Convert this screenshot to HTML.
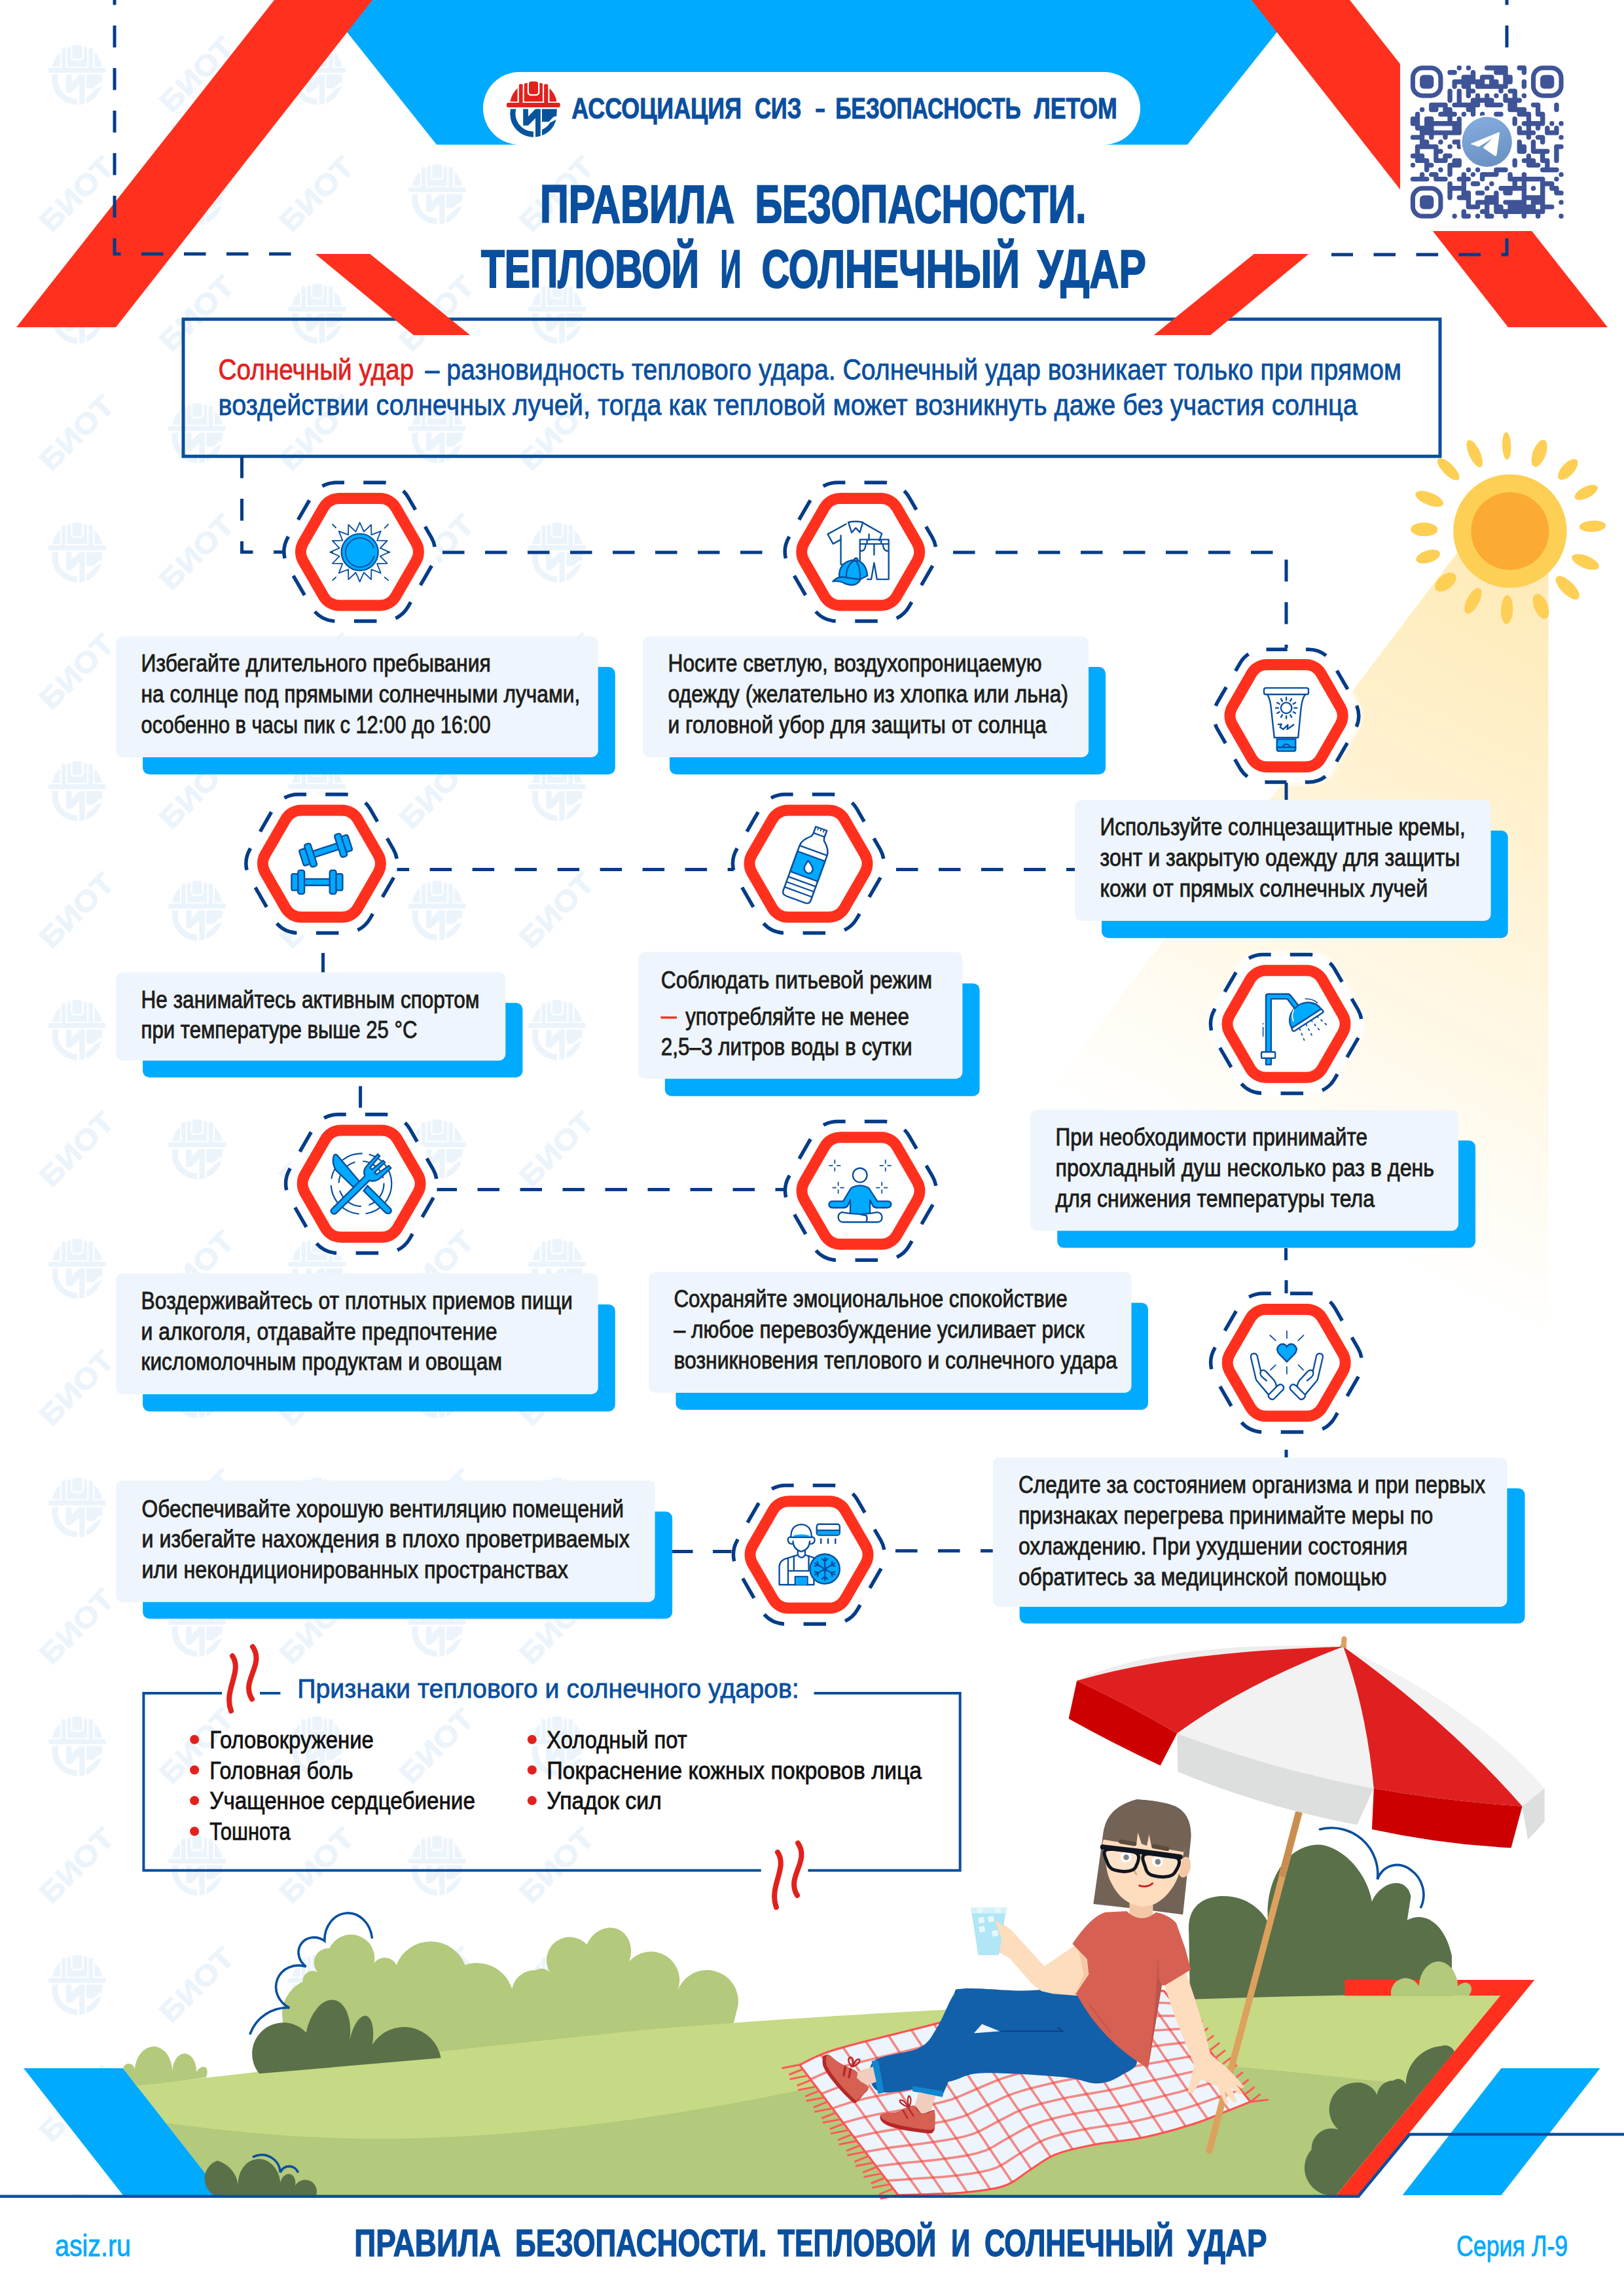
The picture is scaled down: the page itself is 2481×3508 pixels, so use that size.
<!DOCTYPE html>
<html lang="ru"><head><meta charset="utf-8"><title>Правила безопасности. Тепловой и солнечный удар</title>
<style>
html,body{margin:0;padding:0;background:#fff;}
body{width:2481px;height:3508px;overflow:hidden;}
svg{display:block;font-family:"Liberation Sans",sans-serif;}
</style></head><body>
<svg width="2481" height="3508" viewBox="0 0 2481 3508">
<defs>
<pattern id="wm" x="26.3" y="23.8" width="366.6" height="364.8" patternUnits="userSpaceOnUse">
<g transform="translate(91.7,90.2) scale(1.077) translate(-815,-166.5)"><path d="M779.5,155.2 A36,36 0 0 1 850.5,155.2 Z" fill="#EBF3FB"/><g fill="#fff"><rect x="790.6" y="120" width="2.3" height="36"/><rect x="798.4" y="120" width="2.3" height="36"/><rect x="829" y="120" width="2.3" height="36"/><rect x="837.2" y="120" width="2.3" height="36"/><rect x="805.8" y="122" width="18.5" height="24.3" rx="5"/></g><rect x="792.9" y="128.5" width="5.5" height="30" rx="1.5" fill="#EBF3FB"/><rect x="831.3" y="128.5" width="5.9" height="30" rx="1.5" fill="#EBF3FB"/><rect x="808" y="124.4" width="14" height="19.6" rx="3.5" fill="#EBF3FB"/><rect x="774" y="157" width="81.7" height="7" rx="2.5" fill="#EBF3FB"/><g fill="#EBF3FB"><path d="M779.9,166.5 A35.8,35.8 0 0 0 815,209.4 L815,201 A27.5,27.5 0 0 1 788.3,166.5 Z"/><path d="M850.9,166.5 L850.2,177.6 L845.6,178.6 L838.5,186 L828,186 L828,166.5 Z"/><path d="M849.6,182.8 A35.8,35.8 0 0 1 828,207 L828,198 A27.5,27.5 0 0 0 840.5,187.3 Z"/><path d="M799.2,166.5 H806.9 V178 L818,166.5 H825.8 V207.8 A35.8,35.8 0 0 1 818,209.2 V180.5 L806.9,191.7 H799.2 Z"/></g></g>
<text transform="translate(275,91.2) rotate(-45)" text-anchor="middle" font-size="44" font-weight="bold" fill="#EBF3FB" stroke="#EBF3FB" stroke-width="1.2" textLength="140" lengthAdjust="spacingAndGlyphs" y="14">БИОТ</text>
<text transform="translate(91.7,273.6) rotate(-45)" text-anchor="middle" font-size="44" font-weight="bold" fill="#EBF3FB" stroke="#EBF3FB" stroke-width="1.2" textLength="140" lengthAdjust="spacingAndGlyphs" y="14">БИОТ</text>
<g transform="translate(275,272.6) scale(1.077) translate(-815,-166.5)"><path d="M779.5,155.2 A36,36 0 0 1 850.5,155.2 Z" fill="#EBF3FB"/><g fill="#fff"><rect x="790.6" y="120" width="2.3" height="36"/><rect x="798.4" y="120" width="2.3" height="36"/><rect x="829" y="120" width="2.3" height="36"/><rect x="837.2" y="120" width="2.3" height="36"/><rect x="805.8" y="122" width="18.5" height="24.3" rx="5"/></g><rect x="792.9" y="128.5" width="5.5" height="30" rx="1.5" fill="#EBF3FB"/><rect x="831.3" y="128.5" width="5.9" height="30" rx="1.5" fill="#EBF3FB"/><rect x="808" y="124.4" width="14" height="19.6" rx="3.5" fill="#EBF3FB"/><rect x="774" y="157" width="81.7" height="7" rx="2.5" fill="#EBF3FB"/><g fill="#EBF3FB"><path d="M779.9,166.5 A35.8,35.8 0 0 0 815,209.4 L815,201 A27.5,27.5 0 0 1 788.3,166.5 Z"/><path d="M850.9,166.5 L850.2,177.6 L845.6,178.6 L838.5,186 L828,186 L828,166.5 Z"/><path d="M849.6,182.8 A35.8,35.8 0 0 1 828,207 L828,198 A27.5,27.5 0 0 0 840.5,187.3 Z"/><path d="M799.2,166.5 H806.9 V178 L818,166.5 H825.8 V207.8 A35.8,35.8 0 0 1 818,209.2 V180.5 L806.9,191.7 H799.2 Z"/></g></g>
</pattern>
<linearGradient id="beam" gradientUnits="userSpaceOnUse" x1="2306" y1="811" x2="1820" y2="1772">
<stop offset="0" stop-color="#FFE4A0" stop-opacity="0.78"/><stop offset="1" stop-color="#FFE4A0" stop-opacity="0"/>
</linearGradient>
<linearGradient id="tg" x1="0" y1="0" x2="0.3" y2="1"><stop offset="0" stop-color="#86AEE0"/><stop offset="1" stop-color="#6C93C4"/></linearGradient>
<filter id="blur4" x="-20%" y="-20%" width="140%" height="140%"><feGaussianBlur stdDeviation="3"/></filter>
</defs>
<rect width="2481" height="3508" fill="#fff"/>
<rect width="945" height="3357" fill="url(#wm)"/>
<polygon points="2225.7,845 1124.3,2300 2365.5,2300 2365.5,845" fill="url(#beam)"/>
<polygon points="491,0 1990,0 1814,221 667,221" fill="#00AAFF"/>
<polygon points="419,0 569,0 177,500 25,500" fill="#FF311E"/>
<polygon points="2062,0 1912,0 2304,500 2456,500" fill="#FF311E"/>
<polygon points="482,388 565,388 718,512 632,512" fill="#FF311E"/>
<polygon points="1999,388 1916,388 1763,512 1849,512" fill="#FF311E"/>
<path d="M175,-26 V388 H445" fill="none" stroke="#043C88" stroke-width="5" stroke-dasharray="33.5 31.5"/>
<path d="M2302,-26 V389 H2034" fill="none" stroke="#043C88" stroke-width="5" stroke-dasharray="33.5 31.5"/>
<rect x="2139" y="85" width="270" height="268" fill="#fff"/>
<path d="M2229.1,100 L2229.4,100 A3.5,3.5 0 0 1 2232.9,103.6 L2232.9,103.9 A3.5,3.5 0 0 1 2229.4,107.4 L2229.1,107.4 A3.5,3.5 0 0 1 2225.6,103.9 L2225.6,103.6 A3.5,3.5 0 0 1 2229.1,100Z M2243.2,100 L2243.6,100 A3.5,3.5 0 0 1 2247.1,103.6 L2247.1,103.9 A3.5,3.5 0 0 1 2243.6,107.4 L2243.2,107.4 A3.5,3.5 0 0 1 2239.7,103.9 L2239.7,103.6 A3.5,3.5 0 0 1 2243.2,100Z M2271.6,100 L2275.4,100 L2275.4,107.4 L2271.6,107.4 A3.5,3.5 0 0 1 2268,103.9 L2268,103.6 A3.5,3.5 0 0 1 2271.6,100Z M2275.1,100 L2282.5,100 L2282.5,107.4 L2275.1,107.4 L2275.1,100Z M2282.2,100 L2289.6,100 L2289.6,107.4 L2282.2,107.4 L2282.2,100Z M2289.3,100 L2296.7,100 L2296.7,107.4 L2289.3,107.4 L2289.3,100Z M2296.3,100 L2300.2,100 A3.5,3.5 0 0 1 2303.7,103.6 L2303.7,107.4 L2296.3,107.4 L2296.3,100Z M2321.1,100 L2325,100 L2325,107.4 L2321.1,107.4 A3.5,3.5 0 0 1 2317.6,103.9 L2317.6,103.6 A3.5,3.5 0 0 1 2321.1,100Z M2324.7,100 L2328.5,100 A3.5,3.5 0 0 1 2332.1,103.6 L2332.1,107.4 L2324.7,107.4 L2324.7,100Z M2214.9,107.1 L2218.8,107.1 L2218.8,114.5 L2214.9,114.5 A3.5,3.5 0 0 1 2211.4,111 L2211.4,110.7 A3.5,3.5 0 0 1 2214.9,107.1Z M2218.5,107.1 L2222.3,107.1 A3.5,3.5 0 0 1 2225.8,110.7 L2225.8,111 A3.5,3.5 0 0 1 2222.3,114.5 L2218.5,114.5 L2218.5,107.1Z M2250.3,107.1 L2250.6,107.1 A3.5,3.5 0 0 1 2254.2,110.7 L2254.2,114.5 L2246.8,114.5 L2246.8,110.7 A3.5,3.5 0 0 1 2250.3,107.1Z M2282.2,107.1 L2289.6,107.1 L2289.6,114.5 L2285.7,114.5 A3.5,3.5 0 0 1 2282.2,111 L2282.2,107.1Z M2289.3,107.1 L2296.7,107.1 L2296.7,114.5 L2289.3,114.5 L2289.3,107.1Z M2296.3,107.1 L2303.7,107.1 L2303.7,114.5 L2296.3,114.5 L2296.3,107.1Z M2324.7,107.1 L2332.1,107.1 L2332.1,111 A3.5,3.5 0 0 1 2328.5,114.5 L2328.2,114.5 A3.5,3.5 0 0 1 2324.7,111 L2324.7,107.1Z M2236.2,114.2 L2240,114.2 L2240,121.6 L2232.6,121.6 L2232.6,117.8 A3.5,3.5 0 0 1 2236.2,114.2Z M2239.7,114.2 L2247.1,114.2 L2247.1,121.6 L2239.7,121.6 L2239.7,114.2Z M2246.8,114.2 L2254.2,114.2 L2254.2,121.6 L2246.8,121.6 L2246.8,114.2Z M2264.5,114.2 L2268.3,114.2 L2268.3,121.6 L2260.9,121.6 L2260.9,117.8 A3.5,3.5 0 0 1 2264.5,114.2Z M2268,114.2 L2275.4,114.2 L2275.4,121.6 L2268,121.6 L2268,114.2Z M2275.1,114.2 L2279,114.2 A3.5,3.5 0 0 1 2282.5,117.8 L2282.5,121.6 L2275.1,121.6 L2275.1,114.2Z M2296.3,114.2 L2303.7,114.2 L2303.7,121.6 L2296.3,121.6 L2296.3,114.2Z M2303.4,114.2 L2307.3,114.2 A3.5,3.5 0 0 1 2310.8,117.8 L2310.8,121.6 L2303.4,121.6 L2303.4,114.2Z M2222,121.3 L2225.8,121.3 L2225.8,128.7 L2218.5,128.7 L2218.5,124.8 A3.5,3.5 0 0 1 2222,121.3Z M2225.6,121.3 L2232.9,121.3 L2232.9,128.7 L2225.6,128.7 L2225.6,121.3Z M2232.6,121.3 L2240,121.3 L2240,128.7 L2232.6,128.7 L2232.6,121.3Z M2239.7,121.3 L2247.1,121.3 L2247.1,128.7 L2239.7,128.7 L2239.7,121.3Z M2246.8,121.3 L2254.2,121.3 L2254.2,128.7 L2246.8,128.7 L2246.8,121.3Z M2253.9,121.3 L2261.2,121.3 L2261.2,128.7 L2253.9,128.7 L2253.9,121.3Z M2260.9,121.3 L2268.3,121.3 L2268.3,128.7 L2260.9,128.7 L2260.9,121.3Z M2275.1,121.3 L2282.5,121.3 L2282.5,128.7 L2275.1,128.7 L2275.1,121.3Z M2282.2,121.3 L2286,121.3 A3.5,3.5 0 0 1 2289.6,124.8 L2289.6,128.7 L2282.2,128.7 L2282.2,121.3Z M2296.3,121.3 L2303.7,121.3 L2303.7,128.7 L2296.3,128.7 L2296.3,121.3Z M2303.4,121.3 L2310.8,121.3 L2310.8,125.1 A3.5,3.5 0 0 1 2307.3,128.7 L2303.4,128.7 L2303.4,121.3Z M2328.2,121.3 L2328.5,121.3 A3.5,3.5 0 0 1 2332.1,124.8 L2332.1,128.7 L2324.7,128.7 L2324.7,124.8 A3.5,3.5 0 0 1 2328.2,121.3Z M2218.5,128.4 L2225.8,128.4 L2225.8,132.2 A3.5,3.5 0 0 1 2222.3,135.8 L2222,135.8 A3.5,3.5 0 0 1 2218.5,132.2 L2218.5,128.4Z M2232.6,128.4 L2240,128.4 L2240,135.8 L2236.2,135.8 A3.5,3.5 0 0 1 2232.6,132.2 L2232.6,128.4Z M2239.7,128.4 L2247.1,128.4 L2247.1,135.8 L2239.7,135.8 L2239.7,128.4Z M2253.9,128.4 L2261.2,128.4 L2261.2,135.8 L2257.4,135.8 A3.5,3.5 0 0 1 2253.9,132.2 L2253.9,128.4Z M2260.9,128.4 L2268.3,128.4 L2268.3,135.8 L2260.9,135.8 L2260.9,128.4Z M2268,128.4 L2275.4,128.4 L2275.4,135.8 L2268,135.8 L2268,128.4Z M2275.1,128.4 L2282.5,128.4 L2282.5,135.8 L2275.1,135.8 L2275.1,128.4Z M2282.2,128.4 L2289.6,128.4 L2289.6,135.8 L2282.2,135.8 L2282.2,128.4Z M2289.3,128.4 L2296.7,128.4 L2296.7,135.8 L2289.3,135.8 L2289.3,128.4Z M2296.3,128.4 L2303.7,128.4 L2303.7,132.2 A3.5,3.5 0 0 1 2300.2,135.8 L2296.3,135.8 L2296.3,128.4Z M2324.7,128.4 L2332.1,128.4 L2332.1,132.2 A3.5,3.5 0 0 1 2328.5,135.8 L2328.2,135.8 A3.5,3.5 0 0 1 2324.7,132.2 L2324.7,128.4Z M2214.9,135.4 L2215.2,135.4 A3.5,3.5 0 0 1 2218.8,139 L2218.8,142.8 L2211.4,142.8 L2211.4,139 A3.5,3.5 0 0 1 2214.9,135.4Z M2229.1,135.4 L2229.4,135.4 A3.5,3.5 0 0 1 2232.9,139 L2232.9,142.8 L2225.6,142.8 L2225.6,139 A3.5,3.5 0 0 1 2229.1,135.4Z M2239.7,135.4 L2247.1,135.4 L2247.1,142.8 L2239.7,142.8 L2239.7,135.4Z M2246.8,135.4 L2250.6,135.4 A3.5,3.5 0 0 1 2254.2,139 L2254.2,139.3 A3.5,3.5 0 0 1 2250.6,142.8 L2246.8,142.8 L2246.8,135.4Z M2289.3,135.4 L2296.7,135.4 L2296.7,139.3 A3.5,3.5 0 0 1 2293.1,142.8 L2292.8,142.8 A3.5,3.5 0 0 1 2289.3,139.3 L2289.3,135.4Z M2307,135.4 L2310.8,135.4 L2310.8,142.8 L2307,142.8 A3.5,3.5 0 0 1 2303.4,139.3 L2303.4,139 A3.5,3.5 0 0 1 2307,135.4Z M2310.5,135.4 L2314.3,135.4 A3.5,3.5 0 0 1 2317.9,139 L2317.9,142.8 L2310.5,142.8 L2310.5,135.4Z M2211.4,142.5 L2218.8,142.5 L2218.8,149.9 L2211.4,149.9 L2211.4,142.5Z M2225.6,142.5 L2232.9,142.5 L2232.9,149.9 L2225.6,149.9 L2225.6,142.5Z M2239.7,142.5 L2247.1,142.5 L2247.1,146.4 A3.5,3.5 0 0 1 2243.6,149.9 L2243.2,149.9 A3.5,3.5 0 0 1 2239.7,146.4 L2239.7,142.5Z M2257.4,142.5 L2257.7,142.5 A3.5,3.5 0 0 1 2261.2,146.1 L2261.2,149.9 L2253.9,149.9 L2253.9,146.1 A3.5,3.5 0 0 1 2257.4,142.5Z M2271.6,142.5 L2271.9,142.5 A3.5,3.5 0 0 1 2275.4,146.1 L2275.4,149.9 L2268,149.9 L2268,146.1 A3.5,3.5 0 0 1 2271.6,142.5Z M2285.7,142.5 L2286,142.5 A3.5,3.5 0 0 1 2289.6,146.1 L2289.6,146.4 A3.5,3.5 0 0 1 2286,149.9 L2285.7,149.9 A3.5,3.5 0 0 1 2282.2,146.4 L2282.2,146.1 A3.5,3.5 0 0 1 2285.7,142.5Z M2299.9,142.5 L2300.2,142.5 A3.5,3.5 0 0 1 2303.7,146.1 L2303.7,149.9 L2296.3,149.9 L2296.3,146.1 A3.5,3.5 0 0 1 2299.9,142.5Z M2310.5,142.5 L2317.9,142.5 L2317.9,149.9 L2310.5,149.9 L2310.5,142.5Z M2328.2,142.5 L2328.5,142.5 A3.5,3.5 0 0 1 2332.1,146.1 L2332.1,146.4 A3.5,3.5 0 0 1 2328.5,149.9 L2328.2,149.9 A3.5,3.5 0 0 1 2324.7,146.4 L2324.7,146.1 A3.5,3.5 0 0 1 2328.2,142.5Z M2211.4,149.6 L2218.8,149.6 L2218.8,153.5 A3.5,3.5 0 0 1 2215.2,157 L2214.9,157 A3.5,3.5 0 0 1 2211.4,153.5 L2211.4,149.6Z M2225.6,149.6 L2232.9,149.6 L2232.9,157 L2225.6,157 L2225.6,149.6Z M2250.3,149.6 L2254.2,149.6 L2254.2,157 L2246.8,157 L2246.8,153.1 A3.5,3.5 0 0 1 2250.3,149.6Z M2253.9,149.6 L2261.2,149.6 L2261.2,157 L2253.9,157 L2253.9,149.6Z M2260.9,149.6 L2268.3,149.6 L2268.3,157 L2260.9,157 L2260.9,149.6Z M2268,149.6 L2275.4,149.6 L2275.4,157 L2268,157 L2268,149.6Z M2275.1,149.6 L2279,149.6 A3.5,3.5 0 0 1 2282.5,153.1 L2282.5,157 L2275.1,157 L2275.1,149.6Z M2296.3,149.6 L2303.7,149.6 L2303.7,157 L2299.9,157 A3.5,3.5 0 0 1 2296.3,153.5 L2296.3,149.6Z M2303.4,149.6 L2310.8,149.6 L2310.8,157 L2303.4,157 L2303.4,149.6Z M2310.5,149.6 L2317.9,149.6 L2317.9,157 L2310.5,157 L2310.5,149.6Z M2317.6,149.6 L2321.4,149.6 A3.5,3.5 0 0 1 2325,153.1 L2325,153.5 A3.5,3.5 0 0 1 2321.4,157 L2317.6,157 L2317.6,149.6Z M2186.6,156.7 L2190.5,156.7 L2190.5,164.1 L2183.1,164.1 L2183.1,160.2 A3.5,3.5 0 0 1 2186.6,156.7Z M2190.2,156.7 L2197.5,156.7 L2197.5,164.1 L2190.2,164.1 L2190.2,156.7Z M2197.2,156.7 L2204.6,156.7 L2204.6,164.1 L2197.2,164.1 L2197.2,156.7Z M2204.3,156.7 L2208.2,156.7 A3.5,3.5 0 0 1 2211.7,160.2 L2211.7,164.1 L2204.3,164.1 L2204.3,156.7Z M2222,156.7 L2225.8,156.7 L2225.8,164.1 L2222,164.1 A3.5,3.5 0 0 1 2218.5,160.5 L2218.5,160.2 A3.5,3.5 0 0 1 2222,156.7Z M2225.6,156.7 L2232.9,156.7 L2232.9,164.1 L2225.6,164.1 L2225.6,156.7Z M2232.6,156.7 L2240,156.7 L2240,164.1 L2232.6,164.1 L2232.6,156.7Z M2239.7,156.7 L2247.1,156.7 L2247.1,164.1 L2239.7,164.1 L2239.7,156.7Z M2246.8,156.7 L2254.2,156.7 L2254.2,164.1 L2246.8,164.1 L2246.8,156.7Z M2253.9,156.7 L2261.2,156.7 L2261.2,160.5 A3.5,3.5 0 0 1 2257.7,164.1 L2253.9,164.1 L2253.9,156.7Z M2268,156.7 L2275.4,156.7 L2275.4,164.1 L2271.6,164.1 A3.5,3.5 0 0 1 2268,160.5 L2268,156.7Z M2275.1,156.7 L2282.5,156.7 L2282.5,164.1 L2275.1,164.1 L2275.1,156.7Z M2282.2,156.7 L2289.6,156.7 L2289.6,164.1 L2282.2,164.1 L2282.2,156.7Z M2289.3,156.7 L2293.1,156.7 A3.5,3.5 0 0 1 2296.7,160.2 L2296.7,160.5 A3.5,3.5 0 0 1 2293.1,164.1 L2289.3,164.1 L2289.3,156.7Z M2303.4,156.7 L2310.8,156.7 L2310.8,164.1 L2303.4,164.1 L2303.4,156.7Z M2310.5,156.7 L2317.9,156.7 L2317.9,164.1 L2310.5,164.1 L2310.5,156.7Z M2342.4,156.7 L2346.2,156.7 L2346.2,164.1 L2342.4,164.1 A3.5,3.5 0 0 1 2338.8,160.5 L2338.8,160.2 A3.5,3.5 0 0 1 2342.4,156.7Z M2345.9,156.7 L2349.8,156.7 A3.5,3.5 0 0 1 2353.3,160.2 L2353.3,164.1 L2345.9,164.1 L2345.9,156.7Z M2377.8,156.7 L2378.1,156.7 A3.5,3.5 0 0 1 2381.6,160.2 L2381.6,164.1 L2374.2,164.1 L2374.2,160.2 A3.5,3.5 0 0 1 2377.8,156.7Z M2172.4,163.8 L2172.8,163.8 A3.5,3.5 0 0 1 2176.3,167.3 L2176.3,167.6 A3.5,3.5 0 0 1 2172.8,171.2 L2172.4,171.2 A3.5,3.5 0 0 1 2168.9,167.6 L2168.9,167.3 A3.5,3.5 0 0 1 2172.4,163.8Z M2183.1,163.8 L2190.5,163.8 L2190.5,171.2 L2186.6,171.2 A3.5,3.5 0 0 1 2183.1,167.6 L2183.1,163.8Z M2190.2,163.8 L2197.5,163.8 L2197.5,167.6 A3.5,3.5 0 0 1 2194,171.2 L2190.2,171.2 L2190.2,163.8Z M2204.3,163.8 L2211.7,163.8 L2211.7,171.2 L2204.3,171.2 L2204.3,163.8Z M2211.4,163.8 L2215.2,163.8 A3.5,3.5 0 0 1 2218.8,167.3 L2218.8,171.2 L2211.4,171.2 L2211.4,163.8Z M2239.7,163.8 L2247.1,163.8 L2247.1,171.2 L2243.2,171.2 A3.5,3.5 0 0 1 2239.7,167.6 L2239.7,163.8Z M2246.8,163.8 L2254.2,163.8 L2254.2,171.2 L2246.8,171.2 L2246.8,163.8Z M2303.4,163.8 L2310.8,163.8 L2310.8,171.2 L2307,171.2 A3.5,3.5 0 0 1 2303.4,167.6 L2303.4,163.8Z M2310.5,163.8 L2317.9,163.8 L2317.9,171.2 L2310.5,171.2 L2310.5,163.8Z M2317.6,163.8 L2325,163.8 L2325,171.2 L2317.6,171.2 L2317.6,163.8Z M2324.7,163.8 L2328.5,163.8 A3.5,3.5 0 0 1 2332.1,167.3 L2332.1,171.2 L2324.7,171.2 L2324.7,163.8Z M2345.9,163.8 L2353.3,163.8 L2353.3,171.2 L2345.9,171.2 L2345.9,163.8Z M2374.2,163.8 L2381.6,163.8 L2381.6,167.6 A3.5,3.5 0 0 1 2378.1,171.2 L2377.8,171.2 A3.5,3.5 0 0 1 2374.2,167.6 L2374.2,163.8Z M2165.4,170.8 L2165.7,170.8 A3.5,3.5 0 0 1 2169.2,174.4 L2169.2,178.2 L2161.8,178.2 L2161.8,174.4 A3.5,3.5 0 0 1 2165.4,170.8Z M2200.8,170.8 L2204.6,170.8 L2204.6,178.2 L2200.8,178.2 A3.5,3.5 0 0 1 2197.2,174.7 L2197.2,174.4 A3.5,3.5 0 0 1 2200.8,170.8Z M2204.3,170.8 L2211.7,170.8 L2211.7,178.2 L2204.3,178.2 L2204.3,170.8Z M2211.4,170.8 L2218.8,170.8 L2218.8,178.2 L2211.4,178.2 L2211.4,170.8Z M2218.5,170.8 L2222.3,170.8 A3.5,3.5 0 0 1 2225.8,174.4 L2225.8,174.7 A3.5,3.5 0 0 1 2222.3,178.2 L2218.5,178.2 L2218.5,170.8Z M2236.2,170.8 L2236.5,170.8 A3.5,3.5 0 0 1 2240,174.4 L2240,174.7 A3.5,3.5 0 0 1 2236.5,178.2 L2236.2,178.2 A3.5,3.5 0 0 1 2232.6,174.7 L2232.6,174.4 A3.5,3.5 0 0 1 2236.2,170.8Z M2246.8,170.8 L2254.2,170.8 L2254.2,174.7 A3.5,3.5 0 0 1 2250.6,178.2 L2250.3,178.2 A3.5,3.5 0 0 1 2246.8,174.7 L2246.8,170.8Z M2264.5,170.8 L2264.8,170.8 A3.5,3.5 0 0 1 2268.3,174.4 L2268.3,174.7 A3.5,3.5 0 0 1 2264.8,178.2 L2264.5,178.2 A3.5,3.5 0 0 1 2260.9,174.7 L2260.9,174.4 A3.5,3.5 0 0 1 2264.5,170.8Z M2285.7,170.8 L2289.6,170.8 L2289.6,178.2 L2285.7,178.2 A3.5,3.5 0 0 1 2282.2,174.7 L2282.2,174.4 A3.5,3.5 0 0 1 2285.7,170.8Z M2289.3,170.8 L2293.1,170.8 A3.5,3.5 0 0 1 2296.7,174.4 L2296.7,174.7 A3.5,3.5 0 0 1 2293.1,178.2 L2289.3,178.2 L2289.3,170.8Z M2317.6,170.8 L2325,170.8 L2325,178.2 L2321.1,178.2 A3.5,3.5 0 0 1 2317.6,174.7 L2317.6,170.8Z M2324.7,170.8 L2332.1,170.8 L2332.1,178.2 L2324.7,178.2 L2324.7,170.8Z M2331.8,170.8 L2335.6,170.8 A3.5,3.5 0 0 1 2339.1,174.4 L2339.1,178.2 L2331.8,178.2 L2331.8,170.8Z M2345.9,170.8 L2353.3,170.8 L2353.3,178.2 L2349.4,178.2 A3.5,3.5 0 0 1 2345.9,174.7 L2345.9,170.8Z M2353,170.8 L2356.8,170.8 A3.5,3.5 0 0 1 2360.4,174.4 L2360.4,178.2 L2353,178.2 L2353,170.8Z M2158.3,177.9 L2162.1,177.9 L2162.1,185.3 L2154.8,185.3 L2154.8,181.5 A3.5,3.5 0 0 1 2158.3,177.9Z M2161.8,177.9 L2169.2,177.9 L2169.2,185.3 L2161.8,185.3 L2161.8,177.9Z M2179.5,177.9 L2183.4,177.9 L2183.4,185.3 L2176,185.3 L2176,181.5 A3.5,3.5 0 0 1 2179.5,177.9Z M2183.1,177.9 L2186.9,177.9 A3.5,3.5 0 0 1 2190.5,181.5 L2190.5,185.3 L2183.1,185.3 L2183.1,177.9Z M2211.4,177.9 L2218.8,177.9 L2218.8,185.3 L2211.4,185.3 L2211.4,177.9Z M2229.1,177.9 L2229.4,177.9 A3.5,3.5 0 0 1 2232.9,181.5 L2232.9,185.3 L2225.6,185.3 L2225.6,181.5 A3.5,3.5 0 0 1 2229.1,177.9Z M2314,177.9 L2314.3,177.9 A3.5,3.5 0 0 1 2317.9,181.5 L2317.9,185.3 L2310.5,185.3 L2310.5,181.5 A3.5,3.5 0 0 1 2314,177.9Z M2331.8,177.9 L2339.1,177.9 L2339.1,185.3 L2331.8,185.3 L2331.8,177.9Z M2353,177.9 L2360.4,177.9 L2360.4,185.3 L2353,185.3 L2353,177.9Z M2154.8,185 L2162.1,185 L2162.1,192.4 L2158.3,192.4 A3.5,3.5 0 0 1 2154.8,188.9 L2154.8,185Z M2161.8,185 L2169.2,185 L2169.2,192.4 L2161.8,192.4 L2161.8,185Z M2176,185 L2183.4,185 L2183.4,192.4 L2176,192.4 L2176,185Z M2183.1,185 L2190.5,185 L2190.5,192.4 L2183.1,192.4 L2183.1,185Z M2190.2,185 L2197.5,185 L2197.5,192.4 L2190.2,192.4 L2190.2,185Z M2197.2,185 L2204.6,185 L2204.6,192.4 L2197.2,192.4 L2197.2,185Z M2204.3,185 L2211.7,185 L2211.7,192.4 L2204.3,192.4 L2204.3,185Z M2211.4,185 L2218.8,185 L2218.8,192.4 L2211.4,192.4 L2211.4,185Z M2218.5,185 L2225.8,185 L2225.8,192.4 L2218.5,192.4 L2218.5,185Z M2225.6,185 L2232.9,185 L2232.9,192.4 L2225.6,192.4 L2225.6,185Z M2310.5,185 L2317.9,185 L2317.9,188.9 A3.5,3.5 0 0 1 2314.3,192.4 L2314,192.4 A3.5,3.5 0 0 1 2310.5,188.9 L2310.5,185Z M2328.2,185 L2332.1,185 L2332.1,192.4 L2328.2,192.4 A3.5,3.5 0 0 1 2324.7,188.9 L2324.7,188.6 A3.5,3.5 0 0 1 2328.2,185Z M2331.8,185 L2339.1,185 L2339.1,192.4 L2331.8,192.4 L2331.8,185Z M2338.8,185 L2346.2,185 L2346.2,192.4 L2338.8,192.4 L2338.8,185Z M2345.9,185 L2353.3,185 L2353.3,192.4 L2345.9,192.4 L2345.9,185Z M2353,185 L2360.4,185 L2360.4,188.9 A3.5,3.5 0 0 1 2356.8,192.4 L2353,192.4 L2353,185Z M2370.7,185 L2371,185 A3.5,3.5 0 0 1 2374.5,188.6 L2374.5,188.9 A3.5,3.5 0 0 1 2371,192.4 L2370.7,192.4 A3.5,3.5 0 0 1 2367.2,188.9 L2367.2,188.6 A3.5,3.5 0 0 1 2370.7,185Z M2384.8,185 L2385.2,185 A3.5,3.5 0 0 1 2388.7,188.6 L2388.7,188.9 A3.5,3.5 0 0 1 2385.2,192.4 L2384.8,192.4 A3.5,3.5 0 0 1 2381.3,188.9 L2381.3,188.6 A3.5,3.5 0 0 1 2384.8,185Z M2161.8,192.1 L2169.2,192.1 L2169.2,199.5 L2165.4,199.5 A3.5,3.5 0 0 1 2161.8,195.9 L2161.8,192.1Z M2168.9,192.1 L2176.3,192.1 L2176.3,199.5 L2168.9,199.5 L2168.9,192.1Z M2176,192.1 L2183.4,192.1 L2183.4,199.5 L2176,199.5 L2176,192.1Z M2183.1,192.1 L2190.5,192.1 L2190.5,199.5 L2183.1,199.5 L2183.1,192.1Z M2218.5,192.1 L2225.8,192.1 L2225.8,199.5 L2218.5,199.5 L2218.5,192.1Z M2225.6,192.1 L2232.9,192.1 L2232.9,199.5 L2225.6,199.5 L2225.6,192.1Z M2321.1,192.1 L2321.4,192.1 A3.5,3.5 0 0 1 2325,195.6 L2325,199.5 L2317.6,199.5 L2317.6,195.6 A3.5,3.5 0 0 1 2321.1,192.1Z M2331.8,192.1 L2339.1,192.1 L2339.1,199.5 L2331.8,199.5 L2331.8,192.1Z M2345.9,192.1 L2353.3,192.1 L2353.3,195.9 A3.5,3.5 0 0 1 2349.8,199.5 L2349.4,199.5 A3.5,3.5 0 0 1 2345.9,195.9 L2345.9,192.1Z M2363.6,192.1 L2363.9,192.1 A3.5,3.5 0 0 1 2367.5,195.6 L2367.5,199.5 L2360.1,199.5 L2360.1,195.6 A3.5,3.5 0 0 1 2363.6,192.1Z M2377.8,192.1 L2378.1,192.1 A3.5,3.5 0 0 1 2381.6,195.6 L2381.6,199.5 L2374.2,199.5 L2374.2,195.6 A3.5,3.5 0 0 1 2377.8,192.1Z M2168.9,199.2 L2176.3,199.2 L2176.3,206.6 L2168.9,206.6 L2168.9,199.2Z M2176,199.2 L2183.4,199.2 L2183.4,206.6 L2176,206.6 L2176,199.2Z M2183.1,199.2 L2190.5,199.2 L2190.5,206.6 L2183.1,206.6 L2183.1,199.2Z M2190.2,199.2 L2197.5,199.2 L2197.5,206.6 L2190.2,206.6 L2190.2,199.2Z M2197.2,199.2 L2204.6,199.2 L2204.6,206.6 L2197.2,206.6 L2197.2,199.2Z M2204.3,199.2 L2211.7,199.2 L2211.7,206.6 L2204.3,206.6 L2204.3,199.2Z M2211.4,199.2 L2218.8,199.2 L2218.8,206.6 L2211.4,206.6 L2211.4,199.2Z M2218.5,199.2 L2225.8,199.2 L2225.8,206.6 L2218.5,206.6 L2218.5,199.2Z M2225.6,199.2 L2232.9,199.2 L2232.9,203 A3.5,3.5 0 0 1 2229.4,206.6 L2225.6,206.6 L2225.6,199.2Z M2317.6,199.2 L2325,199.2 L2325,206.6 L2321.1,206.6 A3.5,3.5 0 0 1 2317.6,203 L2317.6,199.2Z M2324.7,199.2 L2332.1,199.2 L2332.1,206.6 L2324.7,206.6 L2324.7,199.2Z M2331.8,199.2 L2339.1,199.2 L2339.1,206.6 L2331.8,206.6 L2331.8,199.2Z M2338.8,199.2 L2342.7,199.2 A3.5,3.5 0 0 1 2346.2,202.7 L2346.2,203 A3.5,3.5 0 0 1 2342.7,206.6 L2338.8,206.6 L2338.8,199.2Z M2360.1,199.2 L2367.5,199.2 L2367.5,206.6 L2363.6,206.6 A3.5,3.5 0 0 1 2360.1,203 L2360.1,199.2Z M2367.2,199.2 L2374.5,199.2 L2374.5,206.6 L2367.2,206.6 L2367.2,199.2Z M2374.2,199.2 L2381.6,199.2 L2381.6,203 A3.5,3.5 0 0 1 2378.1,206.6 L2374.2,206.6 L2374.2,199.2Z M2158.3,206.2 L2162.1,206.2 L2162.1,213.6 L2158.3,213.6 A3.5,3.5 0 0 1 2154.8,210.1 L2154.8,209.8 A3.5,3.5 0 0 1 2158.3,206.2Z M2161.8,206.2 L2169.2,206.2 L2169.2,213.6 L2161.8,213.6 L2161.8,206.2Z M2168.9,206.2 L2176.3,206.2 L2176.3,213.6 L2168.9,213.6 L2168.9,206.2Z M2183.1,206.2 L2190.5,206.2 L2190.5,210.1 A3.5,3.5 0 0 1 2186.9,213.6 L2186.6,213.6 A3.5,3.5 0 0 1 2183.1,210.1 L2183.1,206.2Z M2204.3,206.2 L2211.7,206.2 L2211.7,210.1 A3.5,3.5 0 0 1 2208.2,213.6 L2207.8,213.6 A3.5,3.5 0 0 1 2204.3,210.1 L2204.3,206.2Z M2331.8,206.2 L2339.1,206.2 L2339.1,210.1 A3.5,3.5 0 0 1 2335.6,213.6 L2335.3,213.6 A3.5,3.5 0 0 1 2331.8,210.1 L2331.8,206.2Z M2349.4,206.2 L2353.3,206.2 L2353.3,213.6 L2349.4,213.6 A3.5,3.5 0 0 1 2345.9,210.1 L2345.9,209.8 A3.5,3.5 0 0 1 2349.4,206.2Z M2353,206.2 L2356.8,206.2 A3.5,3.5 0 0 1 2360.4,209.8 L2360.4,213.6 L2353,213.6 L2353,206.2Z M2384.8,206.2 L2385.2,206.2 A3.5,3.5 0 0 1 2388.7,209.8 L2388.7,210.1 A3.5,3.5 0 0 1 2385.2,213.6 L2384.8,213.6 A3.5,3.5 0 0 1 2381.3,210.1 L2381.3,209.8 A3.5,3.5 0 0 1 2384.8,206.2Z M2168.9,213.3 L2176.3,213.3 L2176.3,220.7 L2168.9,220.7 L2168.9,213.3Z M2176,213.3 L2179.8,213.3 A3.5,3.5 0 0 1 2183.4,216.9 L2183.4,220.7 L2176,220.7 L2176,213.3Z M2200.8,213.3 L2201.1,213.3 A3.5,3.5 0 0 1 2204.6,216.9 L2204.6,217.2 A3.5,3.5 0 0 1 2201.1,220.7 L2200.8,220.7 A3.5,3.5 0 0 1 2197.2,217.2 L2197.2,216.9 A3.5,3.5 0 0 1 2200.8,213.3Z M2222,213.3 L2225.8,213.3 L2225.8,220.7 L2222,220.7 A3.5,3.5 0 0 1 2218.5,217.2 L2218.5,216.9 A3.5,3.5 0 0 1 2222,213.3Z M2225.6,213.3 L2229.4,213.3 A3.5,3.5 0 0 1 2232.9,216.9 L2232.9,220.7 L2225.6,220.7 L2225.6,213.3Z M2321.1,213.3 L2321.4,213.3 A3.5,3.5 0 0 1 2325,216.9 L2325,220.7 L2317.6,220.7 L2317.6,216.9 A3.5,3.5 0 0 1 2321.1,213.3Z M2342.4,213.3 L2342.7,213.3 A3.5,3.5 0 0 1 2346.2,216.9 L2346.2,220.7 L2338.8,220.7 L2338.8,216.9 A3.5,3.5 0 0 1 2342.4,213.3Z M2353,213.3 L2360.4,213.3 L2360.4,217.2 A3.5,3.5 0 0 1 2356.8,220.7 L2356.5,220.7 A3.5,3.5 0 0 1 2353,217.2 L2353,213.3Z M2165.4,220.4 L2169.2,220.4 L2169.2,227.8 L2161.8,227.8 L2161.8,223.9 A3.5,3.5 0 0 1 2165.4,220.4Z M2168.9,220.4 L2176.3,220.4 L2176.3,227.8 L2168.9,227.8 L2168.9,220.4Z M2176,220.4 L2183.4,220.4 L2183.4,227.8 L2176,227.8 L2176,220.4Z M2183.1,220.4 L2190.5,220.4 L2190.5,227.8 L2183.1,227.8 L2183.1,220.4Z M2190.2,220.4 L2194,220.4 A3.5,3.5 0 0 1 2197.5,223.9 L2197.5,227.8 L2190.2,227.8 L2190.2,220.4Z M2214.9,220.4 L2215.2,220.4 A3.5,3.5 0 0 1 2218.8,223.9 L2218.8,224.3 A3.5,3.5 0 0 1 2215.2,227.8 L2214.9,227.8 A3.5,3.5 0 0 1 2211.4,224.3 L2211.4,223.9 A3.5,3.5 0 0 1 2214.9,220.4Z M2225.6,220.4 L2232.9,220.4 L2232.9,224.3 A3.5,3.5 0 0 1 2229.4,227.8 L2229.1,227.8 A3.5,3.5 0 0 1 2225.6,224.3 L2225.6,220.4Z M2317.6,220.4 L2325,220.4 L2325,227.8 L2317.6,227.8 L2317.6,220.4Z M2324.7,220.4 L2328.5,220.4 A3.5,3.5 0 0 1 2332.1,223.9 L2332.1,227.8 L2324.7,227.8 L2324.7,220.4Z M2338.8,220.4 L2346.2,220.4 L2346.2,227.8 L2338.8,227.8 L2338.8,220.4Z M2377.8,220.4 L2381.6,220.4 L2381.6,227.8 L2374.2,227.8 L2374.2,223.9 A3.5,3.5 0 0 1 2377.8,220.4Z M2381.3,220.4 L2385.2,220.4 A3.5,3.5 0 0 1 2388.7,223.9 L2388.7,224.3 A3.5,3.5 0 0 1 2385.2,227.8 L2381.3,227.8 L2381.3,220.4Z M2161.8,227.5 L2169.2,227.5 L2169.2,234.9 L2161.8,234.9 L2161.8,227.5Z M2190.2,227.5 L2197.5,227.5 L2197.5,234.9 L2190.2,234.9 L2190.2,227.5Z M2197.2,227.5 L2201.1,227.5 A3.5,3.5 0 0 1 2204.6,231 L2204.6,231.3 A3.5,3.5 0 0 1 2201.1,234.9 L2197.2,234.9 L2197.2,227.5Z M2317.6,227.5 L2325,227.5 L2325,234.9 L2321.1,234.9 A3.5,3.5 0 0 1 2317.6,231.3 L2317.6,227.5Z M2324.7,227.5 L2332.1,227.5 L2332.1,231.3 A3.5,3.5 0 0 1 2328.5,234.9 L2324.7,234.9 L2324.7,227.5Z M2338.8,227.5 L2346.2,227.5 L2346.2,234.9 L2342.4,234.9 A3.5,3.5 0 0 1 2338.8,231.3 L2338.8,227.5Z M2345.9,227.5 L2353.3,227.5 L2353.3,234.9 L2345.9,234.9 L2345.9,227.5Z M2353,227.5 L2360.4,227.5 L2360.4,234.9 L2353,234.9 L2353,227.5Z M2360.1,227.5 L2363.9,227.5 A3.5,3.5 0 0 1 2367.5,231 L2367.5,231.3 A3.5,3.5 0 0 1 2363.9,234.9 L2360.1,234.9 L2360.1,227.5Z M2374.2,227.5 L2381.6,227.5 L2381.6,234.9 L2374.2,234.9 L2374.2,227.5Z M2158.3,234.6 L2162.1,234.6 L2162.1,242 L2158.3,242 A3.5,3.5 0 0 1 2154.8,238.4 L2154.8,238.1 A3.5,3.5 0 0 1 2158.3,234.6Z M2161.8,234.6 L2169.2,234.6 L2169.2,242 L2161.8,242 L2161.8,234.6Z M2168.9,234.6 L2172.8,234.6 A3.5,3.5 0 0 1 2176.3,238.1 L2176.3,242 L2168.9,242 L2168.9,234.6Z M2190.2,234.6 L2197.5,234.6 L2197.5,242 L2190.2,242 L2190.2,234.6Z M2207.8,234.6 L2211.7,234.6 L2211.7,242 L2204.3,242 L2204.3,238.1 A3.5,3.5 0 0 1 2207.8,234.6Z M2211.4,234.6 L2215.2,234.6 A3.5,3.5 0 0 1 2218.8,238.1 L2218.8,238.4 A3.5,3.5 0 0 1 2215.2,242 L2211.4,242 L2211.4,234.6Z M2335.3,234.6 L2335.6,234.6 A3.5,3.5 0 0 1 2339.1,238.1 L2339.1,242 L2331.8,242 L2331.8,238.1 A3.5,3.5 0 0 1 2335.3,234.6Z M2353,234.6 L2360.4,234.6 L2360.4,242 L2353,242 L2353,234.6Z M2374.2,234.6 L2381.6,234.6 L2381.6,242 L2374.2,242 L2374.2,234.6Z M2161.8,241.7 L2169.2,241.7 L2169.2,249 L2165.4,249 A3.5,3.5 0 0 1 2161.8,245.5 L2161.8,241.7Z M2168.9,241.7 L2176.3,241.7 L2176.3,249 L2168.9,249 L2168.9,241.7Z M2176,241.7 L2179.8,241.7 A3.5,3.5 0 0 1 2183.4,245.2 L2183.4,249 L2176,249 L2176,241.7Z M2190.2,241.7 L2197.5,241.7 L2197.5,249 L2193.7,249 A3.5,3.5 0 0 1 2190.2,245.5 L2190.2,241.7Z M2197.2,241.7 L2204.6,241.7 L2204.6,249 L2197.2,249 L2197.2,241.7Z M2204.3,241.7 L2211.7,241.7 L2211.7,245.5 A3.5,3.5 0 0 1 2208.2,249 L2204.3,249 L2204.3,241.7Z M2222,241.7 L2225.8,241.7 L2225.8,249 L2218.5,249 L2218.5,245.2 A3.5,3.5 0 0 1 2222,241.7Z M2225.6,241.7 L2229.4,241.7 A3.5,3.5 0 0 1 2232.9,245.2 L2232.9,249 L2225.6,249 L2225.6,241.7Z M2314,241.7 L2314.3,241.7 A3.5,3.5 0 0 1 2317.9,245.2 L2317.9,249 L2310.5,249 L2310.5,245.2 A3.5,3.5 0 0 1 2314,241.7Z M2328.2,241.7 L2332.1,241.7 L2332.1,249 L2328.2,249 A3.5,3.5 0 0 1 2324.7,245.5 L2324.7,245.2 A3.5,3.5 0 0 1 2328.2,241.7Z M2331.8,241.7 L2339.1,241.7 L2339.1,249 L2331.8,249 L2331.8,241.7Z M2338.8,241.7 L2342.7,241.7 A3.5,3.5 0 0 1 2346.2,245.2 L2346.2,249 L2338.8,249 L2338.8,241.7Z M2353,241.7 L2360.4,241.7 L2360.4,249 L2356.5,249 A3.5,3.5 0 0 1 2353,245.5 L2353,241.7Z M2360.1,241.7 L2363.9,241.7 A3.5,3.5 0 0 1 2367.5,245.2 L2367.5,249 L2360.1,249 L2360.1,241.7Z M2374.2,241.7 L2381.6,241.7 L2381.6,245.5 A3.5,3.5 0 0 1 2378.1,249 L2377.8,249 A3.5,3.5 0 0 1 2374.2,245.5 L2374.2,241.7Z M2158.3,248.7 L2158.6,248.7 A3.5,3.5 0 0 1 2162.1,252.3 L2162.1,252.6 A3.5,3.5 0 0 1 2158.6,256.1 L2158.3,256.1 A3.5,3.5 0 0 1 2154.8,252.6 L2154.8,252.3 A3.5,3.5 0 0 1 2158.3,248.7Z M2176,248.7 L2183.4,248.7 L2183.4,256.1 L2176,256.1 L2176,248.7Z M2183.1,248.7 L2186.9,248.7 A3.5,3.5 0 0 1 2190.5,252.3 L2190.5,252.6 A3.5,3.5 0 0 1 2186.9,256.1 L2183.1,256.1 L2183.1,248.7Z M2214.9,248.7 L2218.8,248.7 L2218.8,256.1 L2211.4,256.1 L2211.4,252.3 A3.5,3.5 0 0 1 2214.9,248.7Z M2218.5,248.7 L2225.8,248.7 L2225.8,256.1 L2218.5,256.1 L2218.5,248.7Z M2225.6,248.7 L2232.9,248.7 L2232.9,252.6 A3.5,3.5 0 0 1 2229.4,256.1 L2225.6,256.1 L2225.6,248.7Z M2310.5,248.7 L2317.9,248.7 L2317.9,252.6 A3.5,3.5 0 0 1 2314.3,256.1 L2314,256.1 A3.5,3.5 0 0 1 2310.5,252.6 L2310.5,248.7Z M2331.8,248.7 L2339.1,248.7 L2339.1,256.1 L2335.3,256.1 A3.5,3.5 0 0 1 2331.8,252.6 L2331.8,248.7Z M2338.8,248.7 L2346.2,248.7 L2346.2,256.1 L2338.8,256.1 L2338.8,248.7Z M2345.9,248.7 L2349.8,248.7 A3.5,3.5 0 0 1 2353.3,252.3 L2353.3,252.6 A3.5,3.5 0 0 1 2349.8,256.1 L2345.9,256.1 L2345.9,248.7Z M2360.1,248.7 L2367.5,248.7 L2367.5,256.1 L2360.1,256.1 L2360.1,248.7Z M2176,255.8 L2183.4,255.8 L2183.4,259.6 A3.5,3.5 0 0 1 2179.8,263.2 L2179.5,263.2 A3.5,3.5 0 0 1 2176,259.6 L2176,255.8Z M2200.8,255.8 L2201.1,255.8 A3.5,3.5 0 0 1 2204.6,259.3 L2204.6,259.6 A3.5,3.5 0 0 1 2201.1,263.2 L2200.8,263.2 A3.5,3.5 0 0 1 2197.2,259.6 L2197.2,259.3 A3.5,3.5 0 0 1 2200.8,255.8Z M2211.4,255.8 L2218.8,255.8 L2218.8,263.2 L2211.4,263.2 L2211.4,255.8Z M2243.2,255.8 L2243.6,255.8 A3.5,3.5 0 0 1 2247.1,259.3 L2247.1,259.6 A3.5,3.5 0 0 1 2243.6,263.2 L2243.2,263.2 A3.5,3.5 0 0 1 2239.7,259.6 L2239.7,259.3 A3.5,3.5 0 0 1 2243.2,255.8Z M2257.4,255.8 L2257.7,255.8 A3.5,3.5 0 0 1 2261.2,259.3 L2261.2,259.6 A3.5,3.5 0 0 1 2257.7,263.2 L2257.4,263.2 A3.5,3.5 0 0 1 2253.9,259.6 L2253.9,259.3 A3.5,3.5 0 0 1 2257.4,255.8Z M2285.7,255.8 L2289.6,255.8 L2289.6,263.2 L2282.2,263.2 L2282.2,259.3 A3.5,3.5 0 0 1 2285.7,255.8Z M2289.3,255.8 L2296.7,255.8 L2296.7,263.2 L2289.3,263.2 L2289.3,255.8Z M2296.3,255.8 L2300.2,255.8 A3.5,3.5 0 0 1 2303.7,259.3 L2303.7,259.6 A3.5,3.5 0 0 1 2300.2,263.2 L2296.3,263.2 L2296.3,255.8Z M2356.5,255.8 L2360.4,255.8 L2360.4,263.2 L2356.5,263.2 A3.5,3.5 0 0 1 2353,259.6 L2353,259.3 A3.5,3.5 0 0 1 2356.5,255.8Z M2360.1,255.8 L2367.5,255.8 L2367.5,263.2 L2360.1,263.2 L2360.1,255.8Z M2367.2,255.8 L2374.5,255.8 L2374.5,263.2 L2367.2,263.2 L2367.2,255.8Z M2374.2,255.8 L2378.1,255.8 A3.5,3.5 0 0 1 2381.6,259.3 L2381.6,259.6 A3.5,3.5 0 0 1 2378.1,263.2 L2374.2,263.2 L2374.2,255.8Z M2172.4,262.9 L2172.8,262.9 A3.5,3.5 0 0 1 2176.3,266.4 L2176.3,270.3 L2168.9,270.3 L2168.9,266.4 A3.5,3.5 0 0 1 2172.4,262.9Z M2186.6,262.9 L2190.5,262.9 L2190.5,270.3 L2186.6,270.3 A3.5,3.5 0 0 1 2183.1,266.7 L2183.1,266.4 A3.5,3.5 0 0 1 2186.6,262.9Z M2190.2,262.9 L2194,262.9 A3.5,3.5 0 0 1 2197.5,266.4 L2197.5,270.3 L2190.2,270.3 L2190.2,262.9Z M2211.4,262.9 L2218.8,262.9 L2218.8,266.7 A3.5,3.5 0 0 1 2215.2,270.3 L2214.9,270.3 A3.5,3.5 0 0 1 2211.4,266.7 L2211.4,262.9Z M2236.2,262.9 L2236.5,262.9 A3.5,3.5 0 0 1 2240,266.4 L2240,270.3 L2232.6,270.3 L2232.6,266.4 A3.5,3.5 0 0 1 2236.2,262.9Z M2250.3,262.9 L2250.6,262.9 A3.5,3.5 0 0 1 2254.2,266.4 L2254.2,266.7 A3.5,3.5 0 0 1 2250.6,270.3 L2250.3,270.3 A3.5,3.5 0 0 1 2246.8,266.7 L2246.8,266.4 A3.5,3.5 0 0 1 2250.3,262.9Z M2264.5,262.9 L2268.3,262.9 L2268.3,270.3 L2260.9,270.3 L2260.9,266.4 A3.5,3.5 0 0 1 2264.5,262.9Z M2268,262.9 L2275.4,262.9 L2275.4,270.3 L2268,270.3 L2268,262.9Z M2275.1,262.9 L2282.5,262.9 L2282.5,270.3 L2275.1,270.3 L2275.1,262.9Z M2282.2,262.9 L2289.6,262.9 L2289.6,266.7 A3.5,3.5 0 0 1 2286,270.3 L2282.2,270.3 L2282.2,262.9Z M2307,262.9 L2307.3,262.9 A3.5,3.5 0 0 1 2310.8,266.4 L2310.8,270.3 L2303.4,270.3 L2303.4,266.4 A3.5,3.5 0 0 1 2307,262.9Z M2328.2,262.9 L2328.5,262.9 A3.5,3.5 0 0 1 2332.1,266.4 L2332.1,270.3 L2324.7,270.3 L2324.7,266.4 A3.5,3.5 0 0 1 2328.2,262.9Z M2384.8,262.9 L2385.2,262.9 A3.5,3.5 0 0 1 2388.7,266.4 L2388.7,266.7 A3.5,3.5 0 0 1 2385.2,270.3 L2384.8,270.3 A3.5,3.5 0 0 1 2381.3,266.7 L2381.3,266.4 A3.5,3.5 0 0 1 2384.8,262.9Z M2158.3,270 L2162.1,270 L2162.1,277.3 L2158.3,277.3 A3.5,3.5 0 0 1 2154.8,273.8 L2154.8,273.5 A3.5,3.5 0 0 1 2158.3,270Z M2161.8,270 L2169.2,270 L2169.2,277.3 L2161.8,277.3 L2161.8,270Z M2168.9,270 L2176.3,270 L2176.3,277.3 L2168.9,277.3 L2168.9,270Z M2176,270 L2179.8,270 A3.5,3.5 0 0 1 2183.4,273.5 L2183.4,273.8 A3.5,3.5 0 0 1 2179.8,277.3 L2176,277.3 L2176,270Z M2190.2,270 L2197.5,270 L2197.5,277.3 L2193.7,277.3 A3.5,3.5 0 0 1 2190.2,273.8 L2190.2,270Z M2197.2,270 L2204.6,270 L2204.6,277.3 L2197.2,277.3 L2197.2,270Z M2204.3,270 L2208.2,270 A3.5,3.5 0 0 1 2211.7,273.5 L2211.7,273.8 A3.5,3.5 0 0 1 2208.2,277.3 L2204.3,277.3 L2204.3,270Z M2229.1,270 L2232.9,270 L2232.9,277.3 L2229.1,277.3 A3.5,3.5 0 0 1 2225.6,273.8 L2225.6,273.5 A3.5,3.5 0 0 1 2229.1,270Z M2232.6,270 L2240,270 L2240,277.3 L2232.6,277.3 L2232.6,270Z M2239.7,270 L2243.6,270 A3.5,3.5 0 0 1 2247.1,273.5 L2247.1,273.8 A3.5,3.5 0 0 1 2243.6,277.3 L2239.7,277.3 L2239.7,270Z M2260.9,270 L2268.3,270 L2268.3,273.8 A3.5,3.5 0 0 1 2264.8,277.3 L2264.5,277.3 A3.5,3.5 0 0 1 2260.9,273.8 L2260.9,270Z M2303.4,270 L2310.8,270 L2310.8,277.3 L2307,277.3 A3.5,3.5 0 0 1 2303.4,273.8 L2303.4,270Z M2310.5,270 L2317.9,270 L2317.9,277.3 L2310.5,277.3 L2310.5,270Z M2317.6,270 L2325,270 L2325,277.3 L2317.6,277.3 L2317.6,270Z M2324.7,270 L2332.1,270 L2332.1,277.3 L2324.7,277.3 L2324.7,270Z M2331.8,270 L2339.1,270 L2339.1,277.3 L2331.8,277.3 L2331.8,270Z M2338.8,270 L2346.2,270 L2346.2,277.3 L2338.8,277.3 L2338.8,270Z M2345.9,270 L2353.3,270 L2353.3,277.3 L2345.9,277.3 L2345.9,270Z M2353,270 L2356.8,270 A3.5,3.5 0 0 1 2360.4,273.5 L2360.4,277.3 L2353,277.3 L2353,270Z M2377.8,270 L2378.1,270 A3.5,3.5 0 0 1 2381.6,273.5 L2381.6,273.8 A3.5,3.5 0 0 1 2378.1,277.3 L2377.8,277.3 A3.5,3.5 0 0 1 2374.2,273.8 L2374.2,273.5 A3.5,3.5 0 0 1 2377.8,270Z M2214.9,277.1 L2215.2,277.1 A3.5,3.5 0 0 1 2218.8,280.6 L2218.8,284.4 L2211.4,284.4 L2211.4,280.6 A3.5,3.5 0 0 1 2214.9,277.1Z M2232.6,277.1 L2240,277.1 L2240,284.4 L2232.6,284.4 L2232.6,277.1Z M2250.3,277.1 L2254.2,277.1 L2254.2,284.4 L2250.3,284.4 A3.5,3.5 0 0 1 2246.8,280.9 L2246.8,280.6 A3.5,3.5 0 0 1 2250.3,277.1Z M2253.9,277.1 L2257.7,277.1 A3.5,3.5 0 0 1 2261.2,280.6 L2261.2,280.9 A3.5,3.5 0 0 1 2257.7,284.4 L2253.9,284.4 L2253.9,277.1Z M2278.7,277.1 L2279,277.1 A3.5,3.5 0 0 1 2282.5,280.6 L2282.5,280.9 A3.5,3.5 0 0 1 2279,284.4 L2278.7,284.4 A3.5,3.5 0 0 1 2275.1,280.9 L2275.1,280.6 A3.5,3.5 0 0 1 2278.7,277.1Z M2310.5,277.1 L2317.9,277.1 L2317.9,284.4 L2310.5,284.4 L2310.5,277.1Z M2324.7,277.1 L2332.1,277.1 L2332.1,284.4 L2324.7,284.4 L2324.7,277.1Z M2353,277.1 L2360.4,277.1 L2360.4,284.4 L2353,284.4 L2353,277.1Z M2360.1,277.1 L2367.5,277.1 L2367.5,284.4 L2360.1,284.4 L2360.1,277.1Z M2367.2,277.1 L2371,277.1 A3.5,3.5 0 0 1 2374.5,280.6 L2374.5,284.4 L2367.2,284.4 L2367.2,277.1Z M2211.4,284.1 L2218.8,284.1 L2218.8,291.5 L2211.4,291.5 L2211.4,284.1Z M2218.5,284.1 L2225.8,284.1 L2225.8,291.5 L2218.5,291.5 L2218.5,284.1Z M2225.6,284.1 L2232.9,284.1 L2232.9,291.5 L2225.6,291.5 L2225.6,284.1Z M2232.6,284.1 L2240,284.1 L2240,291.5 L2232.6,291.5 L2232.6,284.1Z M2271.6,284.1 L2271.9,284.1 A3.5,3.5 0 0 1 2275.4,287.7 L2275.4,288 A3.5,3.5 0 0 1 2271.9,291.5 L2271.6,291.5 A3.5,3.5 0 0 1 2268,288 L2268,287.7 A3.5,3.5 0 0 1 2271.6,284.1Z M2292.8,284.1 L2296.7,284.1 L2296.7,291.5 L2292.8,291.5 A3.5,3.5 0 0 1 2289.3,288 L2289.3,287.7 A3.5,3.5 0 0 1 2292.8,284.1Z M2296.3,284.1 L2303.7,284.1 L2303.7,291.5 L2296.3,291.5 L2296.3,284.1Z M2303.4,284.1 L2310.8,284.1 L2310.8,291.5 L2303.4,291.5 L2303.4,284.1Z M2310.5,284.1 L2317.9,284.1 L2317.9,291.5 L2310.5,291.5 L2310.5,284.1Z M2317.6,284.1 L2325,284.1 L2325,291.5 L2317.6,291.5 L2317.6,284.1Z M2324.7,284.1 L2332.1,284.1 L2332.1,291.5 L2324.7,291.5 L2324.7,284.1Z M2342.4,284.1 L2342.7,284.1 A3.5,3.5 0 0 1 2346.2,287.7 L2346.2,288 A3.5,3.5 0 0 1 2342.7,291.5 L2342.4,291.5 A3.5,3.5 0 0 1 2338.8,288 L2338.8,287.7 A3.5,3.5 0 0 1 2342.4,284.1Z M2353,284.1 L2360.4,284.1 L2360.4,291.5 L2353,291.5 L2353,284.1Z M2367.2,284.1 L2374.5,284.1 L2374.5,291.5 L2370.7,291.5 A3.5,3.5 0 0 1 2367.2,288 L2367.2,284.1Z M2374.2,284.1 L2378.1,284.1 A3.5,3.5 0 0 1 2381.6,287.7 L2381.6,291.5 L2374.2,291.5 L2374.2,284.1Z M2211.4,291.2 L2218.8,291.2 L2218.8,298.6 L2211.4,298.6 L2211.4,291.2Z M2232.6,291.2 L2240,291.2 L2240,298.6 L2232.6,298.6 L2232.6,291.2Z M2239.7,291.2 L2243.6,291.2 A3.5,3.5 0 0 1 2247.1,294.8 L2247.1,298.6 L2239.7,298.6 L2239.7,291.2Z M2257.4,291.2 L2261.2,291.2 L2261.2,298.6 L2257.4,298.6 A3.5,3.5 0 0 1 2253.9,295 L2253.9,294.8 A3.5,3.5 0 0 1 2257.4,291.2Z M2260.9,291.2 L2264.8,291.2 A3.5,3.5 0 0 1 2268.3,294.8 L2268.3,295 A3.5,3.5 0 0 1 2264.8,298.6 L2260.9,298.6 L2260.9,291.2Z M2285.7,291.2 L2286,291.2 A3.5,3.5 0 0 1 2289.6,294.8 L2289.6,298.6 L2282.2,298.6 L2282.2,294.8 A3.5,3.5 0 0 1 2285.7,291.2Z M2296.3,291.2 L2303.7,291.2 L2303.7,298.6 L2299.9,298.6 A3.5,3.5 0 0 1 2296.3,295 L2296.3,291.2Z M2303.4,291.2 L2310.8,291.2 L2310.8,295 A3.5,3.5 0 0 1 2307.3,298.6 L2303.4,298.6 L2303.4,291.2Z M2324.7,291.2 L2332.1,291.2 L2332.1,298.6 L2324.7,298.6 L2324.7,291.2Z M2353,291.2 L2360.4,291.2 L2360.4,298.6 L2353,298.6 L2353,291.2Z M2374.2,291.2 L2381.6,291.2 L2381.6,298.6 L2377.8,298.6 A3.5,3.5 0 0 1 2374.2,295 L2374.2,291.2Z M2381.3,291.2 L2385.2,291.2 A3.5,3.5 0 0 1 2388.7,294.8 L2388.7,295 A3.5,3.5 0 0 1 2385.2,298.6 L2381.3,298.6 L2381.3,291.2Z M2211.4,298.3 L2218.8,298.3 L2218.8,302.1 A3.5,3.5 0 0 1 2215.2,305.7 L2214.9,305.7 A3.5,3.5 0 0 1 2211.4,302.1 L2211.4,298.3Z M2229.1,298.3 L2232.9,298.3 L2232.9,305.7 L2229.1,305.7 A3.5,3.5 0 0 1 2225.6,302.1 L2225.6,301.8 A3.5,3.5 0 0 1 2229.1,298.3Z M2232.6,298.3 L2240,298.3 L2240,305.7 L2232.6,305.7 L2232.6,298.3Z M2239.7,298.3 L2247.1,298.3 L2247.1,305.7 L2239.7,305.7 L2239.7,298.3Z M2271.6,298.3 L2275.4,298.3 L2275.4,305.7 L2268,305.7 L2268,301.8 A3.5,3.5 0 0 1 2271.6,298.3Z M2275.1,298.3 L2282.5,298.3 L2282.5,305.7 L2275.1,305.7 L2275.1,298.3Z M2282.2,298.3 L2289.6,298.3 L2289.6,305.7 L2282.2,305.7 L2282.2,298.3Z M2324.7,298.3 L2332.1,298.3 L2332.1,305.7 L2324.7,305.7 L2324.7,298.3Z M2331.8,298.3 L2339.1,298.3 L2339.1,305.7 L2331.8,305.7 L2331.8,298.3Z M2338.8,298.3 L2346.2,298.3 L2346.2,305.7 L2338.8,305.7 L2338.8,298.3Z M2345.9,298.3 L2353.3,298.3 L2353.3,305.7 L2345.9,305.7 L2345.9,298.3Z M2353,298.3 L2360.4,298.3 L2360.4,305.7 L2353,305.7 L2353,298.3Z M2239.7,305.4 L2247.1,305.4 L2247.1,312.7 L2239.7,312.7 L2239.7,305.4Z M2257.4,305.4 L2261.2,305.4 L2261.2,312.7 L2253.9,312.7 L2253.9,308.9 A3.5,3.5 0 0 1 2257.4,305.4Z M2260.9,305.4 L2268.3,305.4 L2268.3,312.7 L2260.9,312.7 L2260.9,305.4Z M2268,305.4 L2275.4,305.4 L2275.4,312.7 L2268,312.7 L2268,305.4Z M2275.1,305.4 L2282.5,305.4 L2282.5,312.7 L2275.1,312.7 L2275.1,305.4Z M2282.2,305.4 L2289.6,305.4 L2289.6,312.7 L2282.2,312.7 L2282.2,305.4Z M2299.9,305.4 L2303.7,305.4 L2303.7,312.7 L2299.9,312.7 A3.5,3.5 0 0 1 2296.3,309.2 L2296.3,308.9 A3.5,3.5 0 0 1 2299.9,305.4Z M2303.4,305.4 L2310.8,305.4 L2310.8,312.7 L2303.4,312.7 L2303.4,305.4Z M2310.5,305.4 L2317.9,305.4 L2317.9,312.7 L2310.5,312.7 L2310.5,305.4Z M2317.6,305.4 L2325,305.4 L2325,312.7 L2317.6,312.7 L2317.6,305.4Z M2324.7,305.4 L2332.1,305.4 L2332.1,312.7 L2324.7,312.7 L2324.7,305.4Z M2338.8,305.4 L2346.2,305.4 L2346.2,312.7 L2338.8,312.7 L2338.8,305.4Z M2345.9,305.4 L2353.3,305.4 L2353.3,312.7 L2345.9,312.7 L2345.9,305.4Z M2353,305.4 L2360.4,305.4 L2360.4,312.7 L2353,312.7 L2353,305.4Z M2384.8,305.4 L2385.2,305.4 A3.5,3.5 0 0 1 2388.7,308.9 L2388.7,309.2 A3.5,3.5 0 0 1 2385.2,312.7 L2384.8,312.7 A3.5,3.5 0 0 1 2381.3,309.2 L2381.3,308.9 A3.5,3.5 0 0 1 2384.8,305.4Z M2239.7,312.5 L2247.1,312.5 L2247.1,319.8 L2243.2,319.8 A3.5,3.5 0 0 1 2239.7,316.3 L2239.7,312.5Z M2246.8,312.5 L2254.2,312.5 L2254.2,319.8 L2246.8,319.8 L2246.8,312.5Z M2253.9,312.5 L2261.2,312.5 L2261.2,316.3 A3.5,3.5 0 0 1 2257.7,319.8 L2253.9,319.8 L2253.9,312.5Z M2268,312.5 L2275.4,312.5 L2275.4,319.8 L2268,319.8 L2268,312.5Z M2282.2,312.5 L2289.6,312.5 L2289.6,319.8 L2282.2,319.8 L2282.2,312.5Z M2289.3,312.5 L2293.1,312.5 A3.5,3.5 0 0 1 2296.7,316 L2296.7,319.8 L2289.3,319.8 L2289.3,312.5Z M2303.4,312.5 L2310.8,312.5 L2310.8,319.8 L2303.4,319.8 L2303.4,312.5Z M2310.5,312.5 L2317.9,312.5 L2317.9,319.8 L2310.5,319.8 L2310.5,312.5Z M2317.6,312.5 L2325,312.5 L2325,319.8 L2317.6,319.8 L2317.6,312.5Z M2324.7,312.5 L2332.1,312.5 L2332.1,319.8 L2324.7,319.8 L2324.7,312.5Z M2331.8,312.5 L2339.1,312.5 L2339.1,319.8 L2331.8,319.8 L2331.8,312.5Z M2338.8,312.5 L2346.2,312.5 L2346.2,319.8 L2338.8,319.8 L2338.8,312.5Z M2353,312.5 L2360.4,312.5 L2360.4,319.8 L2353,319.8 L2353,312.5Z M2360.1,312.5 L2367.5,312.5 L2367.5,319.8 L2360.1,319.8 L2360.1,312.5Z M2367.2,312.5 L2371,312.5 A3.5,3.5 0 0 1 2374.5,316 L2374.5,316.3 A3.5,3.5 0 0 1 2371,319.8 L2367.2,319.8 L2367.2,312.5Z M2236.2,319.5 L2236.5,319.5 A3.5,3.5 0 0 1 2240,323.1 L2240,326.9 L2232.6,326.9 L2232.6,323.1 A3.5,3.5 0 0 1 2236.2,319.5Z M2264.5,319.5 L2268.3,319.5 L2268.3,326.9 L2264.5,326.9 A3.5,3.5 0 0 1 2260.9,323.4 L2260.9,323.1 A3.5,3.5 0 0 1 2264.5,319.5Z M2268,319.5 L2275.4,319.5 L2275.4,326.9 L2268,326.9 L2268,319.5Z M2282.2,319.5 L2289.6,319.5 L2289.6,326.9 L2285.7,326.9 A3.5,3.5 0 0 1 2282.2,323.4 L2282.2,319.5Z M2289.3,319.5 L2296.7,319.5 L2296.7,326.9 L2289.3,326.9 L2289.3,319.5Z M2296.3,319.5 L2303.7,319.5 L2303.7,326.9 L2296.3,326.9 L2296.3,319.5Z M2303.4,319.5 L2310.8,319.5 L2310.8,326.9 L2303.4,326.9 L2303.4,319.5Z M2310.5,319.5 L2317.9,319.5 L2317.9,326.9 L2310.5,326.9 L2310.5,319.5Z M2317.6,319.5 L2325,319.5 L2325,326.9 L2317.6,326.9 L2317.6,319.5Z M2324.7,319.5 L2332.1,319.5 L2332.1,326.9 L2324.7,326.9 L2324.7,319.5Z M2331.8,319.5 L2339.1,319.5 L2339.1,326.9 L2331.8,326.9 L2331.8,319.5Z M2338.8,319.5 L2346.2,319.5 L2346.2,326.9 L2338.8,326.9 L2338.8,319.5Z M2345.9,319.5 L2353.3,319.5 L2353.3,326.9 L2345.9,326.9 L2345.9,319.5Z M2353,319.5 L2360.4,319.5 L2360.4,323.4 A3.5,3.5 0 0 1 2356.8,326.9 L2353,326.9 L2353,319.5Z M2222,326.6 L2222.3,326.6 A3.5,3.5 0 0 1 2225.8,330.2 L2225.8,330.4 A3.5,3.5 0 0 1 2222.3,334 L2222,334 A3.5,3.5 0 0 1 2218.5,330.4 L2218.5,330.2 A3.5,3.5 0 0 1 2222,326.6Z M2232.6,326.6 L2240,326.6 L2240,334 L2236.2,334 A3.5,3.5 0 0 1 2232.6,330.4 L2232.6,326.6Z M2239.7,326.6 L2243.6,326.6 A3.5,3.5 0 0 1 2247.1,330.2 L2247.1,330.4 A3.5,3.5 0 0 1 2243.6,334 L2239.7,334 L2239.7,326.6Z M2257.4,326.6 L2257.7,326.6 A3.5,3.5 0 0 1 2261.2,330.2 L2261.2,330.4 A3.5,3.5 0 0 1 2257.7,334 L2257.4,334 A3.5,3.5 0 0 1 2253.9,330.4 L2253.9,330.2 A3.5,3.5 0 0 1 2257.4,326.6Z M2268,326.6 L2275.4,326.6 L2275.4,334 L2271.6,334 A3.5,3.5 0 0 1 2268,330.4 L2268,326.6Z M2275.1,326.6 L2279,326.6 A3.5,3.5 0 0 1 2282.5,330.2 L2282.5,330.4 A3.5,3.5 0 0 1 2279,334 L2275.1,334 L2275.1,326.6Z M2296.3,326.6 L2303.7,326.6 L2303.7,330.4 A3.5,3.5 0 0 1 2300.2,334 L2299.9,334 A3.5,3.5 0 0 1 2296.3,330.4 L2296.3,326.6Z M2324.7,326.6 L2332.1,326.6 L2332.1,330.4 A3.5,3.5 0 0 1 2328.5,334 L2328.2,334 A3.5,3.5 0 0 1 2324.7,330.4 L2324.7,326.6Z M2345.9,326.6 L2353.3,326.6 L2353.3,330.4 A3.5,3.5 0 0 1 2349.8,334 L2349.4,334 A3.5,3.5 0 0 1 2345.9,330.4 L2345.9,326.6Z M2384.8,326.6 L2385.2,326.6 A3.5,3.5 0 0 1 2388.7,330.2 L2388.7,330.4 A3.5,3.5 0 0 1 2385.2,334 L2384.8,334 A3.5,3.5 0 0 1 2381.3,330.4 L2381.3,330.2 A3.5,3.5 0 0 1 2384.8,326.6Z" fill="#3F5497"/>
<rect x="2158.4" y="103.7" width="42.5" height="42.5" rx="15" fill="none" stroke="#3F5497" stroke-width="7.1"/>
<rect x="2169.1" y="114.4" width="21.2" height="21.2" rx="6" fill="#3F5497"/>
<rect x="2342.5" y="103.7" width="42.5" height="42.5" rx="15" fill="none" stroke="#3F5497" stroke-width="7.1"/>
<rect x="2353.1" y="114.4" width="21.2" height="21.2" rx="6" fill="#3F5497"/>
<rect x="2158.4" y="287.8" width="42.5" height="42.5" rx="15" fill="none" stroke="#3F5497" stroke-width="7.1"/>
<rect x="2169.1" y="298.4" width="21.2" height="21.2" rx="6" fill="#3F5497"/>
<circle cx="2271.7" cy="216.8" r="41" fill="#fff"/>
<circle cx="2271.7" cy="216.8" r="38.2" fill="url(#tg)"/>
<path transform="translate(2233,100) scale(0.10322)" d="M135,1158 L548,988 Q565,985 562,1000 L518,1325 Q510,1345 488,1338 L322,1222 Q316,1212 326,1205 L455,1078 L262,1198 Q250,1203 235,1198 L140,1168 Q130,1162 135,1158 Z" fill="#fff"/>
<rect x="738" y="110" width="1004" height="111" rx="55.5" fill="#fff"/>
<g id="logo"><path d="M779.5,155.2 A36,36 0 0 1 850.5,155.2 Z" fill="#E2211C"/><g fill="#fff"><rect x="790.6" y="120" width="2.3" height="36"/><rect x="798.4" y="120" width="2.3" height="36"/><rect x="829" y="120" width="2.3" height="36"/><rect x="837.2" y="120" width="2.3" height="36"/><rect x="805.8" y="122" width="18.5" height="24.3" rx="5"/></g><rect x="792.9" y="128.5" width="5.5" height="30" rx="1.5" fill="#E2211C"/><rect x="831.3" y="128.5" width="5.9" height="30" rx="1.5" fill="#E2211C"/><rect x="808" y="124.4" width="14" height="19.6" rx="3.5" fill="#E2211C"/><rect x="774" y="157" width="81.7" height="7" rx="2.5" fill="#E2211C"/><g fill="#07549C"><path d="M779.9,166.5 A35.8,35.8 0 0 0 815,209.4 L815,201 A27.5,27.5 0 0 1 788.3,166.5 Z"/><path d="M850.9,166.5 L850.2,177.6 L845.6,178.6 L838.5,186 L828,186 L828,166.5 Z"/><path d="M849.6,182.8 A35.8,35.8 0 0 1 828,207 L828,198 A27.5,27.5 0 0 0 840.5,187.3 Z"/><path d="M799.2,166.5 H806.9 V178 L818,166.5 H825.8 V207.8 A35.8,35.8 0 0 1 818,209.2 V180.5 L806.9,191.7 H799.2 Z"/></g></g>
<text x="873.2" y="180.5" font-size="44.5" fill="#0A4F9E" font-weight="bold" text-anchor="start" textLength="259.8" lengthAdjust="spacingAndGlyphs" stroke="#0A4F9E" stroke-width="1">АССОЦИАЦИЯ</text>
<text x="1152.9" y="180.5" font-size="44.5" fill="#0A4F9E" font-weight="bold" text-anchor="start" textLength="71.5" lengthAdjust="spacingAndGlyphs" stroke="#0A4F9E" stroke-width="1">СИЗ</text>
<text x="1245.7" y="180.5" font-size="44.5" fill="#0A4F9E" font-weight="bold" text-anchor="start" textLength="14.6" lengthAdjust="spacingAndGlyphs" stroke="#0A4F9E" stroke-width="1">–</text>
<text x="1276.2" y="180.5" font-size="44.5" fill="#0A4F9E" font-weight="bold" text-anchor="start" textLength="283.5" lengthAdjust="spacingAndGlyphs" stroke="#0A4F9E" stroke-width="1">БЕЗОПАСНОСТЬ</text>
<text x="1579.7" y="180.5" font-size="44.5" fill="#0A4F9E" font-weight="bold" text-anchor="start" textLength="127" lengthAdjust="spacingAndGlyphs" stroke="#0A4F9E" stroke-width="1">ЛЕТОМ</text>
<text x="825" y="339.5" font-size="81" fill="#0A4F9E" font-weight="bold" text-anchor="start" textLength="297.3" lengthAdjust="spacingAndGlyphs" stroke="#0A4F9E" stroke-width="2.2">ПРАВИЛА</text>
<text x="1153.4" y="339.5" font-size="81" fill="#0A4F9E" font-weight="bold" text-anchor="start" textLength="506" lengthAdjust="spacingAndGlyphs" stroke="#0A4F9E" stroke-width="2.2">БЕЗОПАСНОСТИ.</text>
<text x="734.9" y="438.5" font-size="81" fill="#0A4F9E" font-weight="bold" text-anchor="start" textLength="333.2" lengthAdjust="spacingAndGlyphs" stroke="#0A4F9E" stroke-width="2.2">ТЕПЛОВОЙ</text>
<text x="1100.6" y="438.5" font-size="81" fill="#0A4F9E" font-weight="bold" text-anchor="start" textLength="31.9" lengthAdjust="spacingAndGlyphs" stroke="#0A4F9E" stroke-width="2.2">И</text>
<text x="1163.6" y="438.5" font-size="81" fill="#0A4F9E" font-weight="bold" text-anchor="start" textLength="394.2" lengthAdjust="spacingAndGlyphs" stroke="#0A4F9E" stroke-width="2.2">СОЛНЕЧНЫЙ</text>
<text x="1584.9" y="438.5" font-size="81" fill="#0A4F9E" font-weight="bold" text-anchor="start" textLength="166" lengthAdjust="spacingAndGlyphs" stroke="#0A4F9E" stroke-width="2.2">УДАР</text>
<rect x="280" y="487.7" width="1920" height="209.5" fill="none" stroke="#0A4F9E" stroke-width="5"/>
<polygon points="482,388 565,388 718,512 632,512" fill="#FF311E"/>
<polygon points="1999,388 1916,388 1763,512 1849,512" fill="#FF311E"/>
<text x="333.6" y="580" font-size="44.5" fill="#E2211C" font-weight="normal" text-anchor="start" textLength="298.6" lengthAdjust="spacingAndGlyphs" stroke="#E2211C" stroke-width="0.8">Солнечный удар</text>
<text x="649.5" y="580" font-size="44.5" fill="#0A4F9E" font-weight="normal" text-anchor="start" textLength="1491.5" lengthAdjust="spacingAndGlyphs" stroke="#0A4F9E" stroke-width="0.8">– разновидность теплового удара. Солнечный удар возникает только при прямом</text>
<text x="333.6" y="633.6" font-size="44.5" fill="#0A4F9E" font-weight="normal" text-anchor="start" textLength="1740.2" lengthAdjust="spacingAndGlyphs" stroke="#0A4F9E" stroke-width="0.8">воздействии солнечных лучей, тогда как тепловой может возникнуть даже без участия солнца</text>
<path d="M549.4,733.8 L587.1,733.8 A44,44 0 0 1 625.3,755.8 L663,821.2 A44,44 0 0 1 663,865.2 L625.3,930.6 A44,44 0 0 1 587.1,952.6 L511.7,952.6 A44,44 0 0 1 473.5,930.6 L435.8,865.2 A44,44 0 0 1 435.8,821.2 L473.5,755.8 A44,44 0 0 1 511.7,733.8 Z" fill="#fff" filter="url(#blur4)"/>
<path d="M1314.7,733.8 L1352.4,733.8 A44,44 0 0 1 1390.6,755.8 L1428.3,821.2 A44,44 0 0 1 1428.3,865.2 L1390.6,930.6 A44,44 0 0 1 1352.4,952.6 L1277,952.6 A44,44 0 0 1 1238.8,930.6 L1201.1,865.2 A44,44 0 0 1 1201.1,821.2 L1238.8,755.8 A44,44 0 0 1 1277,733.8 Z" fill="#fff" filter="url(#blur4)"/>
<path d="M1965.1,988.8 L2001.3,988.8 A42.1,42.1 0 0 1 2037.8,1009.8 L2074,1072.5 A42.1,42.1 0 0 1 2074,1114.7 L2037.8,1177.4 A42.1,42.1 0 0 1 2001.3,1198.4 L1928.9,1198.4 A42.1,42.1 0 0 1 1892.4,1177.4 L1856.2,1114.7 A42.1,42.1 0 0 1 1856.2,1072.5 L1892.4,1009.8 A42.1,42.1 0 0 1 1928.9,988.8 Z" fill="#fff" filter="url(#blur4)"/>
<path d="M491.4,1210.2 L529.1,1210.2 A44,44 0 0 1 567.3,1232.2 L605,1297.6 A44,44 0 0 1 605,1341.6 L567.3,1407 A44,44 0 0 1 529.1,1429 L453.7,1429 A44,44 0 0 1 415.5,1407 L377.8,1341.6 A44,44 0 0 1 377.8,1297.6 L415.5,1232.2 A44,44 0 0 1 453.7,1210.2 Z" fill="#fff" filter="url(#blur4)"/>
<path d="M1235,1210.2 L1272.7,1210.2 A44,44 0 0 1 1310.9,1232.2 L1348.6,1297.6 A44,44 0 0 1 1348.6,1341.6 L1310.9,1407 A44,44 0 0 1 1272.7,1429 L1197.3,1429 A44,44 0 0 1 1159.1,1407 L1121.4,1341.6 A44,44 0 0 1 1121.4,1297.6 L1159.1,1232.2 A44,44 0 0 1 1197.3,1210.2 Z" fill="#fff" filter="url(#blur4)"/>
<path d="M1965,1455.1 L2002.7,1455.1 A44,44 0 0 1 2040.9,1477.1 L2078.6,1542.5 A44,44 0 0 1 2078.6,1586.5 L2040.9,1651.9 A44,44 0 0 1 2002.7,1673.9 L1927.3,1673.9 A44,44 0 0 1 1889.1,1651.9 L1851.4,1586.5 A44,44 0 0 1 1851.4,1542.5 L1889.1,1477.1 A44,44 0 0 1 1927.3,1455.1 Z" fill="#fff" filter="url(#blur4)"/>
<path d="M552.1,1699.2 L589.8,1699.2 A44,44 0 0 1 628,1721.2 L665.7,1786.6 A44,44 0 0 1 665.7,1830.6 L628,1896 A44,44 0 0 1 589.8,1918 L514.4,1918 A44,44 0 0 1 476.2,1896 L438.5,1830.6 A44,44 0 0 1 438.5,1786.6 L476.2,1721.2 A44,44 0 0 1 514.4,1699.2 Z" fill="#fff" filter="url(#blur4)"/>
<path d="M1315,1710 L1352.7,1710 A44,44 0 0 1 1390.9,1732 L1428.6,1797.4 A44,44 0 0 1 1428.6,1841.4 L1390.9,1906.8 A44,44 0 0 1 1352.7,1928.8 L1277.3,1928.8 A44,44 0 0 1 1239.1,1906.8 L1201.4,1841.4 A44,44 0 0 1 1201.4,1797.4 L1239.1,1732 A44,44 0 0 1 1277.3,1710 Z" fill="#fff" filter="url(#blur4)"/>
<path d="M1965.2,1972.7 L2002.9,1972.7 A44,44 0 0 1 2041.1,1994.7 L2078.8,2060.1 A44,44 0 0 1 2078.8,2104.1 L2041.1,2169.5 A44,44 0 0 1 2002.9,2191.5 L1927.5,2191.5 A44,44 0 0 1 1889.3,2169.5 L1851.6,2104.1 A44,44 0 0 1 1851.6,2060.1 L1889.3,1994.7 A44,44 0 0 1 1927.5,1972.7 Z" fill="#fff" filter="url(#blur4)"/>
<path d="M1236,2266 L1273.7,2266 A44,44 0 0 1 1311.9,2288 L1349.6,2353.4 A44,44 0 0 1 1349.6,2397.4 L1311.9,2462.8 A44,44 0 0 1 1273.7,2484.8 L1198.3,2484.8 A44,44 0 0 1 1160.1,2462.8 L1122.4,2397.4 A44,44 0 0 1 1122.4,2353.4 L1160.1,2288 A44,44 0 0 1 1198.3,2266 Z" fill="#fff" filter="url(#blur4)"/>
<path d="M369.5,697 V843.5 H435" fill="none" stroke="#043C88" stroke-width="5" stroke-dasharray="33.5 31.5" stroke-dashoffset="0"/>
<path d="M676,844 H1195" fill="none" stroke="#043C88" stroke-width="5" stroke-dasharray="33.5 31.5" stroke-dashoffset="0"/>
<path d="M1456,844 H1965 V990" fill="none" stroke="#043C88" stroke-width="5" stroke-dasharray="33.5 31.5" stroke-dashoffset="0"/>
<path d="M1965,1196 V1222" fill="none" stroke="#043C88" stroke-width="5" stroke-dasharray="40 20" stroke-dashoffset="0"/>
<path d="M606.5,1328.5 H1121" fill="none" stroke="#043C88" stroke-width="5" stroke-dasharray="33.5 31.5" stroke-dashoffset="14.9"/>
<path d="M1369,1328.5 H1642" fill="none" stroke="#043C88" stroke-width="5" stroke-dasharray="33.5 31.5" stroke-dashoffset="0"/>
<path d="M493.5,1456 V1486" fill="none" stroke="#043C88" stroke-width="5" stroke-dasharray="40 20" stroke-dashoffset="0"/>
<path d="M550.6,1659.5 V1692.5" fill="none" stroke="#043C88" stroke-width="5" stroke-dasharray="33 40" stroke-dashoffset="0"/>
<path d="M667.5,1817.5 H1197" fill="none" stroke="#043C88" stroke-width="5" stroke-dasharray="33.5 31.5" stroke-dashoffset="3"/>
<path d="M1964.5,1907 V1925.5" fill="none" stroke="#043C88" stroke-width="5" stroke-dasharray="40 20" stroke-dashoffset="0"/>
<path d="M1965,1956 V1976" fill="none" stroke="#043C88" stroke-width="5" stroke-dasharray="40 20" stroke-dashoffset="0"/>
<path d="M1965,2215 V2227" fill="none" stroke="#043C88" stroke-width="5" stroke-dasharray="40 20" stroke-dashoffset="0"/>
<path d="M1027,2370.5 H1117.5" fill="none" stroke="#043C88" stroke-width="5" stroke-dasharray="31.5 30.5" stroke-dashoffset="0"/>
<path d="M1368,2369.5 H1517" fill="none" stroke="#043C88" stroke-width="5" stroke-dasharray="33.5 31.5" stroke-dashoffset="0"/>
<path d="M549.4,737.3 L585.1,737.3 A44,44 0 0 1 623.3,759.3 L659,821.2 A44,44 0 0 1 659,865.2 L623.3,927.1 A44,44 0 0 1 585.1,949.1 L513.7,949.1 A44,44 0 0 1 475.5,927.1 L439.8,865.2 A44,44 0 0 1 439.8,821.2 L475.5,759.3 A44,44 0 0 1 513.7,737.3 Z" fill="none" stroke="#043C88" stroke-width="5.5" stroke-dasharray="34.5 29.6" stroke-dashoffset="-5.8"/>
<path d="M549.4,761.5 L580.4,761.5 A28,28 0 0 1 604.6,775.5 L635.6,829.2 A28,28 0 0 1 635.6,857.2 L604.6,910.9 A28,28 0 0 1 580.4,924.9 L518.4,924.9 A28,28 0 0 1 494.2,910.9 L463.2,857.2 A28,28 0 0 1 463.2,829.2 L494.2,775.5 A28,28 0 0 1 518.4,761.5 Z" fill="#fff" stroke="#FF311E" stroke-width="17"/>
<path d="M1314.7,737.3 L1350.4,737.3 A44,44 0 0 1 1388.6,759.3 L1424.3,821.2 A44,44 0 0 1 1424.3,865.2 L1388.6,927.1 A44,44 0 0 1 1350.4,949.1 L1279,949.1 A44,44 0 0 1 1240.8,927.1 L1205.1,865.2 A44,44 0 0 1 1205.1,821.2 L1240.8,759.3 A44,44 0 0 1 1279,737.3 Z" fill="none" stroke="#043C88" stroke-width="5.5" stroke-dasharray="34.5 29.6" stroke-dashoffset="-5.8"/>
<path d="M1314.7,761.5 L1345.7,761.5 A28,28 0 0 1 1369.9,775.5 L1400.9,829.2 A28,28 0 0 1 1400.9,857.2 L1369.9,910.9 A28,28 0 0 1 1345.7,924.9 L1283.7,924.9 A28,28 0 0 1 1259.5,910.9 L1228.5,857.2 A28,28 0 0 1 1228.5,829.2 L1259.5,775.5 A28,28 0 0 1 1283.7,761.5 Z" fill="#fff" stroke="#FF311E" stroke-width="17"/>
<path d="M1965.1,992.2 L1930.9,992.2 A42.1,42.1 0 0 0 1894.4,1013.3 L1860.2,1072.5 A42.1,42.1 0 0 0 1860.2,1114.7 L1894.4,1173.9 A42.1,42.1 0 0 0 1930.9,1195 L1999.3,1195 A42.1,42.1 0 0 0 2035.8,1173.9 L2070,1114.7 A42.1,42.1 0 0 0 2070,1072.5 L2035.8,1013.3 A42.1,42.1 0 0 0 1999.3,992.2 Z" fill="none" stroke="#043C88" stroke-width="5.5" stroke-dasharray="33 28.4" stroke-dashoffset="2.4"/>
<path d="M1965.1,1015.4 L1994.8,1015.4 A26.8,26.8 0 0 1 2018,1028.8 L2047.6,1080.2 A26.8,26.8 0 0 1 2047.6,1107 L2018,1158.4 A26.8,26.8 0 0 1 1994.8,1171.8 L1935.4,1171.8 A26.8,26.8 0 0 1 1912.2,1158.4 L1882.6,1107 A26.8,26.8 0 0 1 1882.6,1080.2 L1912.2,1028.8 A26.8,26.8 0 0 1 1935.4,1015.4 Z" fill="#fff" stroke="#FF311E" stroke-width="17"/>
<path d="M491.4,1213.7 L527.1,1213.7 A44,44 0 0 1 565.3,1235.7 L601,1297.6 A44,44 0 0 1 601,1341.6 L565.3,1403.5 A44,44 0 0 1 527.1,1425.5 L455.7,1425.5 A44,44 0 0 1 417.5,1403.5 L381.8,1341.6 A44,44 0 0 1 381.8,1297.6 L417.5,1235.7 A44,44 0 0 1 455.7,1213.7 Z" fill="none" stroke="#043C88" stroke-width="5.5" stroke-dasharray="34.5 29.6" stroke-dashoffset="-5.8"/>
<path d="M491.4,1237.9 L522.4,1237.9 A28,28 0 0 1 546.6,1251.9 L577.6,1305.6 A28,28 0 0 1 577.6,1333.6 L546.6,1387.3 A28,28 0 0 1 522.4,1401.3 L460.4,1401.3 A28,28 0 0 1 436.2,1387.3 L405.2,1333.6 A28,28 0 0 1 405.2,1305.6 L436.2,1251.9 A28,28 0 0 1 460.4,1237.9 Z" fill="#fff" stroke="#FF311E" stroke-width="17"/>
<path d="M1235,1213.7 L1270.7,1213.7 A44,44 0 0 1 1308.9,1235.7 L1344.6,1297.6 A44,44 0 0 1 1344.6,1341.6 L1308.9,1403.5 A44,44 0 0 1 1270.7,1425.5 L1199.3,1425.5 A44,44 0 0 1 1161.1,1403.5 L1125.4,1341.6 A44,44 0 0 1 1125.4,1297.6 L1161.1,1235.7 A44,44 0 0 1 1199.3,1213.7 Z" fill="none" stroke="#043C88" stroke-width="5.5" stroke-dasharray="34.5 29.6" stroke-dashoffset="-5.8"/>
<path d="M1235,1237.9 L1266,1237.9 A28,28 0 0 1 1290.2,1251.9 L1321.2,1305.6 A28,28 0 0 1 1321.2,1333.6 L1290.2,1387.3 A28,28 0 0 1 1266,1401.3 L1204,1401.3 A28,28 0 0 1 1179.8,1387.3 L1148.8,1333.6 A28,28 0 0 1 1148.8,1305.6 L1179.8,1251.9 A28,28 0 0 1 1204,1237.9 Z" fill="#fff" stroke="#FF311E" stroke-width="17"/>
<path d="M1965,1458.6 L2000.7,1458.6 A44,44 0 0 1 2038.9,1480.6 L2074.6,1542.5 A44,44 0 0 1 2074.6,1586.5 L2038.9,1648.4 A44,44 0 0 1 2000.7,1670.4 L1929.3,1670.4 A44,44 0 0 1 1891.1,1648.4 L1855.4,1586.5 A44,44 0 0 1 1855.4,1542.5 L1891.1,1480.6 A44,44 0 0 1 1929.3,1458.6 Z" fill="none" stroke="#043C88" stroke-width="5.5" stroke-dasharray="34.5 29.6" stroke-dashoffset="-5.8"/>
<path d="M1965,1482.8 L1996,1482.8 A28,28 0 0 1 2020.2,1496.8 L2051.2,1550.5 A28,28 0 0 1 2051.2,1578.5 L2020.2,1632.2 A28,28 0 0 1 1996,1646.2 L1934,1646.2 A28,28 0 0 1 1909.8,1632.2 L1878.8,1578.5 A28,28 0 0 1 1878.8,1550.5 L1909.8,1496.8 A28,28 0 0 1 1934,1482.8 Z" fill="#fff" stroke="#FF311E" stroke-width="17"/>
<path d="M552.1,1702.7 L587.8,1702.7 A44,44 0 0 1 626,1724.7 L661.7,1786.6 A44,44 0 0 1 661.7,1830.6 L626,1892.5 A44,44 0 0 1 587.8,1914.5 L516.4,1914.5 A44,44 0 0 1 478.2,1892.5 L442.5,1830.6 A44,44 0 0 1 442.5,1786.6 L478.2,1724.7 A44,44 0 0 1 516.4,1702.7 Z" fill="none" stroke="#043C88" stroke-width="5.5" stroke-dasharray="34.5 29.6" stroke-dashoffset="-5.8"/>
<path d="M552.1,1726.9 L583.1,1726.9 A28,28 0 0 1 607.3,1740.9 L638.3,1794.6 A28,28 0 0 1 638.3,1822.6 L607.3,1876.3 A28,28 0 0 1 583.1,1890.3 L521.1,1890.3 A28,28 0 0 1 496.9,1876.3 L465.9,1822.6 A28,28 0 0 1 465.9,1794.6 L496.9,1740.9 A28,28 0 0 1 521.1,1726.9 Z" fill="#fff" stroke="#FF311E" stroke-width="17"/>
<path d="M1315,1713.5 L1350.7,1713.5 A44,44 0 0 1 1388.9,1735.5 L1424.6,1797.4 A44,44 0 0 1 1424.6,1841.4 L1388.9,1903.3 A44,44 0 0 1 1350.7,1925.3 L1279.3,1925.3 A44,44 0 0 1 1241.1,1903.3 L1205.4,1841.4 A44,44 0 0 1 1205.4,1797.4 L1241.1,1735.5 A44,44 0 0 1 1279.3,1713.5 Z" fill="none" stroke="#043C88" stroke-width="5.5" stroke-dasharray="34.5 29.6" stroke-dashoffset="-5.8"/>
<path d="M1315,1737.7 L1346,1737.7 A28,28 0 0 1 1370.2,1751.7 L1401.2,1805.4 A28,28 0 0 1 1401.2,1833.4 L1370.2,1887.1 A28,28 0 0 1 1346,1901.1 L1284,1901.1 A28,28 0 0 1 1259.8,1887.1 L1228.8,1833.4 A28,28 0 0 1 1228.8,1805.4 L1259.8,1751.7 A28,28 0 0 1 1284,1737.7 Z" fill="#fff" stroke="#FF311E" stroke-width="17"/>
<path d="M1965.2,1976.2 L2000.9,1976.2 A44,44 0 0 1 2039.1,1998.2 L2074.8,2060.1 A44,44 0 0 1 2074.8,2104.1 L2039.1,2166 A44,44 0 0 1 2000.9,2188 L1929.5,2188 A44,44 0 0 1 1891.3,2166 L1855.6,2104.1 A44,44 0 0 1 1855.6,2060.1 L1891.3,1998.2 A44,44 0 0 1 1929.5,1976.2 Z" fill="none" stroke="#043C88" stroke-width="5.5" stroke-dasharray="34.5 29.6" stroke-dashoffset="-5.8"/>
<path d="M1965.2,2000.4 L1996.2,2000.4 A28,28 0 0 1 2020.4,2014.4 L2051.4,2068.1 A28,28 0 0 1 2051.4,2096.1 L2020.4,2149.8 A28,28 0 0 1 1996.2,2163.8 L1934.2,2163.8 A28,28 0 0 1 1910,2149.8 L1879,2096.1 A28,28 0 0 1 1879,2068.1 L1910,2014.4 A28,28 0 0 1 1934.2,2000.4 Z" fill="#fff" stroke="#FF311E" stroke-width="17"/>
<path d="M1236,2269.5 L1271.7,2269.5 A44,44 0 0 1 1309.9,2291.5 L1345.6,2353.4 A44,44 0 0 1 1345.6,2397.4 L1309.9,2459.3 A44,44 0 0 1 1271.7,2481.3 L1200.3,2481.3 A44,44 0 0 1 1162.1,2459.3 L1126.4,2397.4 A44,44 0 0 1 1126.4,2353.4 L1162.1,2291.5 A44,44 0 0 1 1200.3,2269.5 Z" fill="none" stroke="#043C88" stroke-width="5.5" stroke-dasharray="34.5 29.6" stroke-dashoffset="-5.8"/>
<path d="M1236,2293.7 L1267,2293.7 A28,28 0 0 1 1291.2,2307.7 L1322.2,2361.4 A28,28 0 0 1 1322.2,2389.4 L1291.2,2443.1 A28,28 0 0 1 1267,2457.1 L1205,2457.1 A28,28 0 0 1 1180.8,2443.1 L1149.8,2389.4 A28,28 0 0 1 1149.8,2361.4 L1180.8,2307.7 A28,28 0 0 1 1205,2293.7 Z" fill="#fff" stroke="#FF311E" stroke-width="17"/>
<g transform="translate(549.4,843.2) scale(0.18474) translate(-808.5,-775)" stroke="#0A4F9E" stroke-width="12" stroke-linejoin="round" stroke-linecap="round" fill="none">
<polygon points="810,532 843.6,608.3 903.8,550.6 905.6,634 983.2,603.8 953,681.4 1036.4,683.2 978.7,743.4 1055,777 978.7,810.6 1036.4,870.8 953,872.6 983.2,950.2 905.6,920 903.8,1003.4 843.6,945.7 810,1022 776.4,945.7 716.2,1003.4 714.4,920 636.8,950.2 667,872.6 583.6,870.8 641.3,810.6 565,777 641.3,743.4 583.6,683.2 667,681.4 636.8,603.8 714.4,634 716.2,550.6 776.4,608.3" stroke-width="10"/>
<circle cx="810" cy="777" r="152" fill="#00AAFF" stroke-width="12"/>
<path d="M925,740 A120,120 0 1 0 928,810" stroke-width="10"/>
<path d="M585,548 L612,575 M1045,548 L1015,578 M585,1010 L612,985 M1045,1010 L1015,985 M567,778 L585,778 M1040,778 L1058,778" stroke-width="10"/>
</g>
<g transform="translate(1314.7,843.2) scale(0.19704) translate(-785,-777.5)" stroke="#0A4F9E" stroke-width="12" stroke-linejoin="round" stroke-linecap="round" fill="none">
<path d="M672,562 L530,640 L572,715 L632,682 L632,875 L700,875 M632,650 L632,682 M800,550 L950,636 L930,690 M850,640 L850,685" />
<path d="M690,548 L716,628 L748,592 L780,626 L802,548 Q745,535 690,548 Z" fill="#fff"/>
<path d="M780,682 H1003 V990 H912 L890,862 L868,990 H838 M780,682 V870 M780,716 H1003 M835,682 V716 M945,682 V716 M890,716 V800 M782,770 Q822,775 825,718 M1001,770 Q962,775 958,718"/>
<path d="M620,978 Q610,850 745,838 Q830,860 838,962 L780,992 Z" fill="#00AAFF"/>
<path d="M570,1006 Q600,975 640,972 L785,992 Q760,1035 715,1035 Q670,1030 650,1015 Q610,1000 570,1006 Z" fill="#00AAFF"/>
<path d="M745,838 Q670,880 675,972 M745,838 Q790,900 780,990"/>
<circle cx="750" cy="838" r="12" fill="#00AAFF"/>
</g>
<g transform="translate(1965.1,1093.6) scale(0.19704) translate(-838,-830.5)" stroke="#0A4F9E" stroke-width="12" stroke-linejoin="round" stroke-linecap="round" fill="none">
<rect x="665" y="615" width="345" height="50" rx="14"/>
<path d="M690,665 Q715,700 722,790 L745,1000 H930 L950,790 Q958,700 985,665"/>
<circle cx="838" cy="770" r="42"/>
<path d="M900,770 L920,770 M891.7,801 L909,811 M869,823.7 L879,841 M838,832 L838,852 M807,823.7 L797,841 M784.3,801 L767,811 M776,770 L756,770 M784.3,739 L767,729 M807,716.3 L797,699 M838,708 L838,688 M869,716.3 L879,699 M891.7,739 L909,729 "/>
<path d="M775,898 L800,895 L790,920 L815,935 L850,900 L845,935 L895,900"/>
<path d="M765,1012 H910 V1090 Q910,1105 895,1105 H780 Q765,1105 765,1090 Z" fill="#00AAFF"/>
<path d="M768,1075 H908 M810,1070 Q838,1030 866,1070"/>
</g>
<g transform="translate(491.4,1319.6) scale(0.19704) translate(-768.5,-759)" stroke="#0A4F9E" stroke-width="12" stroke-linejoin="round" stroke-linecap="round" fill="none">
<g transform="translate(733,902)">
<rect x="-100" y="-25" width="200" height="50" fill="#00AAFF"/>
<rect x="-148" y="-92" width="50" height="184" rx="16" fill="#00AAFF"/>
<rect x="98" y="-92" width="50" height="184" rx="16" fill="#00AAFF"/>
<rect x="-198" y="-64" width="50" height="128" rx="14" fill="#00AAFF"/>
<rect x="148" y="-64" width="50" height="128" rx="14" fill="#00AAFF"/>
</g>
<g transform="translate(800,655) rotate(-18)">
<rect x="-100" y="-25" width="200" height="50" fill="#00AAFF"/>
<rect x="-148" y="-92" width="50" height="184" rx="16" fill="#00AAFF"/>
<rect x="98" y="-92" width="50" height="184" rx="16" fill="#00AAFF"/>
<rect x="-198" y="-64" width="50" height="128" rx="14" fill="#00AAFF"/>
<rect x="148" y="-64" width="50" height="128" rx="14" fill="#00AAFF"/>
</g>
</g>
<g transform="translate(1235,1319.6) scale(0.19704) translate(-786.5,-759)" stroke="#0A4F9E" stroke-width="12" stroke-linejoin="round" stroke-linecap="round" fill="none">
<g transform="translate(786,764) rotate(20) scale(1.08,0.95)">
<path d="M-42,-310 H42 V-255 H-42 Z" fill="#fff"/>
<path d="M-40,-255 L-48,-225 Q-105,-170 -105,-120 V270 Q-105,305 -70,305 H70 Q105,305 105,270 V-120 Q105,-170 48,-225 L40,-255"/>
<rect x="-105" y="-70" width="210" height="175" fill="#00AAFF"/>
<path d="M-105,-120 H105 M-105,150 H105 M-105,195 H105 M-105,240 H105"/>
<path d="M0,-30 Q-38,25 -30,45 Q-20,72 0,72 Q20,72 30,45 Q38,25 0,-30 Z" fill="#fff" transform="rotate(-20)"/>
<path d="M-22,-308 V-290 M0,-308 V-290 M22,-308 V-290" stroke-width="8"/>
</g>
</g>
<g transform="translate(1965,1564.5) scale(0.19704) translate(-837.5,-835)" stroke="#0A4F9E" stroke-width="12" stroke-linejoin="round" stroke-linecap="round" fill="none">
<path d="M680,1150 V620 Q680,603 697,603 H850 Q862,603 870,613 L935,695 L905,718 L845,640 H720 V1150 Z" fill="#00AAFF"/>
<rect x="645" y="1052" width="107" height="48" rx="8" fill="#fff"/>
<g transform="translate(978,768) rotate(-33)">
<path d="M-135,30 A135,120 0 0 1 135,30 Z" fill="#00AAFF"/>
<rect x="-140" y="30" width="280" height="30" rx="12" fill="#fff"/>
<path d="M-95,-10 Q-85,-60 -45,-80" stroke="#fff" stroke-width="9"/>
</g>
<path d="M940,870 L985,980 M990,835 L1045,940 M1030,805 L1105,895 M1075,775 L1165,855" stroke-dasharray="14 28" stroke-width="9"/>
<path d="M985,640 Q1050,640 1078,672 M658,860 V930 M658,832 V836" stroke-width="8"/>
</g>
<g transform="translate(552.1,1808.6) scale(0.19704) translate(-822.5,-805)" stroke="#0A4F9E" stroke-width="12" stroke-linejoin="round" stroke-linecap="round" fill="none">
<circle cx="822" cy="805" r="235" stroke-dasharray="330 60" stroke-width="11"/>
<circle cx="822" cy="805" r="175" stroke-dasharray="210 70" stroke-width="11"/>
<path d="M610,585 Q590,640 625,700 L790,860 L830,815 L640,590 Q622,570 610,585 Z M870,820 L1050,1000 Q1060,1025 1040,1035 Q1020,1040 1005,1025 L840,860 Z" fill="#00AAFF"/>
<path d="M590,1005 L850,745 Q830,700 870,660 L950,575 L965,590 L890,680 L905,695 L990,625 L1005,640 L925,718 L940,733 L1035,665 L1052,683 L970,760 Q930,795 885,780 L625,1035 Q605,1045 592,1030 Q582,1018 590,1005 Z" fill="#00AAFF"/>
</g>
<g transform="translate(1315,1819.4) scale(0.19704) translate(-786.5,-809)" stroke="#0A4F9E" stroke-width="12" stroke-linejoin="round" stroke-linecap="round" fill="none">
<path d="M705,880 L705,985 Q780,1000 858,985 L858,880 L880,925 Q890,940 910,940 H995 Q1022,935 1022,912 Q1018,890 995,890 H915 L850,790 Q820,768 780,768 Q740,768 710,790 L650,890 H565 Q542,892 540,915 Q542,938 565,940 H655 Q675,940 685,925 Z" fill="#00AAFF"/>
<circle cx="780" cy="688" r="55" fill="#fff"/>
<path d="M640,975 Q610,985 612,1015 Q615,1050 650,1052 H915 Q950,1050 952,1015 Q950,980 915,975 Q850,990 780,990 Q710,990 640,975 Z" fill="#fff"/>
<path d="M830,1000 Q840,1025 830,1050 M780,990 Q820,1000 830,1000"/>
<path d="M585,571 V595 M585,631 V655 M543,613 H567 M603,613 H627 M978,571 V595 M978,631 V655 M936,613 H960 M996,613 H1020 M612,743 V767 M612,803 V827 M570,785 H594 M630,785 H654 M950,743 V767 M950,803 V827 M908,785 H932 M968,785 H992 " stroke-width="9"/>
</g>
<g transform="translate(1965.2,2082.1) scale(0.19704) translate(-838.5,-822.5)" stroke="#0A4F9E" stroke-width="12" stroke-linejoin="round" stroke-linecap="round" fill="none">
<path d="M842,815 L775,745 Q755,705 790,682 Q825,668 842,700 Q860,668 895,682 Q930,705 910,745 Z" fill="#00AAFF"/>
<path d="M842,578 V632 M842,855 V908 M712,610 L755,650 M972,610 L930,650 M715,878 L755,840 M970,878 L932,840" stroke-width="9"/>
<path d="M563,780 Q560,752 588,750 Q612,752 615,780 L640,890 Q655,870 680,890 L745,960 Q760,985 762,1005 L790,990 Q805,990 815,1005 Q822,1020 812,1032 L745,1100 Q730,1115 712,1100 Q695,1085 700,1070 L612,965 Q600,950 598,930 Z M640,890 Q630,910 648,930 L685,962 M703,1068 L770,1000" fill="#fff"/>
<g transform="translate(1684,0) scale(-1,1)">
<path d="M563,780 Q560,752 588,750 Q612,752 615,780 L640,890 Q655,870 680,890 L745,960 Q760,985 762,1005 L790,990 Q805,990 815,1005 Q822,1020 812,1032 L745,1100 Q730,1115 712,1100 Q695,1085 700,1070 L612,965 Q600,950 598,930 Z M640,890 Q630,910 648,930 L685,962 M703,1068 L770,1000" fill="#fff"/>
</g>
</g>
<g transform="translate(1236,2375.4) scale(0.19704) translate(-842.5,-839.5)" stroke="#0A4F9E" stroke-width="12" stroke-linejoin="round" stroke-linecap="round" fill="none">
<path d="M612,1072 V930 Q615,880 680,865 L755,842 Q782,880 812,842 L880,862 V1072 Z" fill="#fff"/>
<path d="M680,865 V1072 M725,850 V965 H840 V850 M680,965 H725 M735,1072 V1010 H830 V1072" />
<rect x="742" y="1016" width="82" height="56" fill="#00AAFF" stroke="none"/>
<path d="M718,735 Q720,800 782,815 Q845,800 848,735 M755,812 V842 M812,812 V842 M702,700 Q672,705 680,735 Q690,760 718,755 M862,700 Q892,705 885,735 Q875,760 848,755"/>
<path d="M702,705 Q700,610 782,605 Q862,610 862,705 Z" fill="#fff"/>
<path d="M722,690 Q782,672 845,690 V708 H722 Z" fill="#00AAFF" stroke="none"/>
<path d="M702,705 H862"/>
<rect x="902" y="603" width="178" height="85" rx="18" fill="#fff"/>
<rect x="908" y="655" width="166" height="28" fill="#00AAFF" stroke="none"/>
<path d="M905,650 H1078 M935,718 V750 M990,718 V750 M1047,718 V750"/>
<circle cx="965" cy="950" r="115" fill="#00AAFF"/>
<path d="M965,950 L1041.2,994 M1015.2,979 L1042.3,971.8 M1015.2,979 L1022.5,1006 M965,950 L965,1038 M965,1008 L984.8,1027.8 M965,1008 L945.2,1027.8 M965,950 L888.8,994 M914.8,979 L907.5,1006 M914.8,979 L887.7,971.8 M965,950 L888.8,906 M914.8,921 L887.7,928.2 M914.8,921 L907.5,894 M965,950 L965,862 M965,892 L945.2,872.2 M965,892 L984.8,872.2 M965,950 L1041.2,906 M1015.2,921 L1022.5,894 M1015.2,921 L1042.3,928.2 " stroke="#0A4F9E" stroke-width="12"/>
</g>
<rect x="218.1" y="1019" width="721.7" height="164.2" rx="10" fill="#00AAFF"/>
<rect x="177.2" y="972.2" width="736.5" height="184.7" rx="10" fill="#EEF5FC"/>
<text x="215.6" y="1026.4" font-size="36.5" fill="#1d1d1b" font-weight="normal" text-anchor="start" textLength="534.1" lengthAdjust="spacingAndGlyphs" stroke="#1d1d1b" stroke-width="0.9">Избегайте длительного пребывания</text>
<text x="215.6" y="1073.2" font-size="36.5" fill="#1d1d1b" font-weight="normal" text-anchor="start" textLength="670.6" lengthAdjust="spacingAndGlyphs" stroke="#1d1d1b" stroke-width="0.9">на солнце под прямыми солнечными лучами,</text>
<text x="215.6" y="1120" font-size="36.5" fill="#1d1d1b" font-weight="normal" text-anchor="start" textLength="534.1" lengthAdjust="spacingAndGlyphs" stroke="#1d1d1b" stroke-width="0.9">особенно в часы пик с 12:00 до 16:00</text>
<rect x="1023" y="1019" width="666" height="164.2" rx="10" fill="#00AAFF"/>
<rect x="982.2" y="972.2" width="680.8" height="184.7" rx="10" fill="#EEF5FC"/>
<text x="1020.5" y="1026.4" font-size="36.5" fill="#1d1d1b" font-weight="normal" text-anchor="start" textLength="571.1" lengthAdjust="spacingAndGlyphs" stroke="#1d1d1b" stroke-width="0.9">Носите светлую, воздухопроницаемую</text>
<text x="1020.5" y="1073.2" font-size="36.5" fill="#1d1d1b" font-weight="normal" text-anchor="start" textLength="611.5" lengthAdjust="spacingAndGlyphs" stroke="#1d1d1b" stroke-width="0.9">одежду (желательно из хлопка или льна)</text>
<text x="1020.5" y="1120" font-size="36.5" fill="#1d1d1b" font-weight="normal" text-anchor="start" textLength="578.5" lengthAdjust="spacingAndGlyphs" stroke="#1d1d1b" stroke-width="0.9">и головной убор для защиты от солнца</text>
<rect x="1683" y="1269" width="620.7" height="164.2" rx="10" fill="#00AAFF"/>
<rect x="1642.2" y="1222.2" width="635.4" height="184.7" rx="10" fill="#EEF5FC"/>
<text x="1680.5" y="1276.4" font-size="36.5" fill="#1d1d1b" font-weight="normal" text-anchor="start" textLength="558.3" lengthAdjust="spacingAndGlyphs" stroke="#1d1d1b" stroke-width="0.9">Используйте солнцезащитные кремы,</text>
<text x="1680.5" y="1323.2" font-size="36.5" fill="#1d1d1b" font-weight="normal" text-anchor="start" textLength="549.9" lengthAdjust="spacingAndGlyphs" stroke="#1d1d1b" stroke-width="0.9">зонт и закрытую одежду для защиты</text>
<text x="1680.5" y="1370" font-size="36.5" fill="#1d1d1b" font-weight="normal" text-anchor="start" textLength="500.7" lengthAdjust="spacingAndGlyphs" stroke="#1d1d1b" stroke-width="0.9">кожи от прямых солнечных лучей</text>
<rect x="218.1" y="1532.3" width="580.3" height="113.9" rx="10" fill="#00AAFF"/>
<rect x="177.2" y="1485.5" width="595.1" height="134.9" rx="10" fill="#EEF5FC"/>
<text x="215.6" y="1539.7" font-size="36.5" fill="#1d1d1b" font-weight="normal" text-anchor="start" textLength="516.9" lengthAdjust="spacingAndGlyphs" stroke="#1d1d1b" stroke-width="0.9">Не занимайтесь активным спортом</text>
<text x="215.6" y="1585.8" font-size="36.5" fill="#1d1d1b" font-weight="normal" text-anchor="start" textLength="421.8" lengthAdjust="spacingAndGlyphs" stroke="#1d1d1b" stroke-width="0.9">при температуре выше 25 °C</text>
<rect x="1015.8" y="1502.4" width="480.8" height="172.4" rx="10" fill="#00AAFF"/>
<rect x="974.9" y="1454.6" width="495.5" height="193.6" rx="10" fill="#EEF5FC"/>
<text x="1009.8" y="1509.8" font-size="36.5" fill="#1d1d1b" font-weight="normal" text-anchor="start" textLength="414.4" lengthAdjust="spacingAndGlyphs" stroke="#1d1d1b" stroke-width="0.9">Соблюдать питьевой режим</text>
<text x="1009.8" y="1612.3" font-size="36.5" fill="#1d1d1b" font-weight="normal" text-anchor="start" textLength="383.8" lengthAdjust="spacingAndGlyphs" stroke="#1d1d1b" stroke-width="0.9">2,5–3 литров воды в сутки</text>
<text x="1047.2" y="1565.5" font-size="36.5" fill="#1d1d1b" font-weight="normal" text-anchor="start" textLength="341.6" lengthAdjust="spacingAndGlyphs" stroke="#1d1d1b" stroke-width="0.9">употребляйте не менее</text>
<rect x="1009.4" y="1553" width="24.6" height="3.4" fill="#FF311E"/>
<rect x="1615.2" y="1742.6" width="638.8" height="164" rx="10" fill="#00AAFF"/>
<rect x="1573.8" y="1695.8" width="654.2" height="184.7" rx="10" fill="#EEF5FC"/>
<text x="1612.6" y="1750" font-size="36.5" fill="#1d1d1b" font-weight="normal" text-anchor="start" textLength="476.6" lengthAdjust="spacingAndGlyphs" stroke="#1d1d1b" stroke-width="0.9">При необходимости принимайте</text>
<text x="1612.6" y="1797.2" font-size="36.5" fill="#1d1d1b" font-weight="normal" text-anchor="start" textLength="578.5" lengthAdjust="spacingAndGlyphs" stroke="#1d1d1b" stroke-width="0.9">прохладный душ несколько раз в день</text>
<text x="1612.6" y="1844" font-size="36.5" fill="#1d1d1b" font-weight="normal" text-anchor="start" textLength="487.4" lengthAdjust="spacingAndGlyphs" stroke="#1d1d1b" stroke-width="0.9">для снижения температуры тела</text>
<rect x="218.1" y="1992.9" width="721.7" height="163.6" rx="10" fill="#00AAFF"/>
<rect x="177.2" y="1945.6" width="736.5" height="184.7" rx="10" fill="#EEF5FC"/>
<text x="215.6" y="1999.8" font-size="36.5" fill="#1d1d1b" font-weight="normal" text-anchor="start" textLength="659.3" lengthAdjust="spacingAndGlyphs" stroke="#1d1d1b" stroke-width="0.9">Воздерживайтесь от плотных приемов пищи</text>
<text x="215.6" y="2046.6" font-size="36.5" fill="#1d1d1b" font-weight="normal" text-anchor="start" textLength="544" lengthAdjust="spacingAndGlyphs" stroke="#1d1d1b" stroke-width="0.9">и алкоголя, отдавайте предпочтение</text>
<text x="215.6" y="2093.4" font-size="36.5" fill="#1d1d1b" font-weight="normal" text-anchor="start" textLength="551.4" lengthAdjust="spacingAndGlyphs" stroke="#1d1d1b" stroke-width="0.9">кисломолочным продуктам и овощам</text>
<rect x="1032.4" y="1990.4" width="721.6" height="163.6" rx="10" fill="#00AAFF"/>
<rect x="991" y="1943.2" width="737.5" height="184.7" rx="10" fill="#EEF5FC"/>
<text x="1029.4" y="1997.3" font-size="36.5" fill="#1d1d1b" font-weight="normal" text-anchor="start" textLength="601.2" lengthAdjust="spacingAndGlyphs" stroke="#1d1d1b" stroke-width="0.9">Сохраняйте эмоциональное спокойствие</text>
<text x="1029.4" y="2044.1" font-size="36.5" fill="#1d1d1b" font-weight="normal" text-anchor="start" textLength="627.2" lengthAdjust="spacingAndGlyphs" stroke="#1d1d1b" stroke-width="0.9">– любое перевозбуждение усиливает риск</text>
<text x="1029.4" y="2091" font-size="36.5" fill="#1d1d1b" font-weight="normal" text-anchor="start" textLength="677.5" lengthAdjust="spacingAndGlyphs" stroke="#1d1d1b" stroke-width="0.9">возникновения теплового и солнечного удара</text>
<rect x="1557.6" y="2273.9" width="772" height="206.7" rx="10" fill="#00AAFF"/>
<rect x="1516.7" y="2226.7" width="785.7" height="228.3" rx="10" fill="#EEF5FC"/>
<text x="1555.9" y="2280.7" font-size="36.5" fill="#1d1d1b" font-weight="normal" text-anchor="start" textLength="713.1" lengthAdjust="spacingAndGlyphs" stroke="#1d1d1b" stroke-width="0.9">Следите за состоянием организма и при первых</text>
<text x="1555.9" y="2327.8" font-size="36.5" fill="#1d1d1b" font-weight="normal" text-anchor="start" textLength="633.5" lengthAdjust="spacingAndGlyphs" stroke="#1d1d1b" stroke-width="0.9">признаках перегрева принимайте меры по</text>
<text x="1555.9" y="2374.9" font-size="36.5" fill="#1d1d1b" font-weight="normal" text-anchor="start" textLength="594.3" lengthAdjust="spacingAndGlyphs" stroke="#1d1d1b" stroke-width="0.9">охлаждению. При ухудшении состояния</text>
<text x="1555.9" y="2422" font-size="36.5" fill="#1d1d1b" font-weight="normal" text-anchor="start" textLength="562.4" lengthAdjust="spacingAndGlyphs" stroke="#1d1d1b" stroke-width="0.9">обратитесь за медицинской помощью</text>
<rect x="218.2" y="2309.6" width="808.9" height="163.7" rx="10" fill="#00AAFF"/>
<rect x="177" y="2261.9" width="823.6" height="185.8" rx="10" fill="#EEF5FC"/>
<text x="216.6" y="2317.5" font-size="36.5" fill="#1d1d1b" font-weight="normal" text-anchor="start" textLength="736.3" lengthAdjust="spacingAndGlyphs" stroke="#1d1d1b" stroke-width="0.9">Обеспечивайте хорошую вентиляцию помещений</text>
<text x="216.6" y="2364.2" font-size="36.5" fill="#1d1d1b" font-weight="normal" text-anchor="start" textLength="745.1" lengthAdjust="spacingAndGlyphs" stroke="#1d1d1b" stroke-width="0.9">и избегайте нахождения в плохо проветриваемых</text>
<text x="216.6" y="2411" font-size="36.5" fill="#1d1d1b" font-weight="normal" text-anchor="start" textLength="651.2" lengthAdjust="spacingAndGlyphs" stroke="#1d1d1b" stroke-width="0.9">или некондиционированных пространствах</text>
<path d="M339,2587 H219.4 V2857.7 H1162.7 M1234.4,2857.7 H1466.7 V2587 H1243.5 M397,2587 H428.4" fill="none" stroke="#0A4F9E" stroke-width="4"/>
<text x="454.2" y="2594.2" font-size="40.5" fill="#0A4F9E" font-weight="normal" text-anchor="start" textLength="766.6" lengthAdjust="spacingAndGlyphs" stroke="#0A4F9E" stroke-width="0.8">Признаки теплового и солнечного ударов:</text>
<circle cx="297.1" cy="2657.7" r="7" fill="#E2211C"/>
<text x="320.3" y="2670.9" font-size="37.8" fill="#111" font-weight="normal" text-anchor="start" textLength="250.6" lengthAdjust="spacingAndGlyphs" stroke="#111" stroke-width="0.8">Головокружение</text>
<circle cx="297.1" cy="2704.3" r="7" fill="#E2211C"/>
<text x="320.3" y="2717.5" font-size="37.8" fill="#111" font-weight="normal" text-anchor="start" textLength="219.3" lengthAdjust="spacingAndGlyphs" stroke="#111" stroke-width="0.8">Головная боль</text>
<circle cx="297.1" cy="2751.1" r="7" fill="#E2211C"/>
<text x="320.3" y="2764.3" font-size="37.8" fill="#111" font-weight="normal" text-anchor="start" textLength="405.6" lengthAdjust="spacingAndGlyphs" stroke="#111" stroke-width="0.8">Учащенное сердцебиение</text>
<circle cx="297.1" cy="2798" r="7" fill="#E2211C"/>
<text x="320.3" y="2811.2" font-size="37.8" fill="#111" font-weight="normal" text-anchor="start" textLength="123.4" lengthAdjust="spacingAndGlyphs" stroke="#111" stroke-width="0.8">Тошнота</text>
<circle cx="812.8" cy="2657.7" r="7" fill="#E2211C"/>
<text x="835.2" y="2670.9" font-size="37.8" fill="#111" font-weight="normal" text-anchor="start" textLength="214.5" lengthAdjust="spacingAndGlyphs" stroke="#111" stroke-width="0.8">Холодный пот</text>
<circle cx="812.8" cy="2704.3" r="7" fill="#E2211C"/>
<text x="835.2" y="2717.5" font-size="37.8" fill="#111" font-weight="normal" text-anchor="start" textLength="573" lengthAdjust="spacingAndGlyphs" stroke="#111" stroke-width="0.8">Покраснение кожных покровов лица</text>
<circle cx="812.8" cy="2751.1" r="7" fill="#E2211C"/>
<text x="835.2" y="2764.3" font-size="37.8" fill="#111" font-weight="normal" text-anchor="start" textLength="175.7" lengthAdjust="spacingAndGlyphs" stroke="#111" stroke-width="0.8">Упадок сил</text>
<g transform="translate(355,2572) scale(1)" fill="none" stroke="#E2211C" stroke-width="8" stroke-linecap="round">
<path d="M0,-42 C16,-18 -14,10 -2,42"/><path d="M31,-56 C50,-28 12,-4 30,24"/>
</g>
<g transform="translate(1188,2872) scale(1)" fill="none" stroke="#E2211C" stroke-width="8" stroke-linecap="round">
<path d="M0,-42 C16,-18 -14,10 -2,42"/><path d="M31,-56 C50,-28 12,-4 30,24"/>
</g>
<text x="84" y="3447.4" font-size="46" fill="#00AAFF" font-weight="normal" text-anchor="start" textLength="116" lengthAdjust="spacingAndGlyphs" stroke="#00AAFF" stroke-width="0.8">asiz.ru</text>
<text x="541.3" y="3447.2" font-size="56.5" fill="#0A4F9E" font-weight="bold" text-anchor="start" textLength="223.8" lengthAdjust="spacingAndGlyphs" stroke="#0A4F9E" stroke-width="1.4">ПРАВИЛА</text>
<text x="787.1" y="3447.2" font-size="56.5" fill="#0A4F9E" font-weight="bold" text-anchor="start" textLength="384.2" lengthAdjust="spacingAndGlyphs" stroke="#0A4F9E" stroke-width="1.4">БЕЗОПАСНОСТИ.</text>
<text x="1188" y="3447.2" font-size="56.5" fill="#0A4F9E" font-weight="bold" text-anchor="start" textLength="242.2" lengthAdjust="spacingAndGlyphs" stroke="#0A4F9E" stroke-width="1.4">ТЕПЛОВОЙ</text>
<text x="1453" y="3447.2" font-size="56.5" fill="#0A4F9E" font-weight="bold" text-anchor="start" textLength="29.1" lengthAdjust="spacingAndGlyphs" stroke="#0A4F9E" stroke-width="1.4">И</text>
<text x="1504.1" y="3447.2" font-size="56.5" fill="#0A4F9E" font-weight="bold" text-anchor="start" textLength="288.8" lengthAdjust="spacingAndGlyphs" stroke="#0A4F9E" stroke-width="1.4">СОЛНЕЧНЫЙ</text>
<text x="1813.4" y="3447.2" font-size="56.5" fill="#0A4F9E" font-weight="bold" text-anchor="start" textLength="122.2" lengthAdjust="spacingAndGlyphs" stroke="#0A4F9E" stroke-width="1.4">УДАР</text>
<text x="2225" y="3447.2" font-size="44" fill="#00AAFF" font-weight="normal" text-anchor="start" textLength="170.2" lengthAdjust="spacingAndGlyphs" stroke="#00AAFF" stroke-width="0.8">Серия Л-9</text>
<ellipse cx="2301.7" cy="681.2" rx="6.7" ry="21" transform="rotate(-2.3 2301.7 681.2)" fill="#FDCF55"/>
<ellipse cx="2351.6" cy="692.6" rx="9.9" ry="21.7" transform="rotate(20.6 2351.6 692.6)" fill="#FDCF55"/>
<ellipse cx="2395.3" cy="717.3" rx="9.4" ry="19.8" transform="rotate(43.2 2395.3 717.3)" fill="#FDCF55"/>
<ellipse cx="2423.2" cy="752.3" rx="8.6" ry="19.3" transform="rotate(63.1 2423.2 752.3)" fill="#FDCF55"/>
<ellipse cx="2433.1" cy="804" rx="8.6" ry="20.2" transform="rotate(86.6 2433.1 804)" fill="#FDCF55"/>
<ellipse cx="2422" cy="858.5" rx="9.4" ry="22.2" transform="rotate(112.3 2422 858.5)" fill="#FDCF55"/>
<ellipse cx="2394.8" cy="898" rx="9.9" ry="23.5" transform="rotate(134.6 2394.8 898)" fill="#FDCF55"/>
<ellipse cx="2354.1" cy="926.4" rx="10.4" ry="20.2" transform="rotate(157.7 2354.1 926.4)" fill="#FDCF55"/>
<ellipse cx="2302.2" cy="931.4" rx="9.1" ry="22.2" transform="rotate(182.2 2302.2 931.4)" fill="#FDCF55"/>
<ellipse cx="2250.4" cy="917.8" rx="9.4" ry="21.7" transform="rotate(208 2250.4 917.8)" fill="#FDCF55"/>
<ellipse cx="2208.4" cy="889.4" rx="11.1" ry="18.5" transform="rotate(231.6 2208.4 889.4)" fill="#FDCF55"/>
<ellipse cx="2181.7" cy="850.4" rx="9.4" ry="19" transform="rotate(252.7 2181.7 850.4)" fill="#FDCF55"/>
<ellipse cx="2175.8" cy="808.9" rx="10.4" ry="20.7" transform="rotate(-88.9 2175.8 808.9)" fill="#FDCF55"/>
<ellipse cx="2183.7" cy="762.2" rx="9.4" ry="22.7" transform="rotate(-68.2 2183.7 762.2)" fill="#FDCF55"/>
<ellipse cx="2212.8" cy="717" rx="8.6" ry="22.2" transform="rotate(-44.9 2212.8 717)" fill="#FDCF55"/>
<ellipse cx="2252.8" cy="693.1" rx="8.6" ry="22.7" transform="rotate(-24.6 2252.8 693.1)" fill="#FDCF55"/>
<circle cx="2306.9" cy="811.4" r="86.7" fill="#FDCF55"/>
<circle cx="2306.9" cy="811.4" r="59.5" fill="#FBAB33"/>
<g id="illus">
<polygon points="36,3160 188,3160 340,3354 188,3354" fill="#00AAFF"/>
<polygon points="2293.5,3160 2444.5,3160 2293.5,3354 2142.6,3354" fill="#00AAFF"/>
<path d="M1818,3067.1 L1816.3,2953.7 C1812.4,2908.3 1843.6,2897 1869.1,2897 C1905.9,2897 1928.6,2919.7 1937.1,2936.7 C1931.5,2863 1974,2814.8 2019.4,2818.7 C2059.1,2826.1 2090.3,2868.6 2095.9,2905.5 C2107.3,2877.1 2147,2863 2155.5,2897 L2149.8,2933.8 C2175.3,2919.7 2206.5,2936.7 2217.9,2987.7 L2217.9,3067.1 Z" fill="#5A7049"/>
<polygon points="2054.5,3025 2344.3,3025 2075.3,3354 2041.3,3354 2291.7,3049.2 2054.5,3049.2" fill="#FF311E"/>
<path d="M434.4,3096.8 A55.2,55.2 0 0 1 462.5,3027.8 A15.3,15.3 0 0 1 485.5,3013.5 A22,22 0 0 1 503.4,2976.7 A36.1,36.1 0 0 1 571.4,2999.7 A19.9,19.9 0 0 1 605.6,3002.2 A56.2,56.2 0 0 1 710.4,3002.2 A56.1,56.1 0 0 1 784.5,3059.5 A35.1,35.1 0 0 1 818.3,3010.3 A17,17 0 0 1 840.3,3013.9 A35.5,35.5 0 0 1 896.5,2971 A34.9,41.1 21.5 0 1 961.4,2996.5 A44,44 0 0 1 1034.5,3043.5 A47.8,47.8 0 0 1 1127.5,3064 L1119.9,3094.7 L434.4,3165.8 Z" fill="#B3C97B"/>
<path d="M188.1,3159.6 A8.9,8.9 0 0 1 205.5,3163.2 A28.9,39.2 1.5 0 1 263.2,3164.7 A18.4,27.7 1.6 0 1 300,3165.8 A8.2,12.9 29.7 0 1 314.3,3173.9 L209.5,3188.8 Z" fill="#B3C97B"/>
<path d="M2125.4,3049.6 A22.6,22.6 0 0 1 2167.6,3034.6 A29.9,40.1 0 0 1 2227.3,3034.6 A11,14.3 43 0 1 2243.4,3049.6 Z" fill="#B3C97B"/>
<path d="M209,3187 C400,3165 700,3130 1000,3100 C1300,3075 1700,3055 2054.5,3048.5 L2054.5,3049.2 L2291.7,3049.2 L2041.3,3354 L340,3354 Z" fill="#C6D984"/>
<path d="M253.3,3243.4 C400,3264 520,3270 640,3267 C820,3262 1030,3234 1230,3192 C1420,3152 1720,3142 1900,3159 C2010,3168 2090,3180 2180,3186 L2041.3,3354 L340,3354 Z" fill="#B3C97B"/>
<path d="M396.1,3168.3 A47.6,47.6 0 0 1 467.6,3105.5 A33.8,59.2 10 0 1 534.1,3117.2 A17.7,44 10.8 0 1 568.8,3123.9 A57.2,57.2 0 0 1 673.6,3144.3 Z" fill="#5A7049"/>
<path d="M327.1,3353.8 A29,29 0 0 1 332.2,3301.2 A44.4,44.4 0 0 1 363.9,3339.5 A32.3,38.4 -4.5 0 1 428.3,3334.4 A11.5,15.5 12.8 0 1 450.8,3339.5 A17.7,17.7 0 0 1 483,3353.8 Z" fill="#5A7049"/>
<path d="M2041.3,3354 A42.1,42.1 0 0 1 2003.7,3284.3 A30.7,30.7 0 0 1 2044.9,3253.9 A40.8,40.8 0 0 1 2068.1,3182.3 A32.7,32.7 0 0 1 2106.8,3216.3 A25.1,25.1 0 0 1 2129,3178.7 A12,12 0 0 1 2147.6,3184.8 A59.3,59.3 0 0 1 2202.3,3126.1 A15.4,15.4 0 0 1 2222,3134.7 Z" fill="#5A7049"/>
<path d="M382.3,3107 A60.7,60.7 0 0 1 442.1,3067.6 A34,36.3 -67.9 0 1 467.6,3004.8 A24.2,26.4 -54.5 0 1 495.8,2965.4 A36.4,42.4 -4 0 1 568.3,2960.3" fill="none" stroke="#0A4F9E" stroke-width="3.6" stroke-linecap="round"/>
<path d="M387.4,3295.1 A28.6,28.6 0 0 1 428.3,3319.1 A14.5,14.5 0 0 1 454.9,3318.1" fill="none" stroke="#0A4F9E" stroke-width="3.6" stroke-linecap="round"/>
<path d="M2016.5,2794.9 A70.9,70.9 0 0 1 2104.4,2871.5 A31.7,31.7 0 0 1 2155.5,2857.3 A46.3,46.3 0 0 1 2170.8,2914" fill="none" stroke="#0A4F9E" stroke-width="3.6" stroke-linecap="round"/>
<polygon points="1221.4,3154.8 1229.9,3150.5 1238.4,3146 1247.1,3142 1255.9,3138.3 1264.9,3135 1274,3132 1283.2,3129.2 1292.4,3126.6 1301.6,3124.1 1310.9,3121.6 1320.2,3119.3 1329.4,3116.9 1338.7,3114.6 1348,3112.3 1357.3,3110 1366.6,3107.7 1375.9,3105.4 1385.2,3103.1 1394.5,3100.8 1403.8,3098.5 1413.1,3096.1 1422.4,3093.8 1431.6,3091.3 1440.9,3088.9 1450.1,3086.3 1459.3,3083.8 1468.6,3081.2 1477.8,3078.5 1487,3075.9 1496.2,3073.2 1505.3,3070.5 1514.5,3067.8 1523.7,3065.2 1533,3062.6 1542.2,3060 1551.4,3057.5 1560.7,3055 1570,3052.7 1579.3,3050.5 1588.6,3048.3 1597.9,3046.1 1607.3,3044 1616.6,3042 1626,3040.1 1635.5,3038.5 1644.9,3037 1654.4,3035.9 1664,3035 1673.5,3034.5 1683.1,3034.3 1692.7,3034.4 1702.2,3034.8 1711.8,3035.4 1721.4,3036.2 1730.9,3037 1740.4,3038 1749.9,3039 1759.5,3040 1769,3041 1778.5,3041.9 1780.7,3044.7 1782.9,3047.6 1785,3050.4 1787.2,3053.3 1789.3,3056.1 1791.5,3059 1793.7,3061.8 1795.8,3064.7 1798,3067.6 1800.2,3070.4 1802.3,3073.3 1804.5,3076.1 1806.6,3079 1808.8,3081.8 1811,3084.7 1813.1,3087.5 1815.3,3090.4 1817.5,3093.2 1819.6,3096.1 1821.8,3098.9 1824,3101.8 1826.2,3104.6 1828.3,3107.4 1830.5,3110.3 1832.7,3113.1 1834.9,3116 1837.1,3118.8 1839.3,3121.6 1841.5,3124.5 1843.6,3127.3 1845.8,3130.1 1848.1,3132.9 1850.3,3135.8 1852.5,3138.6 1854.7,3141.4 1856.9,3144.2 1859.1,3147 1861.3,3149.8 1863.6,3152.6 1865.8,3155.4 1868,3158.2 1870.3,3161 1872.5,3163.8 1874.7,3166.6 1877,3169.4 1879.2,3172.2 1881.4,3175 1883.7,3177.8 1885.9,3180.6 1888.1,3183.4 1890.4,3186.2 1892.6,3189 1894.9,3191.8 1897.1,3194.6 1899.3,3197.4 1901.6,3200.2 1903.8,3202.9 1906.1,3205.7 1908.3,3208.5 1910.5,3211.3 1901.8,3214.8 1893,3218.3 1884.3,3221.8 1875.5,3225.3 1866.8,3228.7 1858,3232.3 1849.3,3235.8 1840.5,3239.3 1831.7,3242.5 1822.8,3245.5 1813.8,3248.3 1804.7,3251 1795.7,3253.7 1786.6,3256.2 1777.5,3258.6 1768.4,3261 1759.2,3263.2 1750,3265.3 1740.8,3267.1 1731.5,3268.7 1722.2,3270 1712.8,3271.2 1703.5,3272.4 1694.1,3273.5 1684.8,3274.8 1675.5,3276.3 1666.2,3278.1 1657,3279.9 1647.8,3281.9 1638.6,3284 1629.5,3286.4 1620.5,3289.1 1611.6,3292.4 1603.1,3296.4 1595,3301.2 1587.2,3306.5 1579.4,3311.8 1571.5,3316.9 1563.8,3322.4 1556.2,3328 1548.4,3333.3 1540.1,3337.7 1531.3,3341 1522.2,3343.4 1512.9,3345.1 1503.6,3346.6 1494.3,3347.7 1484.9,3348.8 1475.5,3349.8 1466.2,3350.6 1456.8,3351.2 1447.3,3351.7 1437.9,3352 1428.5,3352.3 1419.1,3352.6 1409.7,3353 1400.3,3353.3 1390.8,3353.5 1381.4,3353.8 1372,3354 1369.5,3350.7 1367,3347.4 1364.4,3344.1 1361.9,3340.8 1359.4,3337.4 1356.9,3334.1 1354.4,3330.8 1351.8,3327.5 1349.3,3324.2 1346.8,3320.9 1344.3,3317.6 1341.8,3314.3 1339.2,3310.9 1336.7,3307.6 1334.2,3304.3 1331.7,3301 1329.2,3297.7 1326.6,3294.4 1324.1,3291.1 1321.6,3287.8 1319.1,3284.4 1316.6,3281.1 1314,3277.8 1311.5,3274.5 1309,3271.2 1306.5,3267.9 1304,3264.5 1301.5,3261.2 1299,3257.9 1296.4,3254.6 1293.9,3251.3 1291.4,3247.9 1288.9,3244.6 1286.4,3241.3 1283.9,3238 1281.4,3234.7 1278.9,3231.3 1276.4,3228 1273.9,3224.7 1271.4,3221.4 1268.9,3218 1266.4,3214.7 1263.9,3211.4 1261.4,3208 1258.9,3204.7 1256.4,3201.4 1253.9,3198.1 1251.4,3194.7 1248.9,3191.4 1246.4,3188.1 1243.9,3184.8 1241.4,3181.4 1238.9,3178.1 1236.4,3174.8 1233.9,3171.4 1231.4,3168.1 1228.9,3164.8 1226.4,3161.5 1223.9,3158.1 1221.4,3154.8" fill="#EEF4FB"/>
<polygon points="1221.4,3154.8 1229.9,3150.5 1238.4,3146 1247.1,3142 1255.9,3138.3 1264.9,3135 1274,3132 1283.2,3129.2 1292.4,3126.6 1301.6,3124.1 1310.9,3121.6 1320.2,3119.3 1329.4,3116.9 1338.7,3114.6 1348,3112.3 1357.3,3110 1366.6,3107.7 1375.9,3105.4 1385.2,3103.1 1394.5,3100.8 1403.8,3098.5 1413.1,3096.1 1422.4,3093.8 1431.6,3091.3 1440.9,3088.9 1450.1,3086.3 1459.3,3083.8 1468.6,3081.2 1477.8,3078.5 1487,3075.9 1496.2,3073.2 1505.3,3070.5 1514.5,3067.8 1523.7,3065.2 1533,3062.6 1542.2,3060 1551.4,3057.5 1560.7,3055 1570,3052.7 1579.3,3050.5 1588.6,3048.3 1597.9,3046.1 1607.3,3044 1616.6,3042 1626,3040.1 1635.5,3038.5 1644.9,3037 1654.4,3035.9 1664,3035 1673.5,3034.5 1683.1,3034.3 1692.7,3034.4 1702.2,3034.8 1711.8,3035.4 1721.4,3036.2 1730.9,3037 1740.4,3038 1749.9,3039 1759.5,3040 1769,3041 1778.5,3041.9 1780.7,3044.7 1782.9,3047.6 1785,3050.4 1787.2,3053.3 1789.3,3056.1 1791.5,3059 1793.7,3061.8 1795.8,3064.7 1798,3067.6 1800.2,3070.4 1802.3,3073.3 1804.5,3076.1 1806.6,3079 1808.8,3081.8 1811,3084.7 1813.1,3087.5 1815.3,3090.4 1817.5,3093.2 1819.6,3096.1 1821.8,3098.9 1824,3101.8 1826.2,3104.6 1828.3,3107.4 1830.5,3110.3 1832.7,3113.1 1834.9,3116 1837.1,3118.8 1839.3,3121.6 1841.5,3124.5 1843.6,3127.3 1845.8,3130.1 1848.1,3132.9 1850.3,3135.8 1852.5,3138.6 1854.7,3141.4 1856.9,3144.2 1859.1,3147 1861.3,3149.8 1863.6,3152.6 1865.8,3155.4 1868,3158.2 1870.3,3161 1872.5,3163.8 1874.7,3166.6 1877,3169.4 1879.2,3172.2 1881.4,3175 1883.7,3177.8 1885.9,3180.6 1888.1,3183.4 1890.4,3186.2 1892.6,3189 1894.9,3191.8 1897.1,3194.6 1899.3,3197.4 1901.6,3200.2 1903.8,3202.9 1906.1,3205.7 1908.3,3208.5 1910.5,3211.3 1901.8,3214.8 1893,3218.3 1884.3,3221.8 1875.5,3225.3 1866.8,3228.7 1858,3232.3 1849.3,3235.8 1840.5,3239.3 1831.7,3242.5 1822.8,3245.5 1813.8,3248.3 1804.7,3251 1795.7,3253.7 1786.6,3256.2 1777.5,3258.6 1768.4,3261 1759.2,3263.2 1750,3265.3 1740.8,3267.1 1731.5,3268.7 1722.2,3270 1712.8,3271.2 1703.5,3272.4 1694.1,3273.5 1684.8,3274.8 1675.5,3276.3 1666.2,3278.1 1657,3279.9 1647.8,3281.9 1638.6,3284 1629.5,3286.4 1620.5,3289.1 1611.6,3292.4 1603.1,3296.4 1595,3301.2 1587.2,3306.5 1579.4,3311.8 1571.5,3316.9 1563.8,3322.4 1556.2,3328 1548.4,3333.3 1540.1,3337.7 1531.3,3341 1522.2,3343.4 1512.9,3345.1 1503.6,3346.6 1494.3,3347.7 1484.9,3348.8 1475.5,3349.8 1466.2,3350.6 1456.8,3351.2 1447.3,3351.7 1437.9,3352 1428.5,3352.3 1419.1,3352.6 1409.7,3353 1400.3,3353.3 1390.8,3353.5 1381.4,3353.8 1372,3354 1369.5,3350.7 1367,3347.4 1364.4,3344.1 1361.9,3340.8 1359.4,3337.4 1356.9,3334.1 1354.4,3330.8 1351.8,3327.5 1349.3,3324.2 1346.8,3320.9 1344.3,3317.6 1341.8,3314.3 1339.2,3310.9 1336.7,3307.6 1334.2,3304.3 1331.7,3301 1329.2,3297.7 1326.6,3294.4 1324.1,3291.1 1321.6,3287.8 1319.1,3284.4 1316.6,3281.1 1314,3277.8 1311.5,3274.5 1309,3271.2 1306.5,3267.9 1304,3264.5 1301.5,3261.2 1299,3257.9 1296.4,3254.6 1293.9,3251.3 1291.4,3247.9 1288.9,3244.6 1286.4,3241.3 1283.9,3238 1281.4,3234.7 1278.9,3231.3 1276.4,3228 1273.9,3224.7 1271.4,3221.4 1268.9,3218 1266.4,3214.7 1263.9,3211.4 1261.4,3208 1258.9,3204.7 1256.4,3201.4 1253.9,3198.1 1251.4,3194.7 1248.9,3191.4 1246.4,3188.1 1243.9,3184.8 1241.4,3181.4 1238.9,3178.1 1236.4,3174.8 1233.9,3171.4 1231.4,3168.1 1228.9,3164.8 1226.4,3161.5 1223.9,3158.1 1221.4,3154.8" fill="none" stroke="#FF5A5A" stroke-width="3" stroke-linejoin="round"/>
<clipPath id="blc"><polygon points="1221.4,3154.8 1229.9,3150.5 1238.4,3146 1247.1,3142 1255.9,3138.3 1264.9,3135 1274,3132 1283.2,3129.2 1292.4,3126.6 1301.6,3124.1 1310.9,3121.6 1320.2,3119.3 1329.4,3116.9 1338.7,3114.6 1348,3112.3 1357.3,3110 1366.6,3107.7 1375.9,3105.4 1385.2,3103.1 1394.5,3100.8 1403.8,3098.5 1413.1,3096.1 1422.4,3093.8 1431.6,3091.3 1440.9,3088.9 1450.1,3086.3 1459.3,3083.8 1468.6,3081.2 1477.8,3078.5 1487,3075.9 1496.2,3073.2 1505.3,3070.5 1514.5,3067.8 1523.7,3065.2 1533,3062.6 1542.2,3060 1551.4,3057.5 1560.7,3055 1570,3052.7 1579.3,3050.5 1588.6,3048.3 1597.9,3046.1 1607.3,3044 1616.6,3042 1626,3040.1 1635.5,3038.5 1644.9,3037 1654.4,3035.9 1664,3035 1673.5,3034.5 1683.1,3034.3 1692.7,3034.4 1702.2,3034.8 1711.8,3035.4 1721.4,3036.2 1730.9,3037 1740.4,3038 1749.9,3039 1759.5,3040 1769,3041 1778.5,3041.9 1780.7,3044.7 1782.9,3047.6 1785,3050.4 1787.2,3053.3 1789.3,3056.1 1791.5,3059 1793.7,3061.8 1795.8,3064.7 1798,3067.6 1800.2,3070.4 1802.3,3073.3 1804.5,3076.1 1806.6,3079 1808.8,3081.8 1811,3084.7 1813.1,3087.5 1815.3,3090.4 1817.5,3093.2 1819.6,3096.1 1821.8,3098.9 1824,3101.8 1826.2,3104.6 1828.3,3107.4 1830.5,3110.3 1832.7,3113.1 1834.9,3116 1837.1,3118.8 1839.3,3121.6 1841.5,3124.5 1843.6,3127.3 1845.8,3130.1 1848.1,3132.9 1850.3,3135.8 1852.5,3138.6 1854.7,3141.4 1856.9,3144.2 1859.1,3147 1861.3,3149.8 1863.6,3152.6 1865.8,3155.4 1868,3158.2 1870.3,3161 1872.5,3163.8 1874.7,3166.6 1877,3169.4 1879.2,3172.2 1881.4,3175 1883.7,3177.8 1885.9,3180.6 1888.1,3183.4 1890.4,3186.2 1892.6,3189 1894.9,3191.8 1897.1,3194.6 1899.3,3197.4 1901.6,3200.2 1903.8,3202.9 1906.1,3205.7 1908.3,3208.5 1910.5,3211.3 1901.8,3214.8 1893,3218.3 1884.3,3221.8 1875.5,3225.3 1866.8,3228.7 1858,3232.3 1849.3,3235.8 1840.5,3239.3 1831.7,3242.5 1822.8,3245.5 1813.8,3248.3 1804.7,3251 1795.7,3253.7 1786.6,3256.2 1777.5,3258.6 1768.4,3261 1759.2,3263.2 1750,3265.3 1740.8,3267.1 1731.5,3268.7 1722.2,3270 1712.8,3271.2 1703.5,3272.4 1694.1,3273.5 1684.8,3274.8 1675.5,3276.3 1666.2,3278.1 1657,3279.9 1647.8,3281.9 1638.6,3284 1629.5,3286.4 1620.5,3289.1 1611.6,3292.4 1603.1,3296.4 1595,3301.2 1587.2,3306.5 1579.4,3311.8 1571.5,3316.9 1563.8,3322.4 1556.2,3328 1548.4,3333.3 1540.1,3337.7 1531.3,3341 1522.2,3343.4 1512.9,3345.1 1503.6,3346.6 1494.3,3347.7 1484.9,3348.8 1475.5,3349.8 1466.2,3350.6 1456.8,3351.2 1447.3,3351.7 1437.9,3352 1428.5,3352.3 1419.1,3352.6 1409.7,3353 1400.3,3353.3 1390.8,3353.5 1381.4,3353.8 1372,3354 1369.5,3350.7 1367,3347.4 1364.4,3344.1 1361.9,3340.8 1359.4,3337.4 1356.9,3334.1 1354.4,3330.8 1351.8,3327.5 1349.3,3324.2 1346.8,3320.9 1344.3,3317.6 1341.8,3314.3 1339.2,3310.9 1336.7,3307.6 1334.2,3304.3 1331.7,3301 1329.2,3297.7 1326.6,3294.4 1324.1,3291.1 1321.6,3287.8 1319.1,3284.4 1316.6,3281.1 1314,3277.8 1311.5,3274.5 1309,3271.2 1306.5,3267.9 1304,3264.5 1301.5,3261.2 1299,3257.9 1296.4,3254.6 1293.9,3251.3 1291.4,3247.9 1288.9,3244.6 1286.4,3241.3 1283.9,3238 1281.4,3234.7 1278.9,3231.3 1276.4,3228 1273.9,3224.7 1271.4,3221.4 1268.9,3218 1266.4,3214.7 1263.9,3211.4 1261.4,3208 1258.9,3204.7 1256.4,3201.4 1253.9,3198.1 1251.4,3194.7 1248.9,3191.4 1246.4,3188.1 1243.9,3184.8 1241.4,3181.4 1238.9,3178.1 1236.4,3174.8 1233.9,3171.4 1231.4,3168.1 1228.9,3164.8 1226.4,3161.5 1223.9,3158.1 1221.4,3154.8"/></clipPath>
<g clip-path="url(#blc)">
<path d="M1221.4,3154.8 L1228.9,3164.8 L1236.4,3174.8 L1243.9,3184.8 L1251.4,3194.7 L1258.9,3204.7 L1266.4,3214.7 L1273.9,3224.7 L1281.4,3234.7 L1288.9,3244.6 L1296.4,3254.6 L1304,3264.5 L1311.5,3274.5 L1319.1,3284.4 L1326.6,3294.4 L1334.2,3304.3 L1341.8,3314.3 L1349.3,3324.2 L1356.9,3334.1 L1364.4,3344.1 L1372,3354 M1253.7,3139.2 L1261.4,3149.9 L1269,3160.6 L1276.6,3171.4 L1284.3,3182.1 L1291.9,3192.8 L1299.6,3203.5 L1307.2,3214.2 L1314.9,3224.9 L1322.6,3235.6 L1330.2,3246.3 L1337.9,3257 L1345.6,3267.7 L1353.3,3278.4 L1361,3289.1 L1368.7,3299.7 L1376.5,3310.4 L1384.2,3321.1 L1391.9,3331.7 L1399.6,3342.4 L1407.3,3353 M1287.8,3127.9 L1295.5,3139.1 L1303.2,3150.4 L1310.9,3161.6 L1318.6,3172.8 L1326.3,3184 L1334,3195.3 L1341.7,3206.5 L1349.4,3217.7 L1357.1,3228.9 L1364.9,3240.1 L1372.6,3251.3 L1380.4,3262.5 L1388.2,3273.7 L1395.9,3284.8 L1403.7,3296 L1411.5,3307.2 L1419.3,3318.3 L1427.1,3329.5 L1434.9,3340.7 L1442.6,3351.8 M1322.5,3118.7 L1330.2,3130.3 L1337.9,3141.8 L1345.7,3153.4 L1353.4,3165 L1361.1,3176.6 L1368.8,3188.1 L1376.6,3199.7 L1384.3,3211.3 L1392.1,3222.8 L1399.8,3234.4 L1407.6,3245.9 L1415.4,3257.4 L1423.2,3269 L1431,3280.5 L1438.8,3292 L1446.6,3303.5 L1454.4,3315 L1462.3,3326.5 L1470.1,3338 L1477.9,3349.5 M1357.3,3110 L1365.1,3121.8 L1372.8,3133.6 L1380.5,3145.4 L1388.2,3157.2 L1396,3169 L1403.7,3180.8 L1411.5,3192.6 L1419.2,3204.3 L1427,3216.1 L1434.7,3227.9 L1442.5,3239.6 L1450.3,3251.4 L1458.1,3263.1 L1466,3274.8 L1473.8,3286.6 L1481.6,3298.3 L1489.4,3310 L1497.3,3321.7 L1505.1,3333.4 L1512.9,3345.1 M1392.2,3101.4 L1399.8,3113.1 L1407.5,3124.8 L1415.1,3136.5 L1422.8,3148.1 L1430.4,3159.8 L1438.1,3171.5 L1445.8,3183.2 L1453.4,3194.9 L1461.1,3206.6 L1468.8,3218.2 L1476.5,3229.9 L1484.3,3241.5 L1492,3253.1 L1499.8,3264.7 L1507.5,3276.3 L1515.3,3287.9 L1523.1,3299.5 L1530.8,3311.2 L1538.6,3322.8 L1546.4,3334.4 M1427,3092.5 L1434.4,3103.7 L1441.7,3114.8 L1449.1,3126 L1456.4,3137.1 L1463.8,3148.2 L1471.2,3159.4 L1478.6,3170.5 L1485.9,3181.6 L1493.3,3192.7 L1500.7,3203.8 L1508.2,3214.9 L1515.6,3226 L1523.1,3237.1 L1530.6,3248.1 L1538,3259.2 L1545.5,3270.2 L1553,3281.3 L1560.5,3292.3 L1568,3303.3 L1575.5,3314.4 M1461.6,3083.1 L1468.8,3093.8 L1475.9,3104.5 L1483,3115.1 L1490.1,3125.8 L1497.2,3136.5 L1504.3,3147.1 L1511.5,3157.8 L1518.6,3168.4 L1525.8,3179.1 L1532.9,3189.7 L1540.1,3200.3 L1547.3,3210.9 L1554.5,3221.5 L1561.8,3232 L1569,3242.6 L1576.3,3253.2 L1583.5,3263.7 L1590.8,3274.3 L1598,3284.9 L1605.2,3295.4 M1496.2,3073.2 L1503.2,3083.8 L1510.3,3094.4 L1517.3,3105 L1524.4,3115.6 L1531.4,3126.2 L1538.5,3136.7 L1545.5,3147.3 L1552.6,3157.9 L1559.7,3168.5 L1566.8,3179 L1573.9,3189.6 L1581.1,3200.1 L1588.3,3210.6 L1595.4,3221.1 L1602.6,3231.6 L1609.8,3242.1 L1617,3252.6 L1624.2,3263 L1631.4,3273.5 L1638.6,3284 M1530.7,3063.2 L1537.7,3073.9 L1544.8,3084.7 L1551.8,3095.4 L1558.9,3106.2 L1565.9,3116.9 L1573,3127.6 L1580,3138.3 L1587.1,3149.1 L1594.2,3159.8 L1601.3,3170.5 L1608.4,3181.1 L1615.6,3191.8 L1622.8,3202.4 L1630,3213.1 L1637.1,3223.7 L1644.4,3234.3 L1651.6,3244.9 L1658.8,3255.5 L1666,3266.1 L1673.2,3276.8 M1565.3,3053.9 L1572.4,3064.8 L1579.5,3075.8 L1586.5,3086.8 L1593.6,3097.7 L1600.6,3108.7 L1607.7,3119.6 L1614.8,3130.6 L1621.9,3141.5 L1629,3152.4 L1636.1,3163.3 L1643.2,3174.2 L1650.4,3185.1 L1657.6,3196 L1664.8,3206.8 L1672,3217.6 L1679.2,3228.5 L1686.5,3239.3 L1693.7,3250.1 L1700.9,3261 L1708.2,3271.8 M1600.3,3045.6 L1607.3,3056.7 L1614.4,3067.8 L1621.4,3079 L1628.5,3090.1 L1635.5,3101.2 L1642.6,3112.3 L1649.7,3123.4 L1656.8,3134.5 L1663.9,3145.6 L1671,3156.7 L1678.2,3167.7 L1685.3,3178.7 L1692.5,3189.7 L1699.7,3200.7 L1706.9,3211.7 L1714.2,3222.7 L1721.4,3233.7 L1728.6,3244.7 L1735.9,3255.7 L1743.1,3266.7 M1635.5,3038.5 L1642.5,3049.5 L1649.5,3060.6 L1656.5,3071.7 L1663.5,3082.8 L1670.5,3093.9 L1677.5,3104.9 L1684.6,3116 L1691.6,3127 L1698.7,3138.1 L1705.8,3149.1 L1712.9,3160.1 L1720,3171.1 L1727.2,3182.1 L1734.3,3193 L1741.5,3204 L1748.7,3214.9 L1755.9,3225.8 L1763.1,3236.8 L1770.3,3247.7 L1777.5,3258.6 M1671.1,3034.6 L1678.1,3045.4 L1685,3056.2 L1691.9,3067 L1698.8,3077.8 L1705.8,3088.6 L1712.7,3099.4 L1719.6,3110.1 L1726.6,3120.9 L1733.6,3131.7 L1740.6,3142.4 L1747.6,3153.1 L1754.6,3163.8 L1761.7,3174.5 L1768.8,3185.2 L1775.9,3195.8 L1783,3206.5 L1790.1,3217.1 L1797.3,3227.7 L1804.4,3238.4 L1811.5,3249 M1707,3035.1 L1713.8,3045.3 L1720.6,3055.5 L1727.4,3065.7 L1734.2,3075.9 L1741,3086.1 L1747.8,3096.3 L1754.6,3106.5 L1761.4,3116.7 L1768.3,3126.8 L1775.2,3137 L1782.1,3147.1 L1789,3157.2 L1796,3167.3 L1802.9,3177.3 L1809.9,3187.4 L1816.9,3197.4 L1823.9,3207.5 L1830.9,3217.5 L1837.9,3227.5 L1844.9,3237.6 M1742.8,3038.2 L1749.4,3047.6 L1756.1,3057 L1762.7,3066.4 L1769.4,3075.8 L1776,3085.2 L1782.7,3094.6 L1789.3,3103.9 L1796,3113.3 L1802.7,3122.6 L1809.4,3132 L1816.2,3141.3 L1823,3150.6 L1829.8,3159.8 L1836.6,3169.1 L1843.4,3178.3 L1850.3,3187.5 L1857.1,3196.8 L1864,3206 L1870.9,3215.2 L1877.7,3224.4 M1778.5,3041.9 L1785,3050.4 L1791.5,3059 L1798,3067.6 L1804.5,3076.1 L1811,3084.7 L1817.5,3093.2 L1824,3101.8 L1830.5,3110.3 L1837.1,3118.8 L1843.6,3127.3 L1850.3,3135.8 L1856.9,3144.2 L1863.6,3152.6 L1870.3,3161 L1877,3169.4 L1883.7,3177.8 L1890.4,3186.2 L1897.1,3194.6 L1903.8,3202.9 L1910.5,3211.3" fill="none" stroke="#F5453E" stroke-opacity="0.62" stroke-width="3.6" stroke-linejoin="round"/>
<path d="M1221.4,3154.8 L1234.2,3148.3 L1247.1,3142 L1260.4,3136.6 L1274,3132 L1287.8,3127.9 L1301.6,3124.1 L1315.5,3120.5 L1329.4,3116.9 L1343.4,3113.4 L1357.3,3110 L1371.3,3106.5 L1385.2,3103.1 L1399.2,3099.6 L1413.1,3096.1 L1427,3092.5 L1440.9,3088.9 L1454.7,3085.1 L1468.6,3081.2 L1482.4,3077.2 L1496.2,3073.2 L1509.9,3069.2 L1523.7,3065.2 L1537.6,3061.3 L1551.4,3057.5 L1565.3,3053.9 L1579.3,3050.5 L1593.3,3047.2 L1607.3,3044 L1621.3,3041.1 L1635.5,3038.5 L1649.7,3036.5 L1664,3035 L1678.3,3034.4 L1692.7,3034.4 L1707,3035.1 L1721.4,3036.2 L1735.7,3037.5 L1749.9,3039 L1764.2,3040.5 L1778.5,3041.9 M1238.1,3177 L1251,3171.1 L1264,3165.5 L1277.4,3160.7 L1291.1,3156.5 L1304.9,3152.8 L1318.8,3149.4 L1332.7,3146.1 L1346.6,3142.8 L1360.6,3139.5 L1374.5,3136.2 L1388.4,3132.8 L1402.3,3129.3 L1416.1,3125.4 L1429.7,3121.4 L1443.4,3117.3 L1457,3113.2 L1470.6,3108.9 L1484.3,3104.7 L1498.1,3100.7 L1511.8,3096.7 L1525.6,3092.8 L1539.4,3089 L1553.2,3085.2 L1567.1,3081.6 L1581,3078.2 L1595,3075 L1609,3071.9 L1622.9,3068.7 L1637,3065.8 L1651,3063.1 L1665.2,3060.9 L1679.4,3059.2 L1693.7,3058.2 L1707.9,3057.7 L1722.1,3057.8 L1736.3,3058.1 L1750.5,3058.7 L1764.6,3059.5 L1778.8,3060.2 L1792.9,3060.9 M1254.7,3199.2 L1267.8,3194 L1281,3189 L1294.5,3184.8 L1308.2,3181.1 L1322,3177.8 L1335.9,3174.7 L1349.8,3171.7 L1363.8,3168.6 L1377.7,3165.5 L1391.7,3162.4 L1405.6,3159.1 L1419.4,3155.4 L1432.9,3151.2 L1446.3,3146.6 L1459.7,3142.1 L1473.1,3137.4 L1486.5,3132.8 L1500,3128.3 L1513.7,3124.2 L1527.5,3120.3 L1541.3,3116.5 L1555.1,3112.8 L1568.9,3109.2 L1582.8,3105.8 L1596.7,3102.6 L1610.7,3099.6 L1624.6,3096.5 L1638.6,3093.5 L1652.6,3090.5 L1666.6,3087.7 L1680.7,3085.3 L1694.8,3083.4 L1709,3081.9 L1723.1,3081 L1737.2,3080.5 L1751.3,3080.1 L1765.3,3080 L1779.3,3080 L1793.3,3080 L1807.4,3079.9 M1271.4,3221.4 L1284.6,3216.9 L1297.9,3212.6 L1311.5,3208.9 L1325.3,3205.6 L1339.1,3202.7 L1353.1,3200 L1367,3197.3 L1381,3194.4 L1394.9,3191.6 L1408.9,3188.6 L1422.8,3185.4 L1436.5,3181.6 L1449.9,3176.9 L1462.9,3171.8 L1476.1,3166.8 L1489.2,3161.7 L1502.4,3156.6 L1515.8,3151.9 L1529.5,3147.7 L1543.2,3143.8 L1557,3140.1 L1570.8,3136.5 L1584.6,3133.1 L1598.5,3129.9 L1612.4,3126.9 L1626.4,3124.1 L1640.4,3121.2 L1654.3,3118.2 L1668.3,3115.2 L1682.2,3112.3 L1696.2,3109.7 L1710.3,3107.5 L1724.3,3105.7 L1738.4,3104.3 L1752.3,3103.1 L1766.3,3102 L1780.1,3101.2 L1794,3100.4 L1807.9,3099.7 L1821.8,3098.9 M1288.1,3243.5 L1301.5,3239.7 L1314.9,3236.1 L1328.6,3232.9 L1342.4,3230.1 L1356.3,3227.7 L1370.2,3225.3 L1384.2,3222.8 L1398.2,3220.2 L1412.1,3217.6 L1426.1,3214.8 L1440,3211.6 L1453.6,3207.7 L1466.8,3202.6 L1479.6,3197 L1492.5,3191.5 L1505.4,3186 L1518.4,3180.5 L1531.6,3175.4 L1545.2,3171.2 L1558.9,3167.3 L1572.7,3163.7 L1586.5,3160.3 L1600.3,3157 L1614.2,3154 L1628.2,3151.2 L1642.2,3148.6 L1656.1,3145.8 L1670.1,3142.9 L1684,3139.8 L1697.9,3136.9 L1711.8,3134.1 L1725.8,3131.6 L1739.8,3129.4 L1753.7,3127.5 L1767.5,3125.7 L1781.3,3123.9 L1795.1,3122.4 L1808.8,3120.9 L1822.6,3119.4 L1836.3,3117.9 M1304.8,3265.7 L1318.3,3262.6 L1331.9,3259.6 L1345.7,3256.9 L1359.5,3254.6 L1373.5,3252.6 L1387.5,3250.5 L1401.5,3248.4 L1415.4,3246 L1429.4,3243.6 L1443.4,3240.9 L1457.2,3237.8 L1470.8,3233.8 L1483.8,3228.3 L1496.4,3222.2 L1509,3216.2 L1521.7,3210.2 L1534.4,3204.2 L1547.5,3198.9 L1561,3194.6 L1574.7,3190.7 L1588.5,3187.2 L1602.3,3183.9 L1616.2,3180.8 L1630.1,3178 L1644,3175.4 L1658,3173 L1672,3170.3 L1685.9,3167.5 L1699.8,3164.4 L1713.7,3161.3 L1727.5,3158.4 L1741.4,3155.6 L1755.3,3153.1 L1769.1,3150.7 L1782.8,3148.2 L1796.5,3145.7 L1810.1,3143.4 L1823.7,3141.2 L1837.4,3139 L1851,3136.7 M1321.6,3287.8 L1335.3,3285.4 L1349,3283 L1362.8,3280.9 L1376.8,3279.1 L1390.7,3277.4 L1404.8,3275.7 L1418.8,3273.8 L1432.8,3271.7 L1446.8,3269.5 L1460.7,3267 L1474.6,3263.9 L1488.1,3259.8 L1500.9,3253.9 L1513.2,3247.3 L1525.6,3240.7 L1538,3234.3 L1550.5,3227.9 L1563.5,3222.3 L1577,3217.9 L1590.6,3214.1 L1604.4,3210.7 L1618.2,3207.5 L1632.1,3204.5 L1646,3201.9 L1660,3199.6 L1674,3197.3 L1688,3194.8 L1701.9,3192 L1715.7,3188.9 L1729.6,3185.7 L1743.4,3182.6 L1757.2,3179.5 L1771,3176.6 L1784.7,3173.7 L1798.3,3170.6 L1811.8,3167.4 L1825.3,3164.4 L1838.8,3161.4 L1852.3,3158.5 L1865.8,3155.4 M1338.4,3309.8 L1352.2,3308.1 L1366.1,3306.4 L1380,3304.9 L1394,3303.5 L1408,3302.2 L1422.1,3300.9 L1436.1,3299.3 L1450.1,3297.4 L1464.2,3295.4 L1478.1,3293.1 L1492,3290 L1505.4,3285.8 L1518,3279.5 L1530,3272.3 L1542.2,3265.3 L1554.4,3258.4 L1566.7,3251.6 L1579.5,3245.7 L1593,3241.2 L1606.6,3237.4 L1620.4,3234.1 L1634.2,3231 L1648.1,3228.2 L1662,3225.8 L1676,3223.7 L1690,3221.5 L1704,3219.2 L1717.9,3216.4 L1731.7,3213.3 L1745.5,3210 L1759.3,3206.7 L1773,3203.4 L1786.7,3200.1 L1800.3,3196.7 L1813.8,3192.9 L1827.2,3189.1 L1840.5,3185.3 L1853.9,3181.6 L1867.3,3177.9 L1880.7,3174.1 M1355.2,3331.9 L1369.2,3330.9 L1383.2,3329.9 L1397.2,3328.8 L1411.3,3327.9 L1425.3,3327 L1439.4,3326.1 L1453.5,3324.7 L1467.5,3323.1 L1481.6,3321.3 L1495.5,3319.1 L1509.4,3316.1 L1522.8,3311.7 L1535.2,3305.1 L1546.9,3297.3 L1558.8,3289.8 L1570.8,3282.4 L1582.9,3275.2 L1595.6,3269.1 L1609,3264.5 L1622.6,3260.7 L1636.4,3257.5 L1650.2,3254.6 L1664.1,3251.9 L1678.1,3249.7 L1692.1,3247.7 L1706.1,3245.8 L1720.1,3243.5 L1734,3240.8 L1747.8,3237.7 L1761.5,3234.3 L1775.2,3230.8 L1788.9,3227.2 L1802.5,3223.5 L1816,3219.6 L1829.4,3215.3 L1842.6,3210.7 L1855.8,3206.1 L1869.1,3201.7 L1882.4,3197.2 L1895.6,3192.7 M1372,3354 L1386.1,3353.6 L1400.3,3353.3 L1414.4,3352.8 L1428.5,3352.3 L1442.6,3351.8 L1456.8,3351.2 L1470.9,3350.2 L1484.9,3348.8 L1499,3347.1 L1512.9,3345.1 L1526.8,3342.2 L1540.1,3337.7 L1552.3,3330.6 L1563.8,3322.4 L1575.5,3314.4 L1587.2,3306.5 L1599.1,3298.8 L1611.6,3292.4 L1625,3287.8 L1638.6,3284 L1652.4,3280.9 L1666.2,3278.1 L1680.1,3275.6 L1694.1,3273.5 L1708.2,3271.8 L1722.2,3270 L1736.1,3267.9 L1750,3265.3 L1763.8,3262.1 L1777.5,3258.6 L1791.1,3254.9 L1804.7,3251 L1818.3,3246.9 L1831.7,3242.5 L1844.9,3237.6 L1858,3232.3 L1871.1,3227 L1884.3,3221.8 L1897.4,3216.6 L1910.5,3211.3" fill="none" stroke="#F5453E" stroke-opacity="0.62" stroke-width="3.6" stroke-linejoin="round"/>
</g>
<path d="M1221.4,3154.8 L1195.4,3159.8 M1233.9,3171.4 L1207.9,3176.4 M1246.4,3188.1 L1220.4,3193.1 M1258.9,3204.7 L1232.9,3209.7 M1271.4,3221.4 L1245.4,3226.4 M1283.9,3238 L1257.9,3243 M1296.4,3254.6 L1270.4,3259.6 M1309,3271.2 L1283,3276.2 M1321.6,3287.8 L1295.6,3292.8 M1334.2,3304.3 L1308.2,3309.3 M1346.8,3320.9 L1320.8,3325.9 M1359.4,3337.4 L1333.4,3342.4 M1372,3354 L1346,3359 M1226.4,3161.5 L1206.4,3169.5 M1238.9,3178.1 L1218.9,3186.1 M1251.4,3194.7 L1231.4,3202.7 M1263.9,3211.4 L1243.9,3219.4 M1276.4,3228 L1256.4,3236 M1288.9,3244.6 L1268.9,3252.6 M1301.5,3261.2 L1281.5,3269.2 M1314,3277.8 L1294,3285.8 M1326.6,3294.4 L1306.6,3302.4 M1339.2,3310.9 L1319.2,3318.9 M1351.8,3327.5 L1331.8,3335.5 M1364.4,3344.1 L1344.4,3352.1 M1787.2,3053.3 L1801.2,3042.3 M1795.8,3064.7 L1809.8,3053.7 M1804.5,3076.1 L1818.5,3065.1 M1813.1,3087.5 L1827.1,3076.5 M1821.8,3098.9 L1835.8,3087.9 M1830.5,3110.3 L1844.5,3099.3 M1839.3,3121.6 L1853.3,3110.6 M1848.1,3132.9 L1862.1,3121.9 M1856.9,3144.2 L1870.9,3133.2 M1865.8,3155.4 L1879.8,3144.4 M1874.7,3166.6 L1888.7,3155.6 M1883.7,3177.8 L1897.7,3166.8 M1892.6,3189 L1906.6,3178 M1901.6,3200.2 L1915.6,3189.2 M1910.5,3211.3 L1924.5,3200.3 M1910.5,3211.3 L1936.5,3208.3" fill="none" stroke="#FF5A5A" stroke-width="3" stroke-linecap="round"/>
<path d="M2052.3,2515.9 L1847.5,3285.7" stroke="#DDA15E" stroke-width="10" stroke-linecap="round" fill="none"/>
<path d="M1984,2769 L1958,2867" stroke="#C98D4F" stroke-width="10" fill="none"/>
<path d="M2053.5,2504 L2052.3,2520" stroke="#DDA15E" stroke-width="8" stroke-linecap="round" fill="none"/>
<polygon points="1779.8,3033.2 1811.6,3015.5 1823.4,3050.9 1838.2,3098.2 1848.6,3139.6 1870.7,3157.3 1885.5,3172.1 1899.5,3188.4 1895.9,3189.8 1882.6,3178 1897.3,3198 1893.6,3199 1876.6,3183.9 1888.5,3209.8 1884,3210.8 1867.8,3189.8 1875.2,3212.7 1872.2,3213.5 1860.4,3186.9 1834.5,3175.8 1822,3197.2 1815.3,3196 1824.9,3157.3 1823.4,3149.9 1814.6,3127.8 1796.8,3083.4" fill="#FEDCBE" stroke="#FEDCBE" stroke-width="2" stroke-linejoin="round"/>
<path d="M1670.3,2909 L1685.5,2801 Q1690,2761.4 1736.6,2749.3 Q1771,2751.7 1788.3,2757.2 Q1821,2766.6 1819.3,2809.7 L1807.2,2925.2 L1760.7,2919.3 Z" fill="#736357" />
<polygon points="1725.5,2899.3 1761.4,2899.3 1761.4,2926.9 1743.4,2935.5 1725.5,2926.9" fill="#F4C8A6" />
<ellipse cx="1809.7" cy="2852.8" rx="9" ry="16" fill="#F4C8A6" transform="rotate(12 1809.7 2852.8)"/>
<path d="M1689,2806.2 C1678.9,2815.4 1688.4,2839 1690,2851 C1691.6,2863.1 1694.3,2870.3 1698.6,2878.6 C1702.9,2887 1709,2895.4 1715.9,2901 C1722.8,2906.7 1732,2911.1 1740,2912.4 C1748,2913.7 1756.7,2912.3 1764.1,2909 C1771.6,2905.6 1779,2899.2 1784.8,2892.4 C1790.7,2885.6 1795.5,2878 1799.3,2868.3 C1803.1,2858.5 1806,2843.6 1807.6,2833.8 C1809.2,2824 1818.5,2816 1809,2809.7 C1799.4,2803.3 1770.3,2796.4 1750.3,2795.9 C1730.3,2795.3 1699,2797 1689,2806.2 Z" fill="#FEDCBE" />
<path d="M1684.1,2810.3 L1735.9,2819.3 L1738.3,2800 L1744.1,2817.2 L1752.1,2820 L1755.5,2802.8 L1759,2820.7 L1808.3,2829.7 L1819.3,2807.9 Q1821,2766.6 1788.3,2757.2 Q1771,2751.7 1736.6,2749.3 Q1690,2761.4 1685.5,2801 Z" fill="#736357" />
<path d="M1712.4,2813.8 L1733.1,2817.2 M1762.4,2821 L1783.1,2824.8" stroke="#5C4A3D" stroke-width="6.5" stroke-linecap="round" fill="none"/>
<circle cx="1720" cy="2837.2" r="8.5" fill="#fff"/><circle cx="1720.5" cy="2837.7" r="4.3" fill="#666"/>
<circle cx="1768.3" cy="2844.1" r="8.5" fill="#fff"/><circle cx="1768.8" cy="2844.6" r="4.3" fill="#666"/>
<path d="M1731.4,2855.5 L1735.9,2863.4" stroke="#E3AC7E" stroke-width="3" stroke-linecap="round" fill="none"/>
<path d="M1740.7,2881 Q1752.1,2884.8 1760.7,2877.6" stroke="#C1272D" stroke-width="3" stroke-linecap="round" fill="none"/>
<g fill="rgba(255,255,255,0.18)" stroke="#10161F" stroke-width="5" stroke-linejoin="round">
<path d="M1690.3,2826.2 C1697.7,2823.7 1728.4,2826.6 1735.9,2831 C1743.3,2835.5 1737.3,2848 1734.8,2852.8 C1732.4,2857.5 1726.8,2858.7 1721,2859.3 C1715.3,2859.9 1705.2,2858.4 1700.3,2856.2 C1695.5,2854 1693.4,2850.9 1691.7,2845.9 C1690.1,2840.9 1683,2828.7 1690.3,2826.2 Z"/>
<path d="M1749.7,2833.1 C1757.8,2830.8 1791.1,2834.3 1798.6,2839 C1806.1,2843.7 1797.6,2856.6 1794.5,2861.4 C1791.3,2866.1 1785.9,2867.1 1779.7,2867.6 C1773.4,2868 1762.2,2866.6 1757.2,2864.1 C1752.2,2861.7 1750.9,2857.9 1749.7,2852.8 C1748.4,2847.6 1741.5,2835.4 1749.7,2833.1 Z"/>
</g>
<path d="M1684.8,2822.1 L1736.6,2828.3 L1802.8,2837.2" stroke="#10161F" stroke-width="8" stroke-linejoin="round" stroke-linecap="round" fill="none"/>
<path d="M1455.9,3049.3 C1462.4,3039.2 1454.2,3039.7 1470.6,3038.4 C1487.1,3037.1 1525.6,3040.4 1554.4,3041.4 C1583.1,3042.4 1618.4,3034.8 1643.1,3044.3 C1667.7,3053.9 1686.6,3081.3 1702.2,3098.5 C1717.8,3115.8 1734.6,3135.9 1736.7,3147.8 C1738.7,3159.7 1724.3,3164 1714.5,3170 C1704.6,3175.9 1692.7,3182.7 1677.5,3183.3 C1662.3,3183.8 1652.9,3176 1623.3,3173.4 C1593.8,3170.8 1529.8,3166.2 1500.2,3167.5 C1470.6,3168.8 1471.9,3176.5 1446,3181.3 C1420.1,3186 1363.7,3201.2 1345,3196.1 C1326.3,3190.9 1323.8,3161.4 1333.7,3150.2 C1343.5,3139.1 1387.9,3137.7 1404.1,3129.1 C1420.4,3120.4 1422.6,3111.8 1431.2,3098.5 C1439.9,3085.2 1449.3,3059.3 1455.9,3049.3 Z" fill="#1260A9" />
<polygon points="1396.7,3188.7 1440.1,3201 1451.9,3173.4 1411.5,3170" fill="#1260A9" />
<polygon points="1487.9,3106.4 1500.2,3092.6 1527.3,3103.4" fill="#EEF4FB" />
<path d="M1528.8,3103.4 L1623.3,3103.4 L1616,3097.5" stroke="#0E3F86" stroke-width="2" fill="none"/>
<polygon points="1333.2,3150.2 1340.6,3149.5 1348.9,3196 1342.4,3197.5" fill="#1087CF" stroke="#1087CF" stroke-width="3" stroke-linejoin="round"/>
<polygon points="1395.7,3189.1 1439.5,3196.5 1438.8,3202.3 1395.4,3194" fill="#1087CF" stroke="#1087CF" stroke-width="3" stroke-linejoin="round"/>
<polygon points="1308.2,3165.4 1333.7,3157.6 1338.7,3180.7 1323,3186.8 1310.1,3177.5" fill="#F0CDBD" />
<polygon points="1403.7,3196.5 1429.6,3202.6 1422.2,3224.2 1413.6,3230 1405,3227.9 1397.3,3217.4" fill="#F0CDBD" />
<path d="M1256.9,3143.7 C1256.8,3146.9 1255.4,3152.5 1258.7,3159.4 C1262,3166.4 1269.8,3176.8 1276.8,3185.3 C1283.8,3193.8 1295.6,3205.8 1300.8,3210.2 C1306.1,3214.7 1305.2,3213.6 1308.2,3211.9 C1311.3,3210.2 1316.3,3203.8 1319.3,3200.1 C1322.3,3196.3 1327.9,3193.2 1326.3,3189.4 C1324.8,3185.5 1313,3181 1310.1,3177 C1307.1,3173 1311.8,3168.8 1308.6,3165.4 C1305.4,3161.9 1295.8,3159.1 1290.7,3156.3 C1285.5,3153.5 1281.8,3151.5 1277.8,3148.7 C1273.7,3145.9 1269.2,3140.8 1266.1,3139.5 C1263,3138.1 1260.8,3139.9 1259.3,3140.6 C1257.7,3141.3 1257,3140.6 1256.9,3143.7 Z" fill="#B5282A" />
<path d="M1262.4,3141.9 C1262,3144.8 1260.6,3150.7 1263.9,3157.6 C1267.2,3164.5 1275.4,3175.1 1282.4,3183.5 C1289.3,3191.8 1300.7,3203.5 1305.5,3207.5 C1310.2,3211.5 1307.5,3210.5 1311,3207.5 C1314.5,3204.5 1326.5,3194.4 1326.3,3189.4 C1326.2,3184.3 1313,3181 1310.1,3177 C1307.1,3173 1311.8,3168.8 1308.6,3165.4 C1305.4,3161.9 1295.8,3159.1 1290.7,3156.3 C1285.5,3153.5 1281.8,3151.5 1277.8,3148.7 C1273.7,3146 1269.2,3141 1266.7,3139.9 C1264.1,3138.7 1262.9,3138.9 1262.4,3141.9 Z" fill="#D66052" />
<path d="M1310.5,3176.1 C1311.4,3175.9 1316.5,3184.2 1319.3,3186.2 C1322.1,3188.2 1326.5,3187 1327.1,3188.1 C1327.7,3189.2 1325.2,3192.8 1323,3192.7 C1320.8,3192.5 1315.9,3189.9 1313.8,3187.1 C1311.7,3184.4 1309.5,3176.2 1310.5,3176.1 Z" fill="#D66052" />
<path d="M1291.2,3157.6 L1289,3170.9 M1299.4,3161.3 L1297.1,3173.8" stroke="#B5282A" stroke-width="3.4" stroke-linecap="round" fill="none"/>
<path d="M1300.8,3157.6 Q1292.5,3145.6 1299.4,3143.2 Q1305.5,3144.7 1301.8,3157.2 M1302.3,3157.2 Q1308.2,3143.7 1313.4,3146.9 Q1314.1,3153 1303.1,3157.6" stroke="#B5282A" stroke-width="2.4" stroke-linecap="round" fill="none"/>
<path d="M1344.4,3234 C1344.2,3236.1 1345.2,3239.6 1347.7,3242 C1350.2,3244.5 1353.8,3246.8 1359.4,3248.8 C1365.1,3250.9 1371.7,3252.6 1381.6,3254.4 C1391.4,3256.1 1411.1,3259.1 1418.5,3259.4 C1426,3259.7 1424.6,3258 1426.2,3256.2 C1427.8,3254.4 1427.8,3253.5 1428.1,3248.8 C1428.5,3244.1 1428.7,3232 1428.1,3227.9 C1427.6,3223.8 1427.9,3224 1424.7,3224.2 C1421.4,3224.4 1413.3,3230.2 1408.7,3229.1 C1404.1,3228 1401.5,3218.6 1397,3217.4 C1392.5,3216.2 1386.2,3220 1381.6,3221.7 C1377,3223.4 1374.7,3226.3 1369.3,3227.6 C1363.8,3229 1353.1,3228.7 1348.9,3229.7 C1344.8,3230.8 1344.6,3232 1344.4,3234 Z" fill="#B5282A" />
<path d="M1345.2,3232.2 C1345.6,3233.7 1346.8,3236.7 1350.8,3239 C1354.8,3241.2 1360,3243.4 1369.3,3245.7 C1378.5,3248 1396.8,3251.6 1406.2,3252.8 C1415.6,3253.9 1422.3,3255.1 1425.9,3252.8 C1429.6,3250.5 1427.8,3243.1 1428.1,3239 C1428.5,3234.8 1428.7,3230.3 1428.1,3227.9 C1427.6,3225.4 1426.3,3224.2 1424.7,3224.2 C1423.1,3224.2 1421.2,3227 1418.5,3227.9 C1415.9,3228.7 1411.5,3230 1408.7,3229.4 C1405.8,3228.7 1403.3,3226.2 1401.3,3224.2 C1399.3,3222.2 1399.9,3217.8 1396.6,3217.4 C1393.3,3217 1386.1,3220 1381.6,3221.7 C1377,3223.4 1374.7,3226.3 1369.3,3227.6 C1363.8,3229 1352.9,3229 1348.9,3229.7 C1344.9,3230.5 1344.9,3230.7 1345.2,3232.2 Z" fill="#D66052" />
<path d="M1379.4,3224.4 L1386.5,3236.3 M1387.5,3220.7 L1395.4,3232.6" stroke="#B5282A" stroke-width="2.4" stroke-linecap="round" fill="none"/>
<path d="M1387.1,3219.3 Q1373,3213.1 1374.8,3208.8 Q1380.3,3206.9 1387.7,3219 M1388,3219 Q1385.3,3204.5 1389,3202.3 Q1393.9,3205.7 1389.2,3219" stroke="#B5282A" stroke-width="2.2" stroke-linecap="round" fill="none"/>
<polygon points="1643.4,2973.4 1595.2,3006.2 1559,2966.6 1543.4,2949.3 1530.3,2940.7 1522.1,2935.5 1522.8,2944.8 1530.3,2961.4 1527.9,2982.1 1543.4,2990.7 1577.9,3030.3 1591.7,3040.7 1609,3044.8 1644.1,3047.6 1663.4,3016.6 1660.7,2992.4" fill="#FEDCBE" stroke="#FEDCBE" stroke-width="3" stroke-linejoin="round"/>
<polygon points="1646.9,2976.9 1663.4,2995.9 1663.4,3020 1646.9,3045.9 1643.4,3045.9 1655.5,3016.6" fill="#F4C8A6" />
<polygon points="1483.1,2914.8 1537.6,2914.8 1526.2,2987.2 1494.5,2987.2" fill="#A9E4F4" fill-opacity="0.92"/>
<polygon points="1483.1,2914.8 1537.6,2914.8 1536.6,2923.4 1484.1,2923.4" fill="#D2F1FA" />
<rect x="1492.4" y="2913.8" width="9" height="9" rx="2" fill="#E4F8FC" transform="rotate(-12 1496.9 2918.3)"/>
<rect x="1520" y="2913.8" width="9" height="9" rx="2" fill="#E4F8FC" transform="rotate(-12 1524.5 2918.3)"/>
<rect x="1509.6" y="2927.6" width="9" height="9" rx="2" fill="#E4F8FC" transform="rotate(-12 1514.1 2932.1)"/>
<rect x="1495.8" y="2943.1" width="9" height="9" rx="2" fill="#E4F8FC" transform="rotate(-12 1500.3 2947.6)"/>
<rect x="1494.8" y="2929.3" width="9" height="9" rx="2" fill="#E4F8FC" transform="rotate(-12 1499.3 2933.8)"/>
<rect x="1515.5" y="2949.3" width="9" height="9" rx="2" fill="#E4F8FC" transform="rotate(-12 1520 2953.8)"/>
<path d="M1521,2935.5 C1521,2932.1 1526.6,2938.4 1530.3,2940.7 C1534.1,2943 1539.3,2945.6 1543.4,2949.3 C1547.6,2953 1555.5,2958.8 1555.5,2963.1 C1555.5,2967.4 1547.6,2975.5 1543.4,2975.2 C1539.3,2974.9 1534.1,2968 1530.3,2961.4 C1526.6,2954.8 1521,2939 1521,2935.5 Z" fill="#FEDCBE" />
<path d="M1721,2920 L1688.3,2921.7 Q1665.9,2928.6 1638.3,2970 L1660.7,2993.1 L1663.4,3016.6 L1641.7,3049.3 L1643.1,3044.3 Q1682.5,3118.2 1753.9,3160.1 L1774.7,3033.2 L1779.8,3033.2 L1819.3,3009.6 L1810.7,2976.9 L1796.9,2937.9 Q1784.8,2925.2 1765.9,2921.7 Q1743.4,2940.7 1721,2920 Z" fill="#D66052" />
<polygon points="1769.5,2990.3 1770.2,3022.9 1775,3033.5 1754.3,3158.8 1764.3,3071.6" fill="#BC544B" />
<path d="M1665.2,3064 L1697.2,3105.9" stroke="#C4534A" stroke-width="2" fill="none"/>
<path d="M2052.3,2515.9 Q1786.8,2505.7 1645.1,2566.9 L1650.7,2576.6 Z" fill="#EDEDED" />
<path d="M2052.3,2515.9 Q2257.6,2613.4 2359.6,2732.5 L2359.6,2783.6 L2334.1,2810.8 L2325.6,2759.7 Z" fill="#F2F2F2" />
<polygon points="2325.6,2759.7 2359.6,2732.5 2359.6,2783.6 2334.1,2810.8" fill="#DDDFDF" />
<path d="M2052.3,2515.9 Q1798.2,2522.7 1645.1,2568.1 Q1724.5,2604.9 1798.2,2648.6 Q1900.3,2573.7 2052.3,2515.9 Z" fill="#E02020" />
<path d="M1645.1,2568.1 Q1724.5,2604.9 1798.2,2648.6 L1772.7,2697.4 Q1701.8,2664.5 1632.6,2625.9 Z" fill="#CC0000" />
<path d="M2052.3,2515.9 Q1900.3,2573.7 1798.2,2648.6 Q1945.6,2704.2 2098.8,2732.5 Q2087.4,2613.4 2052.3,2515.9 Z" fill="#F2F2F2" />
<path d="M1798.2,2648.6 Q1945.6,2704.2 2098.8,2732.5 L2073.2,2788.1 Q1928.6,2760.9 1799.3,2707 Z" fill="#DDDFDF" />
<path d="M2052.3,2515.9 Q2087.4,2613.4 2098.8,2732.5 Q2212.2,2752.4 2325.6,2759.7 Q2212.2,2630.4 2052.3,2515.9 Z" fill="#E02020" />
<path d="M2098.8,2732.5 Q2212.2,2752.4 2325.6,2759.7 L2308.6,2823.3 Q2200.8,2817.6 2095.9,2794.9 Z" fill="#CC0000" />
</g>
<path d="M0,3355.8 H2075.3 L2153.3,3261 H2481" fill="none" stroke="#0A4F9E" stroke-width="4.5"/>
</svg>
</body></html>
